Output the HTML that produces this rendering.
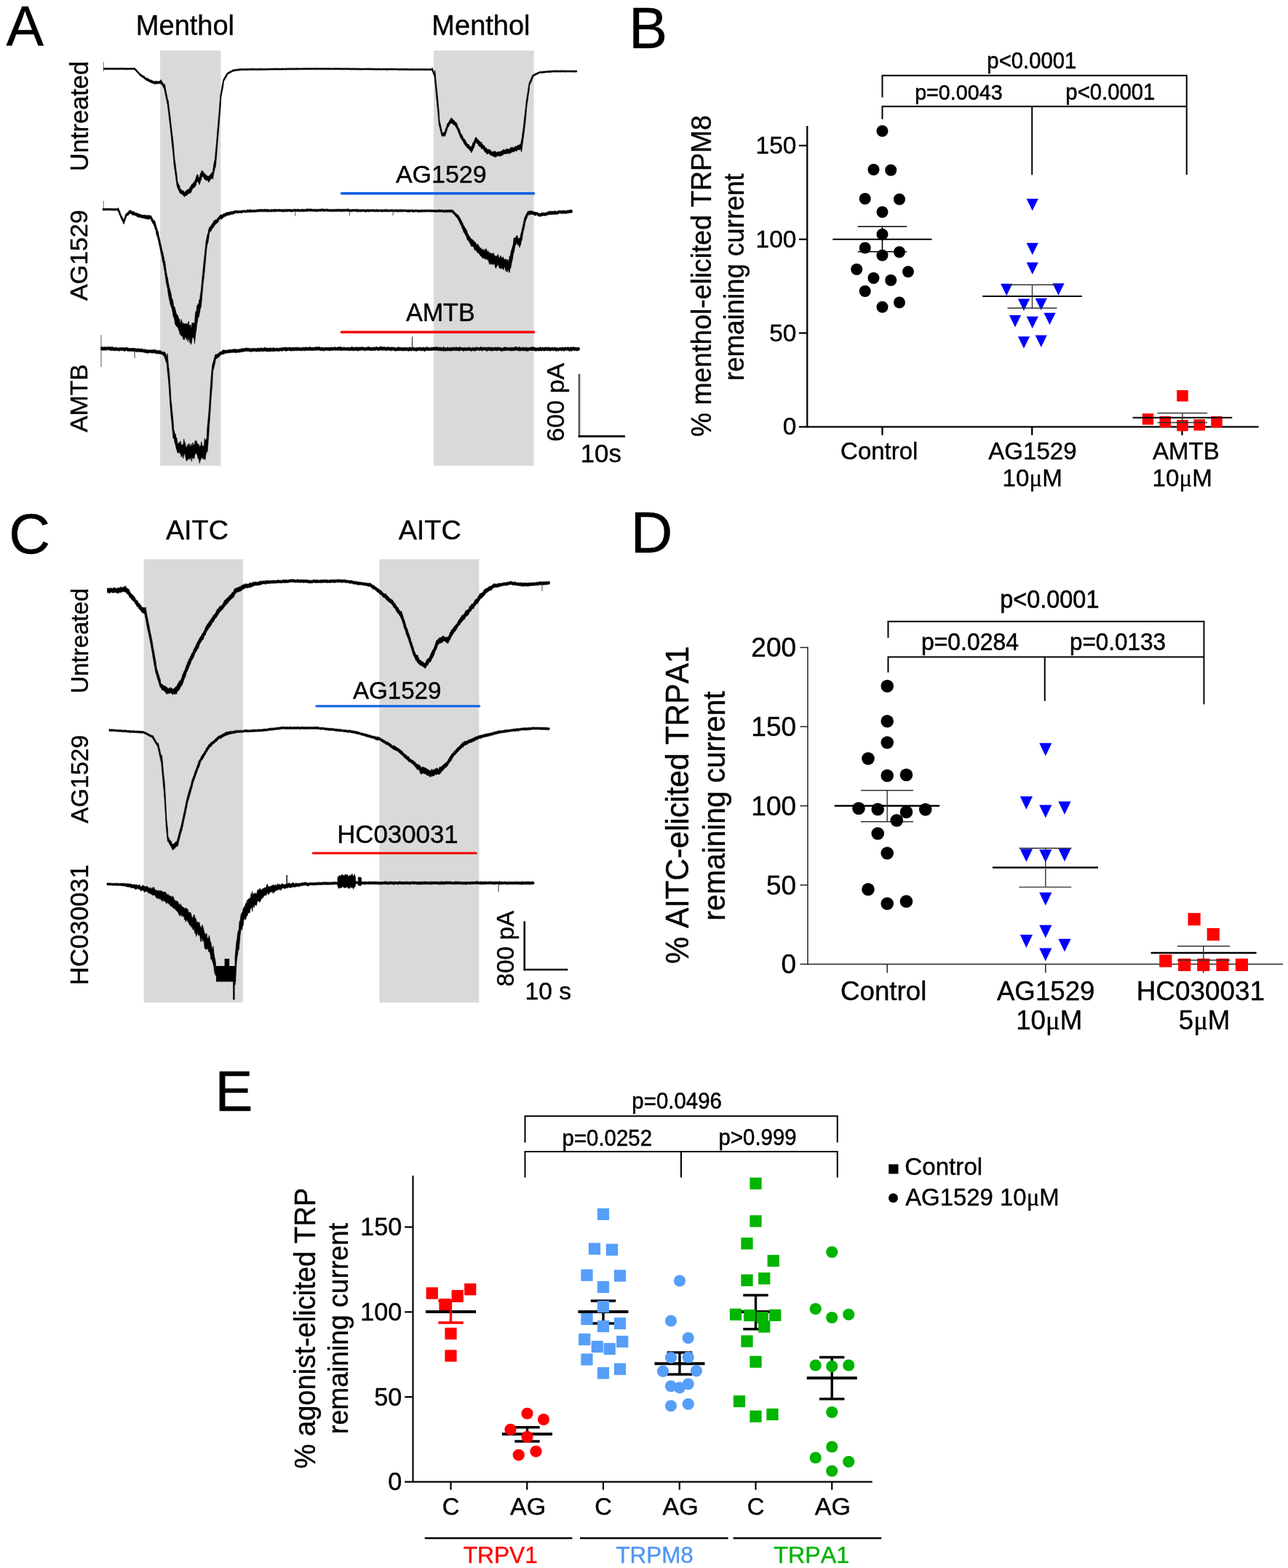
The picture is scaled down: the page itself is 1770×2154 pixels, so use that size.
<!DOCTYPE html>
<html lang="en">
<head>
<meta charset="utf-8">
<title>Figure: AG1529 effect on TRPM8 and TRPA1 currents</title>
<style>
html,body{margin:0;padding:0;background:#fff;}
body{width:1770px;height:2154px;overflow:hidden;}
svg{display:block;font-family:"Liberation Sans",sans-serif;font-kerning:none;}
</style>
</head>
<body>
<svg width="1770" height="2154" viewBox="0 0 1770 2154">
<rect x="0" y="0" width="1770" height="2154" fill="#ffffff"/>
<g id="panelA">
<rect x="220.10" y="69.40" width="83.30" height="570.40" fill="#d9d9d9"/>
<rect x="596.00" y="69.40" width="137.60" height="570.40" fill="#d9d9d9"/>
<text x="8.56" y="63.00" font-size="77.36" fill="#000" stroke="#000" stroke-width="0.40">A</text>
<text x="186.87" y="47.50" font-size="38.00" fill="#000" stroke="#000" stroke-width="0.40">Menthol</text>
<text x="593.37" y="47.50" font-size="38.00" fill="#000" stroke="#000" stroke-width="0.40">Menthol</text>
<text transform="translate(121.00 235.17) rotate(-90)" font-size="34.47" fill="#000" stroke="#000" stroke-width="0.40">Untreated</text>
<text transform="translate(119.50 413.08) rotate(-90)" font-size="33.97" fill="#000" stroke="#000" stroke-width="0.40">AG1529</text>
<text transform="translate(119.50 593.83) rotate(-90)" font-size="33.69" fill="#000" stroke="#000" stroke-width="0.40">AMTB</text>
<line x1="469.50" y1="265.70" x2="733.50" y2="265.70" stroke="#0b5ee6" stroke-width="3.60" stroke-linecap="round"/>
<text x="543.92" y="250.75" font-size="33.97" fill="#000" stroke="#000" stroke-width="0.40">AG1529</text>
<line x1="469.50" y1="456.30" x2="733.50" y2="456.30" stroke="#f60000" stroke-width="3.60" stroke-linecap="round"/>
<text x="557.91" y="441.00" font-size="34.15" fill="#000" stroke="#000" stroke-width="0.40">AMTB</text>
<line x1="796.00" y1="513.75" x2="796.00" y2="600.50" stroke="#555" stroke-width="2.60" stroke-linecap="butt"/>
<line x1="794.70" y1="599.40" x2="859.00" y2="599.40" stroke="#000" stroke-width="2.60" stroke-linecap="butt"/>
<text transform="translate(775.00 606.70) rotate(-90)" font-size="34.08" fill="#000" stroke="#000" stroke-width="0.40">600 pA</text>
<text x="797.70" y="635.00" font-size="34.90" fill="#000" stroke="#000" stroke-width="0.40">10s</text>
<line x1="142.30" y1="85.00" x2="142.30" y2="98.50" stroke="#888" stroke-width="1.20" stroke-linecap="butt"/>
<line x1="142.30" y1="276.00" x2="142.30" y2="290.00" stroke="#888" stroke-width="1.20" stroke-linecap="butt"/>
<line x1="139.00" y1="460.00" x2="139.00" y2="504.00" stroke="#888" stroke-width="1.40" stroke-linecap="butt"/>
<path d="M142.5 93.5L143.4 93.6L144.3 93.5L145.2 93.3L146 93.4L146.9 93.5L147.8 93.4L148.7 93.3L149.6 93.4L150.5 93.4L151.4 93.4L152.2 93.5L153.1 93.4L154 93.5L154.9 93.5L155.8 93.6L156.7 93.5L157.6 93.3L158.4 93.5L159.3 93.5L160.2 93.4L161.1 93.6L162 93.5L162.9 93.5L163.8 93.4L164.6 93.5L165.5 93.5L166.4 93.2L167.3 93.5L168.2 93.4L169.1 93.4L169.9 93.4L170.8 93.5L171.7 93.5L172.6 93.5L173.5 93.6L174.4 93.6L175.3 93.5L176.1 93.6L177 93.7L177.9 93.6L178.8 93.5L179.7 93.5L180.6 93.6L181.5 93.6L182.3 93.5L183.2 93.6L184.1 93.5L185 93.1L185.8 94L186.7 94.8L187.5 95.8L188.3 96.6L189.2 97.4L190 98.5L190.8 99.3L191.7 100.4L192.5 101.2L193.3 101.8L194.2 102.3L195 102.7L195.8 103.6L196.7 104L197.5 104.2L198.3 104.8L199.2 105.5L200 106.9L200.9 107L201.8 107.3L202.7 107.5L203.6 107.8L204.5 108.5L205.4 109.2L206.2 109.7L207.1 109.7L208 110L208.9 110.6L209.8 111.1L210.7 111.3L211.6 111.4L212.5 112.1L213.4 111.6L214.2 111.3L215.1 111.5L216 111.6L216.9 111.9L217.8 111.9L218.6 111.4L219.5 111.2L220.4 110.6L221.2 109.5L222.1 111.2L222.9 112.4L223.8 114.1L224.6 115.2L225.4 116.5L226.2 115.1L227.1 119.4L227.9 123.8L228.8 128.4L229.6 132.2L230.4 136.6L231.2 137.8L232.1 145.1L232.9 152.3L233.8 158.8L234.6 166.5L235.4 173.7L236.2 179.6L237 186.7L237.8 193L238.5 201.1L239.2 209L240 218.5L240.8 223.2L241.5 229.2L242.2 234.8L243 239.9L243.8 248.9L244.5 251L245.2 252.6L246 254.1L246.8 255.4L247.5 259.7L248.4 259.6L249.3 261.2L250.2 261.5L251.1 261.7L252 262L252.9 263.5L253.8 264.8L254.6 262.8L255.4 262.5L256.2 261.5L257.1 261.2L257.9 260.1L258.8 260L259.6 259.7L260.4 259.2L261.2 256.6L262.1 256.8L262.9 253.8L263.8 253.4L264.6 252.8L265.4 251.2L266.2 250.6L267.1 249.9L267.9 248L268.8 245.9L269.6 243L270.4 241.1L271.2 239.5L272.1 240.6L272.9 242.9L273.8 245L274.5 243L275.2 239.1L276 237.2L276.8 236.1L277.5 233.9L278.3 235.1L279.2 236.2L280 236.4L280.8 239.5L281.7 238.6L282.5 239.6L283.3 240.7L284.2 241.2L285 241.8L285.8 241.9L286.7 242L287.5 242.3L288.3 240.1L289.2 240.2L290 238.8L290.8 237.3L291.7 237.8L292.5 234.6L293.2 229.8L294 224.2L294.8 221.1L295.5 217.4L296.2 208.9L297 201L297.8 191.9L298.5 183.3L299.2 174.6L300 165.5L300.8 156.6L301.5 147.8L302.2 138.6L303 129.6L303.8 125.4L304.5 121.3L305.2 117.5L306 113.7L306.8 109.5L307.5 108L308.3 106.8L309.2 105.2L310 103.7L310.8 102.4L311.7 100.9L312.5 99.9L313.3 99.5L314.2 99L315 98.7L315.8 98L316.7 97.5L317.5 97.4L318.3 97L319.2 96.2L320 96L320.8 95.7L321.7 95.6L322.5 95.5L323.3 95.3L324.2 95.2L325 95.3L325.8 95L326.7 94.9L327.5 94.7L328.3 94.7L329.2 94.7L330 94.6L330.9 94.5L331.8 94.2L332.7 94.5L333.6 94.5L334.5 94.5L335.4 94.6L336.3 94.5L337.2 94.4L338.1 94.3L339 94.4L339.9 94.3L340.8 94.4L341.7 94.4L342.6 94.3L343.4 94.4L344.3 94.3L345.2 94.2L346.1 94.2L347 94.2L347.9 94.1L348.8 94.2L349.7 94.2L350.6 94.2L351.5 94.3L352.4 94.4L353.3 94.3L354.2 94.3L355.1 94.3L356 94.3L356.9 94.1L357.8 94.1L358.7 94.3L359.6 94.3L360.5 94.3L361.4 94.2L362.3 94.2L363.2 94.2L364.1 94.3L365 94.2L365.9 94.2L366.8 94.2L367.7 94.3L368.6 94.2L369.4 94.1L370.3 94.1L371.2 94L372.1 94.1L373 94.1L373.9 94L374.8 94L375.7 94L376.6 94L377.5 93.9L378.4 94L379.3 93.8L380.2 94L381.1 94L382 93.9L382.9 93.9L383.8 94L384.7 94L385.6 94L386.5 94.1L387.4 93.7L388.3 93.9L389.2 94L390.1 94L391 94L391.9 94L392.8 94.1L393.7 93.7L394.6 93.9L395.4 93.8L396.3 93.8L397.2 93.8L398.1 93.8L399 93.7L399.9 93.9L400.8 93.8L401.7 93.8L402.6 93.7L403.5 93.7L404.4 93.7L405.3 93.7L406.2 93.8L407.1 93.7L408 93.6L408.9 93.7L409.8 93.7L410.7 93.8L411.6 93.7L412.5 93.7L413.4 93.7L414.3 93.7L415.2 93.6L416.1 93.7L417 93.7L417.9 93.6L418.8 93.7L419.7 93.6L420.6 93.5L421.4 93.6L422.3 93.7L423.2 93.7L424.1 93.5L425 93.7L425.9 93.5L426.8 93.4L427.7 93.5L428.6 93.7L429.5 93.7L430.4 93.5L431.3 93.6L432.2 93.5L433.1 93.5L434 93.5L434.9 93.6L435.8 93.5L436.7 93.5L437.6 93.5L438.5 93.6L439.4 93.6L440.3 93.5L441.2 93.5L442.1 93.6L443 93.5L443.9 93.5L444.8 93.6L445.7 93.7L446.6 93.7L447.5 93.5L448.4 93.5L449.3 93.6L450.2 93.5L451.1 93.5L452 93.7L452.9 93.8L453.8 93.6L454.7 93.6L455.6 93.6L456.5 93.7L457.4 93.7L458.3 93.8L459.2 93.5L460.1 93.6L461 93.6L461.9 93.5L462.8 93.6L463.7 93.6L464.6 93.5L465.5 93.6L466.4 93.7L467.3 93.7L468.2 93.6L469.1 93.7L470 93.7L470.9 93.7L471.8 93.8L472.7 93.8L473.6 93.7L474.4 93.7L475.3 93.6L476.2 93.7L477.1 93.7L478 93.8L478.9 93.6L479.8 93.8L480.7 93.9L481.6 93.8L482.5 93.9L483.4 93.7L484.3 93.8L485.2 93.9L486.1 93.8L487 93.8L487.9 93.8L488.8 93.9L489.7 93.9L490.6 93.8L491.5 94L492.4 93.8L493.3 93.9L494.2 93.9L495.1 94.1L496 94L496.9 93.9L497.8 94L498.7 94L499.6 93.9L500.5 93.9L501.4 94L502.3 93.9L503.2 93.8L504.1 93.9L505 94L505.9 93.9L506.8 93.9L507.7 93.7L508.6 93.9L509.5 94L510.4 93.9L511.3 94.1L512.2 94L513.1 94.1L514 94.1L514.9 94L515.8 94.2L516.7 94L517.6 94.2L518.5 94.1L519.4 93.9L520.3 94L521.2 94.2L522.1 94.1L523 94.2L523.9 94.2L524.8 94.2L525.7 94.1L526.6 94.2L527.5 94L528.4 94.2L529.3 94.1L530.2 94.1L531.1 94.2L532 94.1L532.9 94.1L533.8 94.1L534.7 94.2L535.6 94.1L536.5 94.1L537.4 94L538.3 94.1L539.2 94.1L540.1 94.1L541 94.2L541.9 94.2L542.8 94.2L543.7 94.2L544.6 94.1L545.5 94.2L546.4 94.2L547.3 94.2L548.2 94.4L549.1 94.4L550 94.3L550.9 94.3L551.8 94.2L552.7 94.3L553.6 94.2L554.4 94.1L555.3 94.3L556.2 94.3L557.1 94.3L558 94.3L558.9 94.3L559.8 94.2L560.7 94.3L561.6 94.4L562.5 94.4L563.4 94.4L564.3 94.5L565.2 94.4L566.1 94.4L567 94.3L567.9 94.3L568.8 94.4L569.7 94.5L570.6 94.5L571.5 94.5L572.4 94.4L573.3 94.4L574.2 94.5L575.1 94.4L576 94.5L576.9 94.4L577.8 94.4L578.7 94.4L579.6 94.5L580.5 94.6L581.4 94.3L582.3 94.5L583.2 94.4L584.1 94.6L585 94.5L585.9 94.5L586.8 94.6L587.7 94.6L588.6 94.5L589.5 94.5L590.4 94.5L591.3 94.6L592.2 94.5L593.1 94.5L594 93.1L594.8 95L595.5 96.8L596.2 98.5L597 100.4L597.8 96.7L598.6 105.3L599.4 113.6L600.2 121.3L601 129.2L601.8 136.9L602.5 145.1L603.2 153.1L604 165.5L604.8 169L605.5 171.8L606.2 175.3L607 178.4L607.8 183.5L608.5 182.6L609.2 182.1L610 181.8L610.8 181.4L611.5 180.2L612.2 177.5L613 175.6L613.8 173.5L614.5 170L615.2 169.4L616.1 168.5L616.9 167.1L617.8 165.5L618.6 164.3L619.4 162.8L620.2 161.9L621.1 162.4L622 163.6L622.9 165L623.8 165L624.7 167.1L625.6 167.2L626.5 168.3L627.3 168.6L628.2 170.3L629 173.5L629.8 175L630.7 176.5L631.5 177.7L632.3 180.9L633.2 183.2L634 184.5L634.8 185.1L635.7 187.3L636.5 189.2L637.3 190.2L638.2 191L639 191.7L639.8 193.2L640.7 194.8L641.5 197.2L642.4 197.7L643.3 198.2L644.2 198.4L645.1 200.3L646 201.6L646.9 200.7L647.8 202.9L648.5 200.2L649.2 198.9L650 195.7L650.8 195.2L651.5 194.4L652.2 192.1L653 190.1L653.8 188.6L654.5 188.8L655.4 190.4L656.3 191L657.2 192.4L658.1 192.7L659 194.7L659.8 194.3L660.7 196L661.5 195.3L662.3 196.9L663.2 198.7L664 199.2L664.8 199.3L665.7 200.4L666.5 201.9L667.3 203.1L668.2 203L669 204.7L669.9 205.1L670.8 205.5L671.7 205.2L672.6 205.3L673.5 205.8L674.4 206.8L675.2 208.2L676.1 208.5L677 209L677.9 207.5L678.8 209.3L679.7 207.8L680.6 207.5L681.5 209L682.4 209.4L683.3 208.8L684.2 208.6L685.1 208.4L686 208.8L686.9 208.1L687.8 208.3L688.6 207.7L689.5 207.8L690.4 206.1L691.3 206.4L692.2 205.1L693.1 206L694 206.6L694.9 205.7L695.8 204.3L696.7 204.5L697.6 204.7L698.5 205.2L699.4 204.8L700.2 204.6L701.1 204.2L702 202.1L702.9 203.2L703.8 202.3L704.7 202.3L705.6 203.7L706.5 202.8L707.3 201.4L708.2 201.2L709 201.4L709.8 200.4L710.7 200.5L711.5 199.5L712.3 199.8L713.2 199L714 199.3L714.8 197.9L715.7 197.8L716.5 193L717.2 189.3L718 183.2L718.8 178.1L719.5 172.7L720.2 165.5L721 159.3L721.8 151.9L722.5 146L723.2 139.1L724 134.3L724.8 129.3L725.5 124.2L726.2 119.4L727 114.5L727.8 112.4L728.6 110.8L729.4 108.9L730.2 106.8L731.1 105L731.9 103.2L732.8 102.6L733.6 102.1L734.5 101.7L735.4 101.3L736.2 100.7L737.1 100.3L738 100L738.9 99.6L739.8 99.3L740.6 98.8L741.5 98.4L742.4 98.4L743.2 98.2L744.1 98.2L745 98.3L745.9 98.1L746.8 97.9L747.6 97.8L748.5 97.8L749.4 97.9L750.2 97.8L751.1 97.7L752 97.5L752.9 97.2L753.8 97.3L754.6 97.2L755.5 97.3L756.4 97.2L757.2 97L758.1 97L759 97.1L759.9 96.9L760.8 97L761.7 96.8L762.6 96.9L763.4 96.8L764.3 96.8L765.2 96.9L766.1 96.9L767 97L767.9 96.7L768.8 97L769.7 96.9L770.5 96.8L771.4 96.8L772.3 96.7L773.2 96.9L774.1 96.7L775 97L775.9 97L776.8 96.9L777.7 96.8L778.5 96.9L779.4 96.9L780.3 96.9L781.2 97L782.1 96.8L783 97L783.9 97L784.8 97L785.6 96.9L786.5 96.9L787.4 97.1L788.3 97.1L789.2 97.1L790.1 97L791 97L791.9 96.8L792.8 97.2L792.8 98.8L791.9 98.9L791 99.1L790.1 99L789.2 99.1L788.3 99.1L787.4 99.2L786.5 99L785.6 98.9L784.8 98.9L783.9 99L783 98.9L782.1 98.9L781.2 98.9L780.3 99.1L779.4 98.9L778.5 99L777.7 99.1L776.8 99L775.9 99L775 99.1L774.1 99L773.2 98.9L772.3 98.8L771.4 98.9L770.5 99L769.7 99.2L768.8 98.9L767.9 99L767 99L766.1 99.2L765.2 99L764.3 99L763.4 99L762.6 99L761.7 98.9L760.8 99L759.9 99.1L759 99L758.1 99.3L757.2 99.2L756.4 99.4L755.5 99.7L754.6 99.4L753.8 99.4L752.9 99.4L752 99.6L751.1 99.6L750.2 99.8L749.4 99.9L748.5 99.9L747.6 99.9L746.8 100.3L745.9 100.4L745 100.2L744.1 100.2L743.2 100.4L742.4 100.5L741.5 100.4L740.6 100.9L739.8 101.5L738.9 101.9L738 102.3L737.1 102.6L736.2 103.3L735.4 103.6L734.5 104.3L733.6 104.5L732.8 105.2L731.9 107.8L731.1 110L730.2 111.9L729.4 113.7L728.6 115.6L727.8 117.3L727 125.8L726.2 130.4L725.5 135.4L724.8 140.3L724 145.3L723.2 154.7L722.5 162.3L721.8 169.5L721 176.6L720.2 183.1L719.5 187.9L718.8 192.7L718 198.6L717.2 205.5L716.5 209L715.7 203.5L714.8 206L714 205.3L713.2 205.9L712.3 205.8L711.5 205L710.7 206.9L709.8 207.9L709 207.6L708.2 206.7L707.3 207.1L706.5 208.8L705.6 208.7L704.7 208.6L703.8 208.2L702.9 209.5L702 210.3L701.1 210.1L700.2 211.1L699.4 211.7L698.5 209.9L697.6 210.8L696.7 211.1L695.8 211.4L694.9 210.3L694 212L693.1 211.1L692.2 211L691.3 213L690.4 213.2L689.5 213.8L688.6 214L687.8 213.9L686.9 214.9L686 214.5L685.1 213.9L684.2 213.4L683.3 214.9L682.4 214.5L681.5 215.8L680.6 215.7L679.7 215.2L678.8 215.6L677.9 214.5L677 213.5L676.1 214.4L675.2 213.6L674.4 212.1L673.5 213.2L672.6 211.2L671.7 210.2L670.8 211.2L669.9 211.4L669 211.6L668.2 210.2L667.3 208.6L666.5 209.3L665.7 207.7L664.8 206.3L664 204.7L663.2 204.8L662.3 203.6L661.5 204.7L660.7 201.4L659.8 201.8L659 201.1L658.1 200.6L657.2 198.7L656.3 196.6L655.4 197.5L654.5 194.9L653.8 195.8L653 197.4L652.2 199.8L651.5 202.7L650.8 203.4L650 205.5L649.2 207.5L648.5 208L647.8 210L646.9 207.6L646 207.2L645.1 205.9L644.2 204.2L643.3 204.1L642.4 203.6L641.5 201.8L640.7 201.3L639.8 200.5L639 198.7L638.2 198.2L637.3 196.5L636.5 194.6L635.7 193.4L634.8 192.7L634 190.4L633.2 189.8L632.3 188.1L631.5 184.9L630.7 183.9L629.8 181.2L629 179.5L628.2 177.3L627.3 175.9L626.5 174.4L625.6 172.9L624.7 172.3L623.8 171.2L622.9 170.7L622 170.6L621.1 168.7L620.2 169.6L619.4 169.1L618.6 170.5L617.8 170.7L616.9 173.4L616.1 174.1L615.2 175.6L614.5 178.1L613.8 180.4L613 182.9L612.2 185L611.5 187.3L610.8 186.8L610 187.2L609.2 186.3L608.5 187.3L607.8 187.3L607 186.7L606.2 183.3L605.5 180.3L604.8 177.5L604 174.3L603.2 171.1L602.5 163.1L601.8 154.5L601 146.9L600.2 138.8L599.4 130.2L598.6 121.4L597.8 113L597 105.4L596.2 103.4L595.5 101.6L594.8 99.7L594 97.7L593.1 96.5L592.2 96.5L591.3 96.6L590.4 96.5L589.5 96.4L588.6 96.5L587.7 96.5L586.8 96.5L585.9 96.5L585 96.4L584.1 96.5L583.2 96.4L582.3 96.4L581.4 96.3L580.5 96.5L579.6 96.4L578.7 96.4L577.8 96.4L576.9 96.4L576 96.3L575.1 96.4L574.2 96.4L573.3 96.3L572.4 96.4L571.5 96.3L570.6 96.3L569.7 96.4L568.8 96.4L567.9 96.3L567 96.3L566.1 96.3L565.2 96.4L564.3 96.4L563.4 96.4L562.5 96.4L561.6 96.3L560.7 96.3L559.8 96.3L558.9 96.3L558 96.4L557.1 96.4L556.2 96.2L555.3 96.3L554.4 96.2L553.6 96.1L552.7 96.3L551.8 96.2L550.9 96.2L550 96.3L549.1 96.5L548.2 96.2L547.3 96.3L546.4 96.1L545.5 96.2L544.6 96.1L543.7 96.1L542.8 96.1L541.9 96.1L541 96.1L540.1 96.2L539.2 96L538.3 96.1L537.4 96.1L536.5 96L535.6 96L534.7 96.1L533.8 96.2L532.9 96.2L532 96.2L531.1 96.2L530.2 96.2L529.3 96.1L528.4 96.1L527.5 96L526.6 96.1L525.7 96.1L524.8 96.2L523.9 96.1L523 96L522.1 96.1L521.2 96.1L520.3 96.1L519.4 96.2L518.5 96.1L517.6 96.1L516.7 96.2L515.8 96.1L514.9 96.1L514 95.9L513.1 96L512.2 95.9L511.3 96L510.4 96L509.5 96.1L508.6 95.8L507.7 95.9L506.8 95.9L505.9 95.8L505 96L504.1 95.9L503.2 95.9L502.3 95.8L501.4 95.8L500.5 95.9L499.6 95.9L498.7 96L497.8 95.9L496.9 96L496 96L495.1 96L494.2 95.9L493.3 95.9L492.4 95.9L491.5 95.9L490.6 95.8L489.7 95.8L488.8 95.9L487.9 95.9L487 95.8L486.1 95.8L485.2 96L484.3 95.8L483.4 95.7L482.5 96L481.6 95.8L480.7 95.8L479.8 95.7L478.9 95.6L478 95.8L477.1 95.6L476.2 95.7L475.3 95.6L474.4 95.7L473.6 95.7L472.7 95.8L471.8 95.7L470.9 95.8L470 95.6L469.1 95.6L468.2 95.7L467.3 95.7L466.4 95.6L465.5 95.7L464.6 95.5L463.7 95.6L462.8 95.7L461.9 95.5L461 95.6L460.1 95.6L459.2 95.6L458.3 95.8L457.4 95.6L456.5 95.7L455.6 95.6L454.7 95.5L453.8 95.6L452.9 95.7L452 95.7L451.1 95.5L450.2 95.5L449.3 95.5L448.4 95.4L447.5 95.6L446.6 95.7L445.7 95.7L444.8 95.5L443.9 95.5L443 95.5L442.1 95.6L441.2 95.5L440.3 95.5L439.4 95.6L438.5 95.4L437.6 95.4L436.7 95.4L435.8 95.5L434.9 95.6L434 95.4L433.1 95.4L432.2 95.6L431.3 95.6L430.4 95.5L429.5 95.6L428.6 95.7L427.7 95.6L426.8 95.5L425.9 95.6L425 95.6L424.1 95.5L423.2 95.6L422.3 95.7L421.4 95.7L420.6 95.5L419.7 95.6L418.8 95.6L417.9 95.6L417 95.7L416.1 95.6L415.2 95.6L414.3 95.8L413.4 95.6L412.5 95.6L411.6 95.7L410.7 95.9L409.8 95.7L408.9 95.7L408 95.6L407.1 95.8L406.2 95.7L405.3 95.8L404.4 95.8L403.5 95.9L402.6 95.8L401.7 95.9L400.8 95.7L399.9 95.8L399 95.7L398.1 95.9L397.2 95.8L396.3 95.8L395.4 95.7L394.6 95.8L393.7 96L392.8 96L391.9 95.8L391 95.9L390.1 96L389.2 95.9L388.3 95.9L387.4 96L386.5 96L385.6 96L384.7 95.9L383.8 96L382.9 96.1L382 95.9L381.1 96L380.2 95.9L379.3 95.9L378.4 96.1L377.5 95.9L376.6 96L375.7 96.1L374.8 96L373.9 96.1L373 96.1L372.1 96L371.2 96.1L370.3 96L369.4 96L368.6 96.1L367.7 96.3L366.8 96.3L365.9 96.2L365 96.1L364.1 96.2L363.2 96.2L362.3 96.2L361.4 96.1L360.5 96.2L359.6 96.5L358.7 96.3L357.8 96.1L356.9 96.3L356 96.2L355.1 96.3L354.2 96.2L353.3 96.2L352.4 96.4L351.5 96.4L350.6 96.1L349.7 96.4L348.8 96.1L347.9 96.2L347 96.3L346.1 96.2L345.2 96.3L344.3 96.2L343.4 96.3L342.6 96.2L341.7 96.3L340.8 96.4L339.9 96.4L339 96.2L338.1 96.4L337.2 96.3L336.3 96.5L335.4 96.6L334.5 96.5L333.6 96.5L332.7 96.6L331.8 96.5L330.9 96.5L330 96.6L329.2 96.9L328.3 96.9L327.5 96.9L326.7 97L325.8 97L325 97.3L324.2 97.3L323.3 97.5L322.5 97.6L321.7 97.9L320.8 98.1L320 98L319.2 98.7L318.3 99.2L317.5 99.7L316.7 99.9L315.8 100.6L315 101L314.2 101.5L313.3 102L312.5 102.5L311.7 104.6L310.8 106.2L310 107.6L309.2 109L308.3 110.5L307.5 111.7L306.8 118.3L306 122.8L305.2 126.6L304.5 130.3L303.8 134.4L303 148.7L302.2 157.5L301.5 166.7L300.8 175.6L300 184.6L299.2 194.1L298.5 203.2L297.8 212.2L297 221.4L296.2 230L295.5 229.7L294.8 233.9L294 237.3L293.2 241.3L292.5 246.5L291.7 243.9L290.8 245L290 245.5L289.2 246.8L288.3 248.3L287.5 249L286.7 250.5L285.8 248.8L285 246.9L284.2 247.4L283.3 248.2L282.5 246.7L281.7 246.2L280.8 246.1L280 243.8L279.2 242.4L278.3 242.9L277.5 241.7L276.8 245.7L276 247.4L275.2 250.3L274.5 252.5L273.8 253.8L272.9 250.5L272.1 250.2L271.2 247.7L270.4 250L269.6 253L268.8 255.5L267.9 256.6L267.1 257.6L266.2 257.9L265.4 258.7L264.6 259.9L263.8 260.5L262.9 263.5L262.1 264.8L261.2 265.1L260.4 266.1L259.6 265.7L258.8 266.5L257.9 266.5L257.1 268.2L256.2 268.8L255.4 268.7L254.6 268.7L253.8 270.3L252.9 270L252 268.5L251.1 267.1L250.2 267.3L249.3 266.4L248.4 265.8L247.5 265.6L246.8 264.5L246 262.1L245.2 260.6L244.5 259L243.8 257.7L243 254.2L242.2 248.8L241.5 243.2L240.8 238.1L240 232.4L239.2 227.6L238.5 218.7L237.8 211.1L237 203.8L236.2 196.8L235.4 188.2L234.6 181.2L233.8 173.5L232.9 166.2L232.1 159.2L231.2 152.2L230.4 145L229.6 140.9L228.8 136.8L227.9 132.9L227.1 128.8L226.2 124.6L225.4 121L224.6 120.2L223.8 118.6L222.9 117.1L222.1 116.2L221.2 114.5L220.4 115.2L219.5 114.8L218.6 114.9L217.8 115.1L216.9 114.7L216 115.2L215.1 115.3L214.2 114.8L213.4 115.4L212.5 115.7L211.6 114.7L210.7 114.6L209.8 114.5L208.9 114L208 113.7L207.1 113.4L206.2 112.9L205.4 112.4L204.5 112.1L203.6 111.6L202.7 111.2L201.8 110.7L200.9 110.3L200 109.6L199.2 109.1L198.3 107.9L197.5 107.2L196.7 106.9L195.8 106.6L195 105.8L194.2 105.2L193.3 104.7L192.5 104L191.7 103.2L190.8 102.2L190 101.1L189.2 100.2L188.3 99.4L187.5 98.3L186.7 97.5L185.8 96.7L185 95.8L184.1 95.5L183.2 95.5L182.3 95.6L181.5 95.6L180.6 95.5L179.7 95.5L178.8 95.5L177.9 95.6L177 95.6L176.1 95.7L175.3 95.6L174.4 95.7L173.5 95.7L172.6 95.5L171.7 95.6L170.8 95.6L169.9 95.6L169.1 95.5L168.2 95.5L167.3 95.4L166.4 95.4L165.5 95.5L164.6 95.5L163.8 95.4L162.9 95.7L162 95.5L161.1 95.4L160.2 95.5L159.3 95.4L158.4 95.5L157.6 95.5L156.7 95.5L155.8 95.5L154.9 95.4L154 95.3L153.1 95.6L152.2 95.4L151.4 95.5L150.5 95.4L149.6 95.4L148.7 95.5L147.8 95.4L146.9 95.4L146 95.4L145.2 95.5L144.3 95.4L143.4 95.5L142.5 95.6Z" stroke="#000" stroke-width="0.70" fill="#000" stroke-linejoin="round"/>
<path d="M141.2 286.5L142.1 286.2L143 286.5L143.9 286.5L144.8 286.5L145.7 286.3L146.6 286.2L147.4 286.6L148.3 286.3L149.2 286.4L150.1 286.4L151 286.2L151.9 286.5L152.8 286.5L153.6 286.6L154.5 286.4L155.4 286.7L156.3 286.5L157.2 286.7L158.1 286.6L159 286.6L159.8 286.5L160.7 286.8L161.6 286.7L162.5 285.2L163.2 287.1L164 289L164.8 291L165.5 292.9L166.2 295.1L167 296.4L167.8 298L168.5 299.4L169.2 301L170 302L170.8 299.8L171.5 298.2L172.2 295.8L173 293.5L173.8 293.4L174.6 292.9L175.4 291.8L176.2 290.8L177.1 290.6L177.9 288.6L178.8 288.9L179.6 289.4L180.5 289L181.3 290.7L182.2 290.9L183.1 290L183.9 290.9L184.8 291.1L185.7 292.2L186.5 292.8L187.4 292.1L188.3 292.8L189.1 293.4L190 293.3L190.9 294.1L191.8 293.9L192.6 294.3L193.5 294.8L194.4 295.3L195.2 295.4L196.1 294.9L197 295.8L197.9 295.6L198.8 295L199.6 295.9L200.5 295.7L201.4 295.8L202.2 296.4L203.1 295.6L204 295.8L204.9 296.1L205.8 295.8L206.6 296.8L207.5 296.1L208.3 298L209.2 299.3L210 301.1L210.8 302.2L211.7 303.3L212.5 303.2L213.3 305.1L214.2 308.7L215 311.9L215.8 314.5L216.7 317.2L217.5 317.9L218.3 323.8L219.2 327.1L220 330.9L220.8 335.1L221.7 338L222.5 343L223.3 344.9L224.2 348.9L225 352.5L225.9 357.4L226.8 360.2L227.7 367.8L228.6 373.5L229.5 378.8L230.4 381.8L231.2 387.2L232.1 391.9L232.9 395.7L233.8 398.5L234.6 401.7L235.4 404.5L236.2 411L237.1 410.9L238 415.3L238.9 422.6L239.8 421L240.7 424.5L241.6 428L242.5 431.3L243.3 432.1L244.2 433.1L245 435.3L245.8 438.2L246.7 437.9L247.5 444.2L248.3 443.2L249.2 438.7L250 441.9L250.8 442.7L251.7 446.4L252.5 443.7L253.3 445.3L254.2 445L255 444.2L255.8 444.2L256.7 445.9L257.5 444.9L258.3 444.8L259.2 441.3L260 447.8L260.8 447.2L261.7 446L262.5 452.5L263.3 446.7L264.2 443.3L265 445.1L265.8 443.1L266.7 444.1L267.5 445.8L268.2 433.4L269 427.5L269.8 429.8L270.5 420.8L271.2 419.6L272.1 417.4L272.9 418.8L273.8 411.7L274.6 411.7L275.4 403.9L276.2 399.9L277 391.5L277.8 382.6L278.5 375.9L279.2 368.5L280 360.8L280.8 354.1L281.5 346.8L282.2 340.8L283 332.3L283.8 328.5L284.5 324.3L285.2 322L286 319.9L286.8 314.9L287.5 313.2L288.4 311.4L289.3 311.6L290.2 309.5L291.1 308.3L292 306.5L292.9 306.1L293.8 303.7L294.6 302.8L295.5 302.4L296.4 301.7L297.2 302.1L298.1 301.5L299 299.5L299.9 298.6L300.8 297.7L301.6 297L302.5 295.5L303.3 295.2L304.2 295.1L305 294.9L305.8 295.1L306.7 293.9L307.5 293.4L308.3 293.7L309.2 292.8L310 292.7L310.8 292.5L311.7 291.8L312.5 291.6L313.4 291.4L314.3 291.5L315.2 291.3L316.1 291.2L317 290.5L317.9 290.6L318.8 290.8L319.6 290.6L320.5 290.3L321.4 289.6L322.3 289.7L323.2 289.3L324.1 289.2L325 289.1L325.9 289.6L326.8 289.2L327.7 289.9L328.6 289.4L329.5 289.3L330.4 289.8L331.2 289.2L332.1 289.1L333 289L333.9 289L334.8 288.9L335.7 288.8L336.6 288.7L337.5 289.2L338.4 288.7L339.3 288.8L340.2 287.7L341.1 288.5L342 288.3L342.9 288.7L343.8 287.7L344.6 288L345.5 288.3L346.4 288.4L347.3 288.4L348.2 288.5L349.1 288.1L350 288.2L350.9 288.6L351.8 288.6L352.7 288L353.6 287.8L354.5 287.8L355.4 287.8L356.3 287.7L357.1 287.8L358 287.4L358.9 287.4L359.8 287.6L360.7 287.7L361.6 287.8L362.5 287.6L363.4 287.3L364.3 287.5L365.2 287.6L366.1 287.7L367 287.8L367.9 287.2L368.8 287.7L369.7 288.1L370.6 288.2L371.4 287.9L372.3 287.6L373.2 287.9L374.1 287.7L375 287.8L375.9 287.7L376.8 287.6L377.7 287.6L378.6 287.2L379.5 287.6L380.4 288L381.3 287.6L382.2 287.6L383.1 287.3L384 287.6L384.9 287.4L385.7 287.8L386.6 287.5L387.5 288.1L388.4 287.5L389.3 287.5L390.2 288L391.1 287.8L392 287.6L392.9 287.2L393.8 287.4L394.7 287.6L395.6 287.5L396.5 287.5L397.4 287.6L398.3 287.4L399.1 287.5L400 287.9L400.9 287.8L401.8 287.8L402.7 287.5L403.6 287.8L404.5 287.4L405.4 287.2L406.3 287.5L407.2 287.7L408.1 287.7L409 287.1L409.9 287.1L410.8 287.8L411.7 288L412.6 287.7L413.4 287.6L414.3 287.4L415.2 287.3L416.1 287.4L417 287.6L417.9 287.4L418.8 287.7L419.7 287.5L420.6 287.6L421.5 286.8L422.4 286.9L423.3 287L424.2 287.1L425.1 287.2L426 287.2L426.9 286.8L427.7 287.1L428.6 287.3L429.5 287.4L430.4 287.5L431.3 287.5L432.2 287.2L433.1 287.5L434 287.4L434.9 287.8L435.8 287.4L436.7 287.5L437.6 287.3L438.5 287.3L439.4 287.4L440.3 287.2L441.2 287L442.1 287L443 287.4L443.9 286.6L444.8 287.3L445.7 287.6L446.6 287.2L447.5 287.4L448.4 287.3L449.3 287L450.1 287.1L451 287.7L451.9 287.5L452.8 287.7L453.7 287.5L454.6 287.5L455.5 287.9L456.4 287.4L457.3 287.7L458.2 287.4L459.1 287.7L460 287.6L460.9 287.6L461.8 287.6L462.7 287.3L463.6 287.7L464.5 287.2L465.4 287.2L466.3 287.3L467.2 287.4L468.1 287.6L469 287.5L469.9 287.2L470.8 287.7L471.7 287.4L472.6 287.3L473.5 287.4L474.4 287.4L475.3 287.5L476.2 287.3L477.1 287.4L478 286.8L478.9 287.1L479.8 287.7L480.7 288L481.5 287.4L482.4 287.9L483.3 287.7L484.2 287.7L485.1 287.3L486 287.7L486.9 287.7L487.8 287.4L488.7 287.5L489.6 287.4L490.5 288L491.4 287.1L492.3 287.6L493.2 288L494.1 288L495 288L495.9 287.8L496.8 288L497.7 288L498.6 287.4L499.5 287.9L500.4 288L501.3 287.7L502.2 287.9L503.1 288.1L504 288.1L504.9 287.5L505.8 288L506.7 287.7L507.6 287.8L508.5 288L509.4 287.9L510.3 287.7L511.2 287.7L512.1 288L512.9 287.6L513.8 287.9L514.7 288L515.6 288.1L516.5 287.7L517.4 287.6L518.3 287.8L519.2 288L520.1 288L521 287.9L521.9 287.9L522.8 288.2L523.7 287.9L524.6 288L525.5 287.8L526.4 288.1L527.3 288.1L528.2 287.7L529.1 287.7L530 287.8L530.9 287.8L531.8 287.7L532.7 288L533.6 287.9L534.5 288.4L535.4 288.1L536.3 287.9L537.2 287.8L538.1 288.1L539 287.8L539.9 288.1L540.8 288.2L541.7 288.1L542.6 288L543.4 287.9L544.3 287.9L545.2 287.8L546.1 288.1L547 288.3L547.9 288.1L548.8 288.2L549.7 287.5L550.6 288L551.5 288L552.4 288.3L553.3 287.7L554.2 288.2L555.1 288L556 287.9L556.9 288L557.8 288.2L558.7 288.2L559.6 288.2L560.5 288.4L561.4 288L562.3 288.3L563.2 288L564.1 288.2L565 288.4L565.9 287.9L566.8 288L567.7 288.2L568.6 288.4L569.5 288.5L570.4 288.2L571.3 288.1L572.2 288L573.1 288.3L574 288.4L574.8 288.3L575.7 288.3L576.6 288.7L577.5 288.5L578.4 288.1L579.3 288.5L580.2 287.9L581.1 288.4L582 288.5L582.9 288L583.8 288.3L584.7 288.2L585.6 288.1L586.5 288.2L587.4 288.1L588.3 288.4L589.2 288L590.1 288.3L591 288.3L591.9 288.2L592.8 288.3L593.7 288.2L594.6 288.2L595.5 288.3L596.4 288.6L597.3 288.4L598.2 288.4L599.1 288.7L600 288.6L600.9 288.3L601.8 288.4L602.7 288.2L603.6 288L604.5 288.1L605.4 288.4L606.2 288.2L607.1 288.3L608 288.5L608.9 288.4L609.8 288.8L610.7 288.6L611.6 288.8L612.5 288.3L613.4 288.4L614.3 288.5L615.2 288.4L616.1 288.3L617 288.4L617.9 288.6L618.8 288.2L619.7 288.3L620.6 288.3L621.5 288.2L622.3 289.1L623.2 289.2L624 290.7L624.8 291.2L625.7 292.7L626.5 293.1L627.3 293.7L628.2 295L629 294.6L629.8 295.9L630.7 297.5L631.5 298.1L632.3 300L633.2 301.2L634 302.9L634.8 304.8L635.7 305.8L636.5 309.3L637.3 309.4L638.2 311.3L639 313.5L639.8 313.7L640.7 315.5L641.5 316.4L642.3 319.8L643.2 321.4L644 324.1L644.8 323.7L645.7 325.8L646.5 326.1L647.3 329.2L648.2 327.9L649 330.4L649.8 329.2L650.7 330L651.5 331.8L652.3 332.5L653.2 332.5L654 334L654.9 337.5L655.8 335.5L656.7 335L657.6 338.4L658.5 338L659.4 340.4L660.2 341.9L661.1 340.3L662 343.7L662.9 342.5L663.8 342.9L664.7 342.6L665.6 345.7L666.5 342.5L667.4 343L668.3 341.6L669.2 345.9L670.1 344.9L671 344.7L671.9 347.4L672.8 347.1L673.6 347L674.5 348.8L675.4 348.2L676.3 347.8L677.2 351.1L678.1 347.2L679 350.1L679.9 351.2L680.8 351.5L681.7 352.3L682.6 351.6L683.5 351.7L684.4 349.1L685.2 352.6L686.1 355.2L687 353.8L687.9 351.1L688.8 353.2L689.7 354.4L690.6 353.6L691.5 352.9L692.4 356.1L693.2 356L694.1 356.5L695 356.2L695.9 355.9L696.8 360L697.6 356.1L698.5 359L699.4 359.2L700.2 352L701 352.5L701.8 348.7L702.5 344.1L703.2 342.8L704 339.5L704.8 337.8L705.5 333.8L706.2 326.8L707 326.7L707.8 327.7L708.6 326L709.4 324.7L710.2 323.6L711 323.8L711.8 327.9L712.5 327L713.2 328.2L714 327.6L714.8 326.6L715.5 322.2L716.2 320.2L717 317.1L717.8 312.7L718.5 310.1L719.2 306.7L720 303.2L720.8 299.1L721.5 298.3L722.2 296.6L723 294.4L723.8 293.7L724.5 291.3L725.2 291.3L726 290.2L726.8 290.3L727.5 289.8L728.2 290L729 290.1L729.9 289.8L730.8 289.6L731.7 290.2L732.6 290.8L733.5 290.4L734.4 291.2L735.2 291.5L736.1 291.4L737 291.7L737.9 291.8L738.8 291.7L739.7 292.7L740.6 293L741.5 292.9L742.4 293.7L743.2 293L744.1 292L745 291.9L745.9 292.8L746.8 292.1L747.6 292.2L748.5 292.6L749.4 291.9L750.2 292.4L751.1 291.6L752 291.5L752.9 290.9L753.8 290.8L754.6 290.9L755.5 289.6L756.4 290.7L757.2 290.5L758.1 290L759 290.2L759.9 290.3L760.8 290.6L761.7 289.7L762.6 289.8L763.5 290.1L764.4 290.2L765.2 290.5L766.1 290.2L767 289.4L767.9 289.5L768.8 289.1L769.7 289.3L770.6 289.4L771.5 289.8L772.4 289.2L773.3 289.1L774.1 288.9L775 289.5L775.9 289L776.8 289.9L777.7 289.4L778.6 289.5L779.4 288.9L780.3 288.9L781.2 288.9L782.1 289.1L783 288.1L783.9 288.4L784.7 288.4L785.6 288.2L786.5 289.7L786.5 291.3L785.6 292.5L784.7 292.2L783.9 292L783 292.7L782.1 292.3L781.2 293.1L780.3 292.8L779.4 292.9L778.6 293.2L777.7 293.1L776.8 293.5L775.9 293.2L775 293.5L774.1 293L773.3 293.1L772.4 293.7L771.5 293.7L770.6 293L769.7 292.9L768.8 292.7L767.9 293.8L767 293.8L766.1 294L765.2 294.8L764.4 294.2L763.5 294.4L762.6 294.1L761.7 294.4L760.8 294.7L759.9 294.3L759 294.3L758.1 294.6L757.2 295.1L756.4 294.5L755.5 294.8L754.6 294.6L753.8 295.5L752.9 294.8L752 295.5L751.1 295.7L750.2 296.3L749.4 296.5L748.5 296.4L747.6 296L746.8 296.3L745.9 296.6L745 296.6L744.1 296.6L743.2 297.6L742.4 297.4L741.5 296.9L740.6 297.4L739.7 296.8L738.8 296.1L737.9 295.3L737 295.2L736.1 296.2L735.2 296.2L734.4 295.5L733.5 295.3L732.6 294.6L731.7 294.7L730.8 294.3L729.9 294.4L729 294.2L728.2 294.9L727.5 294.9L726.8 294.4L726 296L725.2 295.6L724.5 298.4L723.8 300L723 301.7L722.2 304.5L721.5 306.2L720.8 311.5L720 315L719.2 317.8L718.5 321L717.8 326.3L717 330.2L716.2 332.6L715.5 336.2L714.8 337.7L714 339.9L713.2 337.2L712.5 335.6L711.8 337.2L711 334.6L710.2 334L709.4 334.8L708.6 336.9L707.8 337.7L707 342.5L706.2 347L705.5 347.8L704.8 353.9L704 357.5L703.2 360.3L702.5 364.7L701.8 368.5L701 368.1L700.2 374.4L699.4 374.1L698.5 368.6L697.6 372.3L696.8 373.8L695.9 370.5L695 372.6L694.1 367L693.2 366.2L692.4 370.1L691.5 370.7L690.6 368.2L689.7 368.6L688.8 368.6L687.9 368.9L687 368.7L686.1 367.8L685.2 363.9L684.4 362.6L683.5 365.8L682.6 364.6L681.7 368.5L680.8 367.9L679.9 363.2L679 361.5L678.1 363.6L677.2 363.6L676.3 362.4L675.4 362.8L674.5 363.4L673.6 359.6L672.8 363.4L671.9 360L671 357.3L670.1 357.4L669.2 355.7L668.3 355.1L667.4 356.7L666.5 354.4L665.6 355.6L664.7 354L663.8 354.3L662.9 354.5L662 352.9L661.1 351.8L660.2 351.6L659.4 349.5L658.5 349.2L657.6 347.6L656.7 346.3L655.8 347.2L654.9 345.1L654 343.6L653.2 342.8L652.3 344L651.5 340.7L650.7 338.7L649.8 338.6L649 338.8L648.2 338.2L647.3 338.1L646.5 334.5L645.7 334.4L644.8 332.5L644 330.8L643.2 329.9L642.3 329.8L641.5 326.9L640.7 324.8L639.8 323.3L639 321.4L638.2 319.8L637.3 319.2L636.5 316.5L635.7 314.8L634.8 313.1L634 310.1L633.2 308.9L632.3 307.3L631.5 305.6L630.7 303.5L629.8 301.9L629 300.4L628.2 299.2L627.3 298.7L626.5 297.6L625.7 296.8L624.8 295.3L624 294.4L623.2 293.9L622.3 293L621.5 291.9L620.6 291.2L619.7 291.9L618.8 291.6L617.9 291.4L617 291.2L616.1 291.3L615.2 291.8L614.3 291.8L613.4 291.4L612.5 291.4L611.6 291.8L610.7 291.7L609.8 291.7L608.9 291.7L608 291L607.1 291.1L606.2 291.1L605.4 291.2L604.5 291.3L603.6 291.1L602.7 291.1L601.8 291.2L600.9 291.3L600 291.2L599.1 291.4L598.2 290.9L597.3 291.5L596.4 291.3L595.5 290.9L594.6 291.1L593.7 290.9L592.8 291.2L591.9 291L591 291L590.1 291.1L589.2 290.8L588.3 290.9L587.4 291.1L586.5 291L585.6 290.7L584.7 290.9L583.8 291.2L582.9 291.1L582 291.2L581.1 291L580.2 291L579.3 291.4L578.4 291L577.5 291.5L576.6 291.1L575.7 291.5L574.8 291.2L574 291.3L573.1 291.3L572.2 290.7L571.3 291.1L570.4 291L569.5 291.3L568.6 291.2L567.7 291.4L566.8 290.9L565.9 290.8L565 290.9L564.1 290.7L563.2 291.2L562.3 291.4L561.4 291L560.5 291.4L559.6 291.1L558.7 291.2L557.8 290.8L556.9 290.8L556 290.6L555.1 290.9L554.2 290.8L553.3 290.8L552.4 291.1L551.5 290.9L550.6 290.8L549.7 290.8L548.8 290.8L547.9 291.3L547 290.9L546.1 290.9L545.2 290.9L544.3 290.6L543.4 291L542.6 291L541.7 290.8L540.8 291L539.9 291L539 290.7L538.1 290.8L537.2 290.5L536.3 290.8L535.4 290.8L534.5 291L533.6 290.8L532.7 290.8L531.8 290.7L530.9 290.9L530 290.7L529.1 290.7L528.2 290.9L527.3 290.6L526.4 291L525.5 290.9L524.6 291.1L523.7 290.8L522.8 290.8L521.9 290.7L521 290.5L520.1 291L519.2 291L518.3 290.9L517.4 290.6L516.5 290.8L515.6 290.9L514.7 290.7L513.8 290.9L512.9 290.8L512.1 290.6L511.2 290.5L510.3 290.5L509.4 290.7L508.5 290.9L507.6 290.8L506.7 290.9L505.8 290.7L504.9 290.8L504 290.7L503.1 291.4L502.2 291L501.3 291L500.4 290.7L499.5 290.6L498.6 290.9L497.7 290.5L496.8 290.7L495.9 291L495 290.9L494.1 290.6L493.2 290.9L492.3 290.9L491.4 290.6L490.5 291.2L489.6 290.6L488.7 290.4L487.8 290.2L486.9 290.3L486 290.3L485.1 290.4L484.2 290.8L483.3 290.8L482.4 290.9L481.5 290.6L480.7 291.1L479.8 290.7L478.9 290.5L478 290.3L477.1 290.3L476.2 290L475.3 290.3L474.4 290.3L473.5 290.5L472.6 290.3L471.7 290.3L470.8 290.9L469.9 290.4L469 290.1L468.1 290.7L467.2 290.4L466.3 290.3L465.4 290.2L464.5 290.8L463.6 290.2L462.7 290.5L461.8 290.5L460.9 290.5L460 290.4L459.1 290.3L458.2 290.4L457.3 290.7L456.4 290.5L455.5 290.7L454.6 290.5L453.7 290.3L452.8 290.4L451.9 290.4L451 290.2L450.1 290.5L449.3 290.1L448.4 289.9L447.5 290.1L446.6 290.3L445.7 290.4L444.8 290.4L443.9 290.3L443 289.9L442.1 289.8L441.2 290.2L440.3 290.6L439.4 290.2L438.5 290.2L437.6 290.1L436.7 290.5L435.8 290.7L434.9 290.7L434 290.7L433.1 290.4L432.2 290.3L431.3 290.3L430.4 290.5L429.5 290.1L428.6 290.5L427.7 289.9L426.9 290.3L426 290.3L425.1 290L424.2 290.1L423.3 289.9L422.4 290.4L421.5 290.5L420.6 290.5L419.7 290.6L418.8 290.4L417.9 290.6L417 290.9L416.1 290.5L415.2 290.8L414.3 290.4L413.4 290.5L412.6 290.6L411.7 290.9L410.8 290.8L409.9 290.5L409 290.3L408.1 290.2L407.2 290.6L406.3 290.6L405.4 290.3L404.5 290.5L403.6 290.4L402.7 290.5L401.8 290.9L400.9 291L400 291.1L399.1 290.9L398.3 290.3L397.4 290.6L396.5 290.5L395.6 290.7L394.7 290.8L393.8 290.8L392.9 290.6L392 290.7L391.1 290.8L390.2 291L389.3 290.9L388.4 290.9L387.5 290.9L386.6 290.9L385.7 290.6L384.9 290.3L384 290.8L383.1 290.3L382.2 290.6L381.3 290.6L380.4 290.6L379.5 291L378.6 290.3L377.7 290.9L376.8 290.9L375.9 290.9L375 290.7L374.1 290.5L373.2 291.1L372.3 291L371.4 290.6L370.6 291L369.7 291.2L368.8 290.7L367.9 290.9L367 291.1L366.1 291.1L365.2 290.7L364.3 290.7L363.4 290.7L362.5 290.9L361.6 290.7L360.7 290.7L359.8 291L358.9 290.8L358 290.7L357.1 290.5L356.3 291L355.4 291.2L354.5 290.9L353.6 290.9L352.7 290.9L351.8 291.5L350.9 291.3L350 291.4L349.1 291.1L348.2 291.5L347.3 291.7L346.4 291.2L345.5 291.5L344.6 291.4L343.8 291.9L342.9 291.3L342 291.5L341.1 291.8L340.2 291.6L339.3 291.7L338.4 291.8L337.5 292.2L336.6 291.8L335.7 291.5L334.8 291.6L333.9 292.1L333 292.3L332.1 292.7L331.2 292.2L330.4 292.7L329.5 292.5L328.6 292.5L327.7 292.5L326.8 293.2L325.9 292.8L325 292.5L324.1 292.5L323.2 293L322.3 293.4L321.4 293.7L320.5 293.9L319.6 294.5L318.8 294.7L317.9 294.1L317 294.7L316.1 294.4L315.2 296L314.3 295.7L313.4 295.2L312.5 296.3L311.7 296.1L310.8 296.7L310 297.5L309.2 297.1L308.3 298.1L307.5 298.5L306.7 299L305.8 299.5L305 300.8L304.2 301.5L303.3 300L302.5 300.6L301.6 302L300.8 302.5L299.9 304.4L299 306L298.1 306.8L297.2 307L296.4 307.2L295.5 309.4L294.6 308.6L293.8 312L292.9 312.6L292 313.9L291.1 315.1L290.2 317.1L289.3 318.1L288.4 318.3L287.5 320.8L286.8 327.4L286 332.3L285.2 334.8L284.5 337.9L283.8 342.8L283 352.2L282.2 361L281.5 368.7L280.8 376.5L280 383.1L279.2 389.1L278.5 398L277.8 404.9L277 414.4L276.2 422.1L275.4 423.4L274.6 428.6L273.8 432.4L272.9 436.2L272.1 435.7L271.2 442.9L270.5 445L269.8 453.3L269 457.5L268.2 464.7L267.5 472L266.7 464.7L265.8 463.9L265 463.7L264.2 463.8L263.3 470.3L262.5 473.3L261.7 470.3L260.8 470.9L260 465.9L259.2 464.5L258.3 469.4L257.5 461.5L256.7 467.3L255.8 464.7L255 463.7L254.2 463.1L253.3 467L252.5 466.4L251.7 465.7L250.8 462.1L250 460.5L249.2 462L248.3 456.4L247.5 460.1L246.7 456.5L245.8 453.6L245 451.4L244.2 449.9L243.3 447.5L242.5 448.9L241.6 445.9L240.7 445.9L239.8 439L238.9 435.9L238 434.4L237.1 428.3L236.2 424.3L235.4 421.7L234.6 420L233.8 417L232.9 412.2L232.1 408.8L231.2 403.9L230.4 397.2L229.5 392.9L228.6 389.7L227.7 383.1L226.8 376.7L225.9 370.9L225 366.2L224.2 361.5L223.3 359L222.5 353.6L221.7 349.8L220.8 346.1L220 341.8L219.2 338.3L218.3 334.6L217.5 329.9L216.7 326.9L215.8 324.2L215 322L214.2 317.1L213.3 314.8L212.5 312.1L211.7 310L210.8 307.8L210 307.2L209.2 305.5L208.3 303.7L207.5 302.2L206.6 300.5L205.8 300.7L204.9 300.7L204 301L203.1 301.2L202.2 301.4L201.4 300.3L200.5 300.2L199.6 300.9L198.8 299.7L197.9 300.2L197 299.5L196.1 299.6L195.2 299.2L194.4 299L193.5 299.3L192.6 298.6L191.8 298.4L190.9 298.6L190 298.3L189.1 298.1L188.3 297.4L187.4 296.9L186.5 296.8L185.7 295.6L184.8 295.9L183.9 295.6L183.1 295.1L182.2 295.8L181.3 294.2L180.5 294.1L179.6 293.7L178.8 292.8L177.9 293.7L177.1 294.8L176.2 295.7L175.4 296.1L174.6 296.2L173.8 297.2L173 300.1L172.2 301.8L171.5 304.3L170.8 305.9L170 308L169.2 306.1L168.5 304.1L167.8 303.2L167 301.4L166.2 299.6L165.5 298.1L164.8 296L164 294.4L163.2 292.3L162.5 290.9L161.6 289L160.7 289L159.8 289.1L159 289.1L158.1 289.3L157.2 289.2L156.3 289.1L155.4 289L154.5 289L153.6 289L152.8 288.8L151.9 288.9L151 288.9L150.1 288.8L149.2 288.9L148.3 288.6L147.4 289L146.6 288.8L145.7 289L144.8 289L143.9 288.8L143 288.9L142.1 288.7L141.2 288.7Z" stroke="#000" stroke-width="0.70" fill="#000" stroke-linejoin="round"/>
<path d="M138.8 476.6L139.6 476.7L140.5 476.6L141.4 477.2L142.3 476.8L143.2 476.4L144.1 477.1L144.9 476.6L145.8 476.4L146.7 476.9L147.6 476.9L148.5 476.5L149.4 476.1L150.2 476.7L151.1 477.1L152 476.4L152.9 476.9L153.8 476.6L154.7 476.2L155.5 477.2L156.4 477.4L157.3 477.6L158.2 477L159.1 477.6L160 476.9L160.9 477.9L161.7 477.7L162.6 478.1L163.5 477.6L164.4 477.9L165.3 477.4L166.2 477.5L167 477.6L167.9 477.5L168.8 477.8L169.7 477.7L170.6 477.6L171.5 477.8L172.3 477.8L173.2 477.3L174.1 477.2L175 477.5L175.9 478L176.8 478.4L177.7 478.3L178.6 478.3L179.5 478.5L180.4 478.4L181.2 478.4L182.1 478.3L183 478L183.9 478.5L184.8 478.5L185.7 478.8L186.6 478.7L187.5 478.8L188.4 479.5L189.3 478.8L190.2 478.8L191.1 479.1L192 479.4L192.9 479.3L193.8 479.2L194.6 478.9L195.5 479.4L196.4 479.8L197.3 480.2L198.2 479.6L199.1 480.2L200 480L200.9 480.2L201.7 480.5L202.6 480.8L203.5 480.7L204.3 481.1L205.2 480.9L206.1 480.1L207 480.7L207.8 481.1L208.7 480.7L209.6 480.7L210.4 480.6L211.3 481.3L212.2 479.7L213 480.6L213.9 481.1L214.8 481.2L215.7 481.3L216.5 481.4L217.4 481.5L218.3 481.2L219.1 481.7L220 481.4L220.9 481.4L221.8 482.5L222.7 483.4L223.6 483.2L224.5 483.4L225.4 484L226.2 483L227 484.7L227.8 486.2L228.5 488.4L229.2 491.2L230 485.7L230.8 494.5L231.7 503.9L232.5 509.6L233.3 521.5L234.2 534.1L235 549.5L235.8 555.1L236.5 563.7L237.2 570.6L238 577.9L238.8 590.8L239.6 591.6L240.4 596.9L241.2 596.1L242.1 601.6L242.9 601.6L243.8 607.9L244.6 610.5L245.5 608.9L246.4 606.9L247.3 610.9L248.2 605.8L249.1 611.3L250 611.3L250.9 610.9L251.8 611L252.7 603.1L253.6 607.9L254.5 607.9L255.4 614L256.2 614.5L257.1 613.5L258 610.4L258.9 614.2L259.8 609L260.7 612.4L261.6 613.8L262.5 609.7L263.3 613.4L264.2 611.5L265 608L265.8 611.5L266.7 611.6L267.5 609.2L268.3 605.1L269.2 608.1L270 605.4L270.8 609.8L271.7 608.8L272.5 613.5L273.3 610.2L274.2 614.2L275 613.2L275.9 612.1L276.8 606.8L277.7 611.7L278.6 613.9L279.5 612.1L280.4 615.5L281.2 602.2L282 605.9L282.8 604.1L283.5 603.8L284.2 601.3L285 585.8L285.8 578.4L286.7 568.4L287.5 558.6L288.3 545.3L289.2 532.1L290 520.2L290.8 510.8L291.7 502.1L292.5 498.5L293.2 496.6L294 493.8L294.8 491.1L295.5 488.1L296.2 486.9L297.1 486.9L298 487.1L298.9 486L299.8 485.9L300.7 484.9L301.6 483.8L302.5 483.1L303.4 483.2L304.3 483.4L305.2 481.6L306.1 481.1L307 480.8L307.9 481L308.8 480.9L309.6 481.3L310.5 481.1L311.4 480.8L312.3 481.5L313.2 480.5L314.1 480.9L315 480.4L315.9 479.9L316.8 480.4L317.7 480.6L318.6 479.9L319.5 480L320.4 479.7L321.3 479.9L322.2 480L323.1 479L324 479.9L324.9 480.3L325.8 479.8L326.7 480L327.6 480.2L328.5 479.4L329.4 479.6L330.3 479.8L331.2 479.1L332.1 479.1L332.9 478.5L333.8 478.8L334.7 478.8L335.6 478.7L336.5 478.6L337.4 477.6L338.3 478.8L339.2 478.3L340.1 477.7L341 478.7L341.9 478.2L342.8 478.5L343.7 479.1L344.6 478.4L345.5 478.6L346.4 478.9L347.3 478.3L348.2 478.8L349.1 478.1L350 478.7L350.9 478.8L351.8 478.8L352.7 479.1L353.6 477.9L354.5 478.2L355.4 478.4L356.3 478.1L357.1 478.5L358 478.3L358.9 477.5L359.8 477.9L360.7 478.6L361.6 478.5L362.5 478.1L363.4 477L364.3 477.6L365.2 478.3L366.1 477.8L367 478L367.9 478.4L368.8 478.1L369.7 478.6L370.6 478.6L371.4 477.3L372.3 478L373.2 478.6L374.1 478.2L375 477.8L375.9 478L376.8 477.5L377.7 478.4L378.6 478.4L379.5 478.5L380.4 477.8L381.3 478.2L382.2 478.6L383.1 478.7L384 478.1L384.9 478L385.7 478.1L386.6 478L387.5 477.6L388.4 477.6L389.3 477.8L390.2 477L391.1 477.3L392 477.1L392.9 477.3L393.8 477.6L394.7 477.6L395.6 477.3L396.5 477.6L397.4 477.3L398.3 477.1L399.1 477.3L400 477.5L400.9 477.8L401.8 477.4L402.7 477.3L403.6 477.1L404.5 477.7L405.4 477.1L406.3 477.4L407.2 477.3L408.1 477.1L409 477L409.9 477.5L410.8 477.2L411.7 477.5L412.6 477.7L413.4 478L414.3 477.8L415.2 477.2L416.1 477.4L417 477.2L417.9 476.9L418.8 477.3L419.7 477.8L420.6 476.6L421.5 477.2L422.4 477.2L423.3 477.1L424.2 477.2L425.1 477.4L426 476L426.9 477.3L427.7 477.5L428.6 477.3L429.5 477.3L430.4 477.4L431.3 477.2L432.2 477.7L433.1 476.5L434 476.7L434.9 477.2L435.8 476.6L436.7 477L437.6 476.6L438.5 476.5L439.4 476.8L440.3 477.3L441.2 477.4L442.1 477.4L443 477.3L443.9 477.5L444.8 477.6L445.7 477.5L446.6 477.4L447.5 477.6L448.4 476.9L449.3 477.3L450.2 477.5L451.1 477.7L452 477.5L452.9 477.4L453.8 477L454.7 477.2L455.6 477.3L456.4 476.9L457.3 477.4L458.2 477.4L459.1 477.2L460 476.3L460.9 477L461.8 477.5L462.7 477.3L463.6 477.3L464.5 476.8L465.4 476.6L466.3 477L467.2 476.6L468.1 476L469 477.2L469.9 477.3L470.8 477.2L471.7 477.3L472.6 477L473.5 477.1L474.4 477.8L475.3 477.5L476.2 477.3L477.1 477.4L478 477.8L478.9 477.2L479.8 477.3L480.7 477.8L481.6 477.3L482.5 477.4L483.4 476.1L484.3 476.8L485.2 477.2L486.1 477.6L487 477.3L487.9 476.7L488.8 477.2L489.7 476.9L490.6 477L491.5 477.2L492.4 476.9L493.3 477.3L494.2 477L495.1 477L496 476.9L496.9 477.2L497.8 476.4L498.7 476.9L499.6 476.9L500.4 477.3L501.3 477.6L502.2 477.4L503.1 477.3L504 476.7L504.9 476.8L505.8 477.5L506.7 475.8L507.6 477L508.5 477.6L509.4 476.9L510.3 477.4L511.2 477.3L512.1 477.6L513 476.9L513.9 477.1L514.8 477L515.7 477.2L516.6 476.6L517.5 476.3L518.4 477L519.3 476.9L520.2 477.5L521.1 476.9L522 477.1L522.9 475.7L523.8 476.2L524.7 476.5L525.6 476.5L526.5 477L527.4 476.4L528.3 476.9L529.2 476.7L530.1 477.3L531 477.2L531.9 476.9L532.8 476.7L533.7 476.9L534.6 476.4L535.5 477.5L536.4 477.3L537.3 477L538.2 476.9L539.1 477.1L540 477L540.9 476.9L541.8 477.6L542.7 477.3L543.6 477.7L544.4 478.2L545.3 477.5L546.2 476.9L547.1 477.1L548 476.7L548.9 477.5L549.8 477L550.7 477.4L551.6 477.6L552.5 477.6L553.4 477.3L554.3 477.5L555.2 477.9L556.1 477.1L557 477.5L557.9 477L558.8 477.7L559.7 477.6L560.6 477.7L561.5 477.7L562.4 477.1L563.3 476.6L564.2 477.7L565.1 477.6L566 477.1L566.9 477.1L567.8 476.9L568.7 477.3L569.6 477.4L570.5 478.3L571.4 477.3L572.3 477.9L573.2 477.3L574.1 477.2L575 477.4L575.9 477.5L576.8 477.1L577.7 477.1L578.6 477.2L579.5 477.9L580.4 477.6L581.2 477.1L582.1 477.1L583 477.5L583.9 477.8L584.8 477.7L585.7 476.9L586.6 476.5L587.5 476.8L588.4 477.7L589.3 477.3L590.2 478.1L591.1 478L592 477.5L592.9 477.1L593.8 477.2L594.7 477.4L595.6 476.7L596.5 477.1L597.4 477.1L598.3 477L599.2 476.8L600.1 476.4L601 477.1L601.9 477.2L602.8 477.5L603.7 477.2L604.6 477L605.5 477.4L606.4 477.3L607.3 477.5L608.2 477.8L609.1 477.3L609.9 476.2L610.8 477.5L611.7 477.9L612.6 477.7L613.5 477.9L614.4 477.1L615.3 477.1L616.2 477.4L617.1 477.9L618 477.8L618.9 477.7L619.8 477.5L620.7 477.6L621.6 477L622.5 477.2L623.4 477.4L624.3 477L625.2 477.8L626.1 476.8L627 477.1L627.9 476.9L628.8 477.8L629.7 477.3L630.6 477.2L631.5 476.7L632.4 477L633.3 477.2L634.2 477.3L635.1 477.6L636 478.1L636.9 477.6L637.8 477.5L638.6 477.6L639.5 477.4L640.4 477.7L641.3 478L642.2 477.7L643.1 476.7L644 477.7L644.9 477.3L645.8 477.3L646.7 477.5L647.6 478.3L648.5 478.3L649.4 477L650.3 477.6L651.2 477.9L652.1 477.4L653 477.2L653.9 477.3L654.8 477.2L655.7 477.1L656.6 476.8L657.5 477.6L658.4 477.7L659.3 477.3L660.2 477.3L661.1 476L662 477L662.9 478.1L663.8 477.3L664.7 477.2L665.6 477L666.5 476.9L667.3 478L668.2 477.1L669.1 477.5L670 477.4L670.9 476.7L671.8 477.4L672.7 476.6L673.6 477.4L674.5 477.2L675.4 477.5L676.3 477L677.2 477.6L678.1 477.6L679 478L679.9 477.1L680.8 477L681.7 477.2L682.6 477.3L683.5 477.1L684.4 477.1L685.3 477.3L686.2 477L687.1 477.7L688 477.4L688.9 478.1L689.8 478.1L690.7 478L691.6 477.7L692.5 476.9L693.4 477.1L694.3 476.8L695.2 477.4L696 477.3L696.9 476.9L697.8 477.5L698.7 477.7L699.6 477.8L700.5 477.2L701.4 478L702.3 477L703.2 477.7L704.1 477.2L705 477.6L705.9 477.4L706.8 477.5L707.7 476.6L708.6 476.3L709.5 476.4L710.4 477L711.3 477.2L712.2 477.9L713.1 476.4L714 476.7L714.9 477.4L715.8 477.3L716.7 477.8L717.6 477.8L718.5 476.7L719.4 477.5L720.3 477.5L721.2 477.4L722.1 477.4L723 476.9L723.9 477.5L724.7 477.5L725.6 477.9L726.5 478L727.4 477.1L728.3 477.1L729.2 477.5L730.1 477.1L731 477L731.9 476.2L732.8 477.1L733.7 477.1L734.6 477.2L735.5 477.6L736.4 477.8L737.3 477.9L738.2 478.2L739.1 477.3L740 477.8L740.9 478.1L741.8 477.1L742.7 476.6L743.6 477.3L744.5 477.8L745.4 477L746.3 477.6L747.2 477.2L748.1 477.5L749 477.1L749.9 477.1L750.8 477.3L751.7 477.1L752.6 477.2L753.4 477.2L754.3 476.9L755.2 477.3L756.1 477.7L757 477.4L757.9 477.9L758.8 477.1L759.7 477.2L760.6 477.9L761.5 476.9L762.4 477.2L763.3 477.5L764.2 477.7L765.1 477.3L766 478.3L766.9 478.1L767.8 478L768.7 477.2L769.6 477.4L770.5 477.2L771.4 477.8L772.3 477L773.2 476.9L774.1 477.7L775 477.3L775.9 477.5L776.8 477.1L777.7 477L778.6 477.4L779.5 477.1L780.4 476.8L781.3 477L782.1 477.6L783 478.1L783.9 477L784.8 476.6L785.7 477.3L786.6 477.2L787.5 476.8L788.4 476.7L789.3 477L790.2 477.2L791.1 477.3L792 477.6L792.9 477.6L793.8 477.2L794.7 477.3L795.6 477.1L796.5 478.6L796.5 480.4L795.6 481.2L794.7 481.4L793.8 481.7L792.9 482.1L792 481.6L791.1 481.7L790.2 481.4L789.3 481.6L788.4 480.9L787.5 481.3L786.6 481.6L785.7 481.9L784.8 482.6L783.9 481.5L783 482.7L782.1 481.8L781.3 481.9L780.4 481.1L779.5 481L778.6 481.5L777.7 481.1L776.8 481.1L775.9 482.2L775 482.2L774.1 481.6L773.2 481.5L772.3 481.6L771.4 482.2L770.5 481.5L769.6 481.2L768.7 481.4L767.8 482L766.9 482.5L766 481.6L765.1 482.1L764.2 482.4L763.3 482L762.4 481.3L761.5 482L760.6 481.5L759.7 481.5L758.8 481.1L757.9 481.8L757 481.6L756.1 482L755.2 482.2L754.3 481.4L753.4 481.6L752.6 481.9L751.7 481.7L750.8 481.3L749.9 481.3L749 482.1L748.1 481.7L747.2 482L746.3 481.5L745.4 481.4L744.5 482.1L743.6 481.9L742.7 481.6L741.8 482L740.9 481.7L740 482.3L739.1 481.5L738.2 482.1L737.3 481.8L736.4 482.4L735.5 482.1L734.6 481.7L733.7 482L732.8 481.1L731.9 481.6L731 481.4L730.1 481.4L729.2 481.5L728.3 481.2L727.4 481.2L726.5 481.9L725.6 482.2L724.7 482.2L723.9 482.2L723 482L722.1 481.7L721.2 481.9L720.3 481.3L719.4 482.1L718.5 481.7L717.6 481.4L716.7 481.6L715.8 481.9L714.9 481.3L714 482.4L713.1 481.4L712.2 481.8L711.3 481.7L710.4 481.4L709.5 480.7L708.6 481.2L707.7 481.6L706.8 481.4L705.9 481.8L705 482L704.1 481.4L703.2 482L702.3 481.8L701.4 481.8L700.5 481.7L699.6 481.3L698.7 481.9L697.8 481L696.9 481.3L696 481.2L695.2 481.8L694.3 481.3L693.4 481.9L692.5 481.7L691.6 482.1L690.7 481.8L689.8 482.4L688.9 482.2L688 482L687.1 481.9L686.2 480.9L685.3 480.9L684.4 481.8L683.5 481.3L682.6 482.1L681.7 481.6L680.8 481.5L679.9 481.2L679 481.7L678.1 481.6L677.2 482L676.3 481.6L675.4 482L674.5 482L673.6 481.7L672.7 481.1L671.8 481.6L670.9 481.2L670 482.6L669.1 481.8L668.2 481.8L667.3 481.8L666.5 481.4L665.6 480.7L664.7 480.9L663.8 481.2L662.9 482.3L662 481.2L661.1 481.7L660.2 481.1L659.3 481.3L658.4 481.7L657.5 481.1L656.6 481.1L655.7 481.1L654.8 481.6L653.9 481.5L653 482.4L652.1 481.9L651.2 481.7L650.3 481.6L649.4 481.5L648.5 482.3L647.6 482.1L646.7 482.2L645.8 481.5L644.9 481.6L644 481.4L643.1 481.1L642.2 481.7L641.3 481.6L640.4 481.7L639.5 482L638.6 481.5L637.8 481.5L636.9 482.4L636 482.3L635.1 481.4L634.2 481.1L633.3 481.3L632.4 481.4L631.5 482L630.6 482.2L629.7 481.1L628.8 482L627.9 481.4L627 481.4L626.1 481.1L625.2 482.1L624.3 481.5L623.4 481.3L622.5 481.5L621.6 481.6L620.7 482.3L619.8 481.5L618.9 482L618 481.8L617.1 482.2L616.2 481.3L615.3 481.8L614.4 482L613.5 481.5L612.6 482.3L611.7 482.3L610.8 481.5L609.9 482.3L609.1 482.2L608.2 481.6L607.3 481.8L606.4 482L605.5 481.7L604.6 481.4L603.7 481.9L602.8 481.6L601.9 481.5L601 481L600.1 481.4L599.2 480.9L598.3 481.6L597.4 481.1L596.5 480.9L595.6 481.5L594.7 481.1L593.8 481.6L592.9 481.4L592 481.2L591.1 481.6L590.2 481.6L589.3 481.6L588.4 481.7L587.5 481.6L586.6 481L585.7 481.2L584.8 481.8L583.9 482.9L583 481.7L582.1 482L581.2 481.6L580.4 481.9L579.5 481.4L578.6 482L577.7 481.6L576.8 480.9L575.9 481.8L575 481.2L574.1 481.5L573.2 482L572.3 482.5L571.4 482.2L570.5 481.7L569.6 482.1L568.7 481.9L567.8 481.1L566.9 481.6L566 481.7L565.1 482L564.2 481.9L563.3 481.7L562.4 482.1L561.5 482.3L560.6 482.1L559.7 481.8L558.8 481.5L557.9 481.4L557 482L556.1 481.9L555.2 481.6L554.3 482.2L553.4 481.2L552.5 482.1L551.6 481.8L550.7 481.5L549.8 481.7L548.9 481.2L548 482.2L547.1 481.5L546.2 481.8L545.3 481.7L544.4 481.9L543.6 482.2L542.7 482L541.8 481.7L540.9 480.9L540 481.5L539.1 481L538.2 481.6L537.3 482.1L536.4 481.5L535.5 481.4L534.6 481.4L533.7 480.7L532.8 480.7L531.9 482L531 481.4L530.1 481.8L529.2 481.2L528.3 480.9L527.4 481.1L526.5 481.3L525.6 481.3L524.7 480.8L523.8 481.4L522.9 480.8L522 480.8L521.1 481.4L520.2 481.7L519.3 481.6L518.4 481.2L517.5 480.5L516.6 481.3L515.7 481.5L514.8 481.5L513.9 481.5L513 481.1L512.1 481.6L511.2 481.7L510.3 481.4L509.4 481.7L508.5 481.6L507.6 481.2L506.7 480.9L505.8 481.5L504.9 481L504 481L503.1 481.5L502.2 481.6L501.3 481.7L500.4 481.8L499.6 481.5L498.7 481.1L497.8 480.7L496.9 481L496 481.2L495.1 481.3L494.2 481.3L493.3 481.7L492.4 481.8L491.5 481.9L490.6 481.9L489.7 481.1L488.8 481.3L487.9 481.5L487 481.3L486.1 482L485.2 482.1L484.3 481.2L483.4 481.2L482.5 481.6L481.6 481.4L480.7 482L479.8 481.3L478.9 481.8L478 481.2L477.1 481.2L476.2 481.6L475.3 481.1L474.4 481.5L473.5 481.3L472.6 480.9L471.7 481.7L470.8 481.3L469.9 481.5L469 481.5L468.1 481.3L467.2 481.2L466.3 481.2L465.4 481.2L464.5 480.9L463.6 481.7L462.7 480.9L461.8 481.3L460.9 481.5L460 481.1L459.1 480.8L458.2 481.3L457.3 481.2L456.4 481.4L455.6 481.4L454.7 481L453.8 481.9L452.9 481.9L452 481.5L451.1 481.5L450.2 481.3L449.3 481.2L448.4 481.2L447.5 481.2L446.6 481.5L445.7 481.8L444.8 482.4L443.9 481.3L443 481.5L442.1 481.7L441.2 482L440.3 481.2L439.4 481.4L438.5 481.1L437.6 481L436.7 481L435.8 481.6L434.9 480.8L434 481.5L433.1 480.8L432.2 481.5L431.3 481.1L430.4 481.9L429.5 481.5L428.6 481.3L427.7 481.5L426.9 481.8L426 481L425.1 481.4L424.2 481.9L423.3 480.7L422.4 481.4L421.5 481.3L420.6 481.5L419.7 481.7L418.8 482.1L417.9 481.3L417 481.3L416.1 481.6L415.2 482.1L414.3 481.6L413.4 481.6L412.6 481.9L411.7 481.5L410.8 482L409.9 481.3L409 481.6L408.1 481.6L407.2 482L406.3 481.5L405.4 481.5L404.5 481.9L403.6 481.9L402.7 481.8L401.8 481.8L400.9 482L400 481.8L399.1 482.4L398.3 481.4L397.4 481.3L396.5 481.6L395.6 481.6L394.7 481.8L393.8 482.2L392.9 482.7L392 481.3L391.1 481.8L390.2 481.5L389.3 481.4L388.4 482.1L387.5 482.3L386.6 482.3L385.7 481.8L384.9 482.1L384 482.5L383.1 482.4L382.2 482.6L381.3 482.3L380.4 482.3L379.5 482.3L378.6 482.3L377.7 482.2L376.8 482.6L375.9 483.2L375 482.4L374.1 482.3L373.2 482.2L372.3 482.9L371.4 482.4L370.6 483.2L369.7 482.7L368.8 482.5L367.9 483.1L367 482.9L366.1 482.8L365.2 482.4L364.3 481.9L363.4 482.5L362.5 482.8L361.6 482.2L360.7 482.9L359.8 482.6L358.9 482.2L358 482.3L357.1 483.3L356.3 482.7L355.4 483.1L354.5 482.2L353.6 483.3L352.7 483L351.8 483.1L350.9 482.4L350 482.8L349.1 482.1L348.2 483.1L347.3 482.5L346.4 482.9L345.5 483L344.6 483.6L343.7 483.1L342.8 482.6L341.9 482.8L341 482.5L340.1 482.2L339.2 482.5L338.3 482.5L337.4 482.3L336.5 482.9L335.6 482.7L334.7 483L333.8 483.6L332.9 482.9L332.1 483.4L331.2 483.6L330.3 483.7L329.4 484.3L328.5 483.9L327.6 484L326.7 484.3L325.8 483.9L324.9 484.4L324 484.7L323.1 484.3L322.2 484.3L321.3 484L320.4 484.2L319.5 484.3L318.6 484.3L317.7 484.3L316.8 484.6L315.9 484.7L315 485.1L314.1 484.6L313.2 484.7L312.3 485L311.4 485L310.5 485.3L309.6 485.3L308.8 485.7L307.9 486.2L307 486.4L306.1 486.4L305.2 486.8L304.3 487.3L303.4 487.5L302.5 487.6L301.6 490.1L300.7 490.3L299.8 491.1L298.9 492.1L298 492.3L297.1 492.4L296.2 494.3L295.5 498.7L294.8 501.8L294 505L293.2 508L292.5 510L291.7 528.8L290.8 538.2L290 548.1L289.2 562.2L288.3 574.8L287.5 587.2L286.7 599.6L285.8 610.4L285 621.3L284.2 618.8L283.5 621.9L282.8 625.3L282 631.6L281.2 631.1L280.4 629.1L279.5 630.8L278.6 630.3L277.7 627.8L276.8 628.8L275.9 631.4L275 633L274.2 636.4L273.3 628.5L272.5 630.7L271.7 627.8L270.8 623.9L270 622L269.2 623.5L268.3 623.5L267.5 625.5L266.7 630.3L265.8 628.4L265 630L264.2 627.1L263.3 634L262.5 626.3L261.6 630.5L260.7 631.3L259.8 629L258.9 630.7L258 630.7L257.1 632.7L256.2 633.2L255.4 630.2L254.5 625L253.6 622.5L252.7 624.9L251.8 629.7L250.9 622.2L250 627.1L249.1 627.8L248.2 622.6L247.3 623.5L246.4 620.6L245.5 621.4L244.6 622.8L243.8 621L242.9 618.1L242.1 615.9L241.2 610.9L240.4 609.4L239.6 604.7L238.8 601.4L238 602.3L237.2 594.2L236.5 586.3L235.8 578.6L235 571.4L234.2 561.5L233.3 548.8L232.5 536.2L231.7 524.9L230.8 516.5L230 509L229.2 499.6L228.5 497.7L227.8 496L227 493.1L226.2 491L225.4 488.9L224.5 488.4L223.6 487.5L222.7 486.9L221.8 486.5L220.9 486.3L220 486.3L219.1 485.8L218.3 486L217.4 486.1L216.5 485.3L215.7 486.2L214.8 486L213.9 484.9L213 485.2L212.2 484.9L211.3 484.9L210.4 484.7L209.6 485.3L208.7 485.1L207.8 484.6L207 485L206.1 484.2L205.2 484.4L204.3 484.9L203.5 485.1L202.6 485.2L201.7 485.1L200.9 484.6L200 484.8L199.1 484.6L198.2 484L197.3 484.1L196.4 483.7L195.5 483.7L194.6 483.2L193.8 483.4L192.9 483.5L192 483.2L191.1 483.6L190.2 482.8L189.3 483.3L188.4 483.7L187.5 483L186.6 483.2L185.7 482.4L184.8 483.1L183.9 482.7L183 482.3L182.1 482.8L181.2 482.4L180.4 482.6L179.5 482.7L178.6 482.2L177.7 482.2L176.8 482.4L175.9 482.8L175 482.1L174.1 481.6L173.2 481.4L172.3 482L171.5 482.4L170.6 482.5L169.7 481.6L168.8 481.9L167.9 481.3L167 481.7L166.2 481.4L165.3 481.3L164.4 481.9L163.5 482.5L162.6 481.7L161.7 481.5L160.9 482L160 481.6L159.1 481.6L158.2 481.6L157.3 482L156.4 481.7L155.5 481.2L154.7 481L153.8 482.1L152.9 481.2L152 481.5L151.1 481L150.2 481L149.4 480.8L148.5 480.8L147.6 480.5L146.7 481.3L145.8 480.9L144.9 480.7L144.1 481.3L143.2 480.8L142.3 481.1L141.4 481.3L140.5 481.1L139.6 480.9L138.8 481.1Z" stroke="#000" stroke-width="0.70" fill="#000" stroke-linejoin="round"/>
<line x1="566.50" y1="462.50" x2="566.50" y2="479.00" stroke="#333" stroke-width="1.20" stroke-linecap="butt"/>
<line x1="185.00" y1="480.00" x2="185.00" y2="492.00" stroke="#333" stroke-width="1.00" stroke-linecap="butt"/>
<line x1="405.80" y1="290.00" x2="405.80" y2="297.00" stroke="#555" stroke-width="1.00" stroke-linecap="butt"/>
<line x1="480.30" y1="290.00" x2="480.30" y2="296.00" stroke="#555" stroke-width="1.00" stroke-linecap="butt"/>
<line x1="540.00" y1="289.00" x2="540.00" y2="296.00" stroke="#555" stroke-width="1.00" stroke-linecap="butt"/>
</g>
<g id="panelB">
<text x="863.92" y="66.25" font-size="79.81" fill="#000" stroke="#000" stroke-width="0.40">B</text>
<line x1="1109.30" y1="173.00" x2="1109.30" y2="587.40" stroke="#000" stroke-width="2.30" stroke-linecap="butt"/>
<line x1="1098.00" y1="586.30" x2="1729.50" y2="586.30" stroke="#000" stroke-width="2.30" stroke-linecap="butt"/>
<line x1="1098.00" y1="457.52" x2="1109.30" y2="457.52" stroke="#000" stroke-width="2.30" stroke-linecap="butt"/>
<line x1="1098.00" y1="328.75" x2="1109.30" y2="328.75" stroke="#000" stroke-width="2.30" stroke-linecap="butt"/>
<line x1="1098.00" y1="199.97" x2="1109.30" y2="199.97" stroke="#000" stroke-width="2.30" stroke-linecap="butt"/>
<line x1="1212.50" y1="586.30" x2="1212.50" y2="597.80" stroke="#000" stroke-width="2.30" stroke-linecap="butt"/>
<line x1="1418.25" y1="586.30" x2="1418.25" y2="597.80" stroke="#000" stroke-width="2.30" stroke-linecap="butt"/>
<line x1="1624.50" y1="586.30" x2="1624.50" y2="597.80" stroke="#000" stroke-width="2.30" stroke-linecap="butt"/>
<text x="1075.85" y="597.30" font-size="33.53" stroke="#000" stroke-width="0.4">0</text>
<text x="1057.20" y="468.52" font-size="33.53" stroke="#000" stroke-width="0.4">50</text>
<text x="1038.54" y="339.75" font-size="33.53" stroke="#000" stroke-width="0.4">100</text>
<text x="1038.54" y="210.97" font-size="33.53" stroke="#000" stroke-width="0.4">150</text>
<text transform="translate(977.00 600.06) rotate(-90) scale(0.9569 1)" font-size="39.02" fill="#000" stroke="#000" stroke-width="0.40">% menthol-elicited TRPM8</text>
<text transform="translate(1022.40 522.88) rotate(-90) scale(0.9569 1)" font-size="38.23" fill="#000" stroke="#000" stroke-width="0.40">remaining current</text>
<path d="M1212.5 133.75 V103.75 H1630.75 V240" stroke="#000" stroke-width="2.00" fill="none" stroke-linejoin="miter"/>
<path d="M1212.5 163.75 V146.25 H1630.75" stroke="#000" stroke-width="2.00" fill="none" stroke-linejoin="miter"/>
<line x1="1418.25" y1="146.25" x2="1418.25" y2="240.00" stroke="#000" stroke-width="2.00" stroke-linecap="butt"/>
<text transform="translate(1356.34 93.75) scale(0.9479 1)" font-size="30.93" fill="#000" stroke="#000" stroke-width="0.55">p&lt;0.0001</text>
<text transform="translate(1257.13 137.00) scale(0.9479 1)" font-size="30.31" fill="#000" stroke="#000" stroke-width="0.55">p=0.0043</text>
<text transform="translate(1464.34 137.00) scale(0.9479 1)" font-size="30.93" fill="#000" stroke="#000" stroke-width="0.55">p&lt;0.0001</text>
<line x1="1144.25" y1="328.75" x2="1280.50" y2="328.75" stroke="#000" stroke-width="2.20" stroke-linecap="butt"/>
<line x1="1178.75" y1="311.25" x2="1246.25" y2="311.25" stroke="#000" stroke-width="1.60" stroke-linecap="butt"/>
<line x1="1178.75" y1="345.75" x2="1246.25" y2="345.75" stroke="#000" stroke-width="1.60" stroke-linecap="butt"/>
<line x1="1212.50" y1="311.25" x2="1212.50" y2="345.75" stroke="#000" stroke-width="1.60" stroke-linecap="butt"/>
<circle cx="1212.50" cy="180.00" r="8.00" fill="#000"/>
<circle cx="1200.50" cy="233.00" r="8.00" fill="#000"/>
<circle cx="1224.25" cy="233.75" r="8.00" fill="#000"/>
<circle cx="1188.75" cy="273.00" r="8.00" fill="#000"/>
<circle cx="1236.00" cy="273.75" r="8.00" fill="#000"/>
<circle cx="1212.50" cy="291.25" r="8.00" fill="#000"/>
<circle cx="1212.50" cy="322.00" r="8.00" fill="#000"/>
<circle cx="1188.75" cy="340.50" r="8.00" fill="#000"/>
<circle cx="1236.00" cy="346.25" r="8.00" fill="#000"/>
<circle cx="1212.50" cy="350.75" r="8.00" fill="#000"/>
<circle cx="1177.25" cy="370.00" r="8.00" fill="#000"/>
<circle cx="1248.00" cy="373.25" r="8.00" fill="#000"/>
<circle cx="1200.50" cy="382.00" r="8.00" fill="#000"/>
<circle cx="1224.25" cy="385.00" r="8.00" fill="#000"/>
<circle cx="1188.75" cy="400.00" r="8.00" fill="#000"/>
<circle cx="1236.00" cy="415.50" r="8.00" fill="#000"/>
<circle cx="1212.50" cy="421.75" r="8.00" fill="#000"/>
<path d="M1410.65 272.95 L1426.85 272.95 L1418.75 289.55 Z" fill="#0000ff"/>
<path d="M1410.65 333.70 L1426.85 333.70 L1418.75 350.30 Z" fill="#0000ff"/>
<path d="M1410.65 360.45 L1426.85 360.45 L1418.75 377.05 Z" fill="#0000ff"/>
<path d="M1375.15 389.70 L1391.35 389.70 L1383.25 406.30 Z" fill="#0000ff"/>
<path d="M1446.40 389.20 L1462.60 389.20 L1454.50 405.80 Z" fill="#0000ff"/>
<path d="M1398.90 410.45 L1415.10 410.45 L1407.00 427.05 Z" fill="#0000ff"/>
<path d="M1422.65 409.70 L1438.85 409.70 L1430.75 426.30 Z" fill="#0000ff"/>
<path d="M1386.90 432.95 L1403.10 432.95 L1395.00 449.55 Z" fill="#0000ff"/>
<path d="M1410.65 434.70 L1426.85 434.70 L1418.75 451.30 Z" fill="#0000ff"/>
<path d="M1434.40 429.70 L1450.60 429.70 L1442.50 446.30 Z" fill="#0000ff"/>
<path d="M1398.90 462.20 L1415.10 462.20 L1407.00 478.80 Z" fill="#0000ff"/>
<path d="M1422.65 460.45 L1438.85 460.45 L1430.75 477.05 Z" fill="#0000ff"/>
<line x1="1350.25" y1="407.00" x2="1487.00" y2="407.00" stroke="#000" stroke-width="2.20" stroke-linecap="butt"/>
<line x1="1384.50" y1="391.25" x2="1452.50" y2="391.25" stroke="#333" stroke-width="1.40" stroke-linecap="butt"/>
<line x1="1384.50" y1="423.25" x2="1452.50" y2="423.25" stroke="#333" stroke-width="1.40" stroke-linecap="butt"/>
<line x1="1418.50" y1="391.25" x2="1418.50" y2="423.25" stroke="#333" stroke-width="1.40" stroke-linecap="butt"/>
<rect x="1617.25" y="536.00" width="15.50" height="15.50" fill="#ff0000"/>
<rect x="1569.75" y="568.00" width="15.50" height="15.50" fill="#ff0000"/>
<rect x="1593.50" y="571.75" width="15.50" height="15.50" fill="#ff0000"/>
<rect x="1617.25" y="576.75" width="15.50" height="15.50" fill="#ff0000"/>
<rect x="1640.50" y="576.00" width="15.50" height="15.50" fill="#ff0000"/>
<rect x="1664.25" y="571.75" width="15.50" height="15.50" fill="#ff0000"/>
<line x1="1556.50" y1="573.75" x2="1693.25" y2="573.75" stroke="#000" stroke-width="2.20" stroke-linecap="butt"/>
<line x1="1590.75" y1="567.50" x2="1659.00" y2="567.50" stroke="#333" stroke-width="1.40" stroke-linecap="butt"/>
<line x1="1590.75" y1="580.50" x2="1659.00" y2="580.50" stroke="#333" stroke-width="1.40" stroke-linecap="butt"/>
<line x1="1625.00" y1="567.50" x2="1625.00" y2="580.50" stroke="#333" stroke-width="1.40" stroke-linecap="butt"/>
<text x="1155.10" y="631.25" font-size="32.99" fill="#000" stroke="#000" stroke-width="0.40">Control</text>
<text x="1358.17" y="631.25" font-size="33.14" fill="#000" stroke="#000" stroke-width="0.40">AG1529</text>
<text x="1377.57" y="668.00" font-size="33.14" fill="#000" stroke="#000" stroke-width="0.40">10<tspan font-family="'Liberation Serif',serif">μ</tspan>M</text>
<text x="1583.92" y="631.25" font-size="33.05" fill="#000" stroke="#000" stroke-width="0.40">AMTB</text>
<text x="1583.57" y="668.00" font-size="33.14" fill="#000" stroke="#000" stroke-width="0.40">10<tspan font-family="'Liberation Serif',serif">μ</tspan>M</text>
</g>
<g id="panelC">
<rect x="197.60" y="768.20" width="136.30" height="609.10" fill="#d9d9d9"/>
<rect x="521.40" y="768.20" width="137.00" height="609.10" fill="#d9d9d9"/>
<text x="12.31" y="760.30" font-size="78.74" fill="#000" stroke="#000" stroke-width="0.40">C</text>
<text x="227.91" y="740.50" font-size="37.75" fill="#000" stroke="#000" stroke-width="0.40">AITC</text>
<text x="547.66" y="740.50" font-size="37.75" fill="#000" stroke="#000" stroke-width="0.40">AITC</text>
<text transform="translate(120.50 952.55) rotate(-90)" font-size="32.94" fill="#000" stroke="#000" stroke-width="0.40">Untreated</text>
<text transform="translate(120.50 1131.08) rotate(-90)" font-size="33.14" fill="#000" stroke="#000" stroke-width="0.40">AG1529</text>
<text transform="translate(120.50 1353.37) rotate(-90)" font-size="34.73" fill="#000" stroke="#000" stroke-width="0.40">HC030031</text>
<line x1="435.00" y1="970.00" x2="658.70" y2="970.00" stroke="#0b5ee6" stroke-width="3.20" stroke-linecap="round"/>
<text x="484.92" y="960.00" font-size="33.14" fill="#000" stroke="#000" stroke-width="0.40">AG1529</text>
<line x1="430.30" y1="1172.00" x2="654.20" y2="1172.00" stroke="#f60000" stroke-width="3.20" stroke-linecap="round"/>
<text x="463.13" y="1157.50" font-size="34.84" fill="#000" stroke="#000" stroke-width="0.40">HC030031</text>
<line x1="720.75" y1="1265.50" x2="720.75" y2="1333.30" stroke="#000" stroke-width="2.60" stroke-linecap="butt"/>
<line x1="719.50" y1="1332.00" x2="780.25" y2="1332.00" stroke="#000" stroke-width="2.60" stroke-linecap="butt"/>
<text transform="translate(706.00 1355.15) rotate(-90)" font-size="32.88" fill="#000" stroke="#000" stroke-width="0.40">800 pA</text>
<text x="721.58" y="1372.50" font-size="33.64" fill="#000" stroke="#000" stroke-width="0.40">10 s</text>
<path d="M147.5 808.1L148.4 808.1L149.3 808.1L150.2 808.6L151.1 807.5L152 808.9L152.9 807.5L153.8 808.3L154.6 808.5L155.5 808.5L156.4 806.4L157.3 808.1L158.2 807.6L159.1 808.2L160 808.7L160.9 808.3L161.8 807.3L162.7 808.2L163.6 807.2L164.5 807.6L165.4 807.1L166.2 805.8L167.1 807.6L168 807.4L168.9 806.3L169.8 807.2L170.7 805.9L171.6 805.9L172.5 804.6L173.4 807.5L174.3 807.9L175.1 808L176 809.6L176.9 809.1L177.8 811.5L178.7 813.2L179.6 814.6L180.4 815.5L181.3 816.4L182.2 817.2L183.1 817.6L184 820.3L184.9 819.7L185.7 821.8L186.6 823.4L187.5 824.3L188.4 824.7L189.3 826.2L190.2 828.2L191.1 828.8L192 829.3L192.9 830.9L193.8 831.9L194.6 833.2L195.5 834.6L196.4 834.9L197.3 834.3L198.2 834.6L199.1 836.7L200 833.9L200.8 838.7L201.7 843.6L202.5 848.1L203.3 851.6L204.2 856.4L205 860.2L205.8 864.9L206.7 869.3L207.5 872.7L208.3 876.9L209.2 881.2L210 886.6L210.8 891.1L211.7 895.5L212.5 900.5L213.3 904.8L214.2 909.6L215 916.9L215.9 920.1L216.7 922.1L217.6 925.5L218.4 927.5L219.3 931.1L220.1 932.8L221 938.8L221.9 939.7L222.8 939.9L223.7 940.9L224.6 941.3L225.5 942.6L226.4 942L227.3 942.6L228.2 943.5L229.1 944.3L230 944.5L230.8 946.6L231.7 945.9L232.5 945.5L233.4 944.2L234.2 946.6L235.1 944.7L235.9 945.3L236.8 946L237.6 946.8L238.5 946.3L239.3 945.9L240.2 945.2L241 943.7L241.9 943.3L242.8 942.8L243.7 941L244.6 938.4L245.5 938.5L246.4 935.2L247.3 935.5L248.2 934.7L249.1 932.6L250 930.5L250.9 926.4L251.8 925.5L252.7 922.4L253.6 921.9L254.5 918.9L255.4 916.3L256.2 913.5L257.1 912.7L258 908.8L258.9 908.7L259.8 904.8L260.7 905L261.6 901.9L262.5 900.2L263.4 897.9L264.3 896.5L265.2 895.5L266.1 892.7L267 890.9L267.9 889.6L268.8 887.4L269.6 885.3L270.5 884.1L271.4 881.6L272.3 881.3L273.2 878.5L274.1 877.1L275 875.2L275.9 873.9L276.8 873.1L277.7 870.9L278.6 869.8L279.5 868.6L280.4 866.8L281.2 865.2L282.1 862.8L283 860.6L283.9 859.6L284.8 857.7L285.7 856.5L286.6 856.1L287.5 853.4L288.4 854L289.3 850.9L290.2 850.6L291.1 848.8L292 848L292.9 845.9L293.8 844.5L294.6 844.3L295.5 842.9L296.4 841.7L297.3 839.7L298.2 837.8L299.1 836.1L300 836.9L300.9 834.3L301.8 833.7L302.7 832.1L303.6 832.6L304.5 831.9L305.4 830.5L306.2 829.5L307.1 828L308 825.9L308.9 824.1L309.8 824.8L310.7 822.7L311.6 822L312.5 821.4L313.4 820.8L314.3 819.7L315.2 818L316.1 817.8L317 816.9L317.9 815.7L318.8 814.3L319.6 813.5L320.5 813.2L321.4 811.5L322.3 808.6L323.2 809.3L324.1 808.2L325 807.3L325.9 807.5L326.8 807.1L327.7 807.1L328.6 806.1L329.5 805.6L330.4 805.7L331.2 805.1L332.1 804.1L333 804.4L333.9 802.7L334.8 803.6L335.7 802.9L336.6 802L337.5 802.4L338.4 801.9L339.3 802L340.2 802.4L341.1 802.4L342 802L342.9 801.6L343.8 800.2L344.6 801.1L345.5 801.3L346.4 800.8L347.3 799.5L348.2 800L349.1 799.9L350 799.3L350.9 799.3L351.8 799.6L352.7 799.7L353.6 800.1L354.5 799.1L355.4 799.6L356.2 798.5L357.1 798.5L358 798.6L358.9 798.1L359.8 798.5L360.7 798.2L361.6 798.3L362.5 797.7L363.4 798.2L364.3 798.1L365.2 797.8L366.1 797.8L367 797.2L367.9 797.8L368.8 797.5L369.6 797.7L370.5 797.7L371.4 797.7L372.3 797.5L373.2 797.5L374.1 797.6L375 797.3L375.9 797.1L376.8 797.4L377.7 797.5L378.6 797.5L379.5 797.2L380.4 797.3L381.2 797L382.1 797L383 796.6L383.9 797.3L384.8 797.2L385.7 797L386.6 797.3L387.5 797.4L388.4 796.6L389.3 796.5L390.2 796.7L391.1 796.7L392 796.3L392.9 796.7L393.8 796.6L394.6 796.9L395.5 796.7L396.4 796.7L397.3 796.3L398.2 795.9L399.1 796.1L400 796L400.9 796L401.8 795.9L402.7 795.9L403.6 795.8L404.5 796.4L405.4 796.4L406.3 796.6L407.2 796.6L408.1 796L408.9 796.1L409.8 796L410.7 796.5L411.6 796.4L412.5 796.4L413.4 796.4L414.3 796.2L415.2 796.5L416.1 796.7L417 796L417.9 796.6L418.8 796.6L419.7 796.7L420.6 796L421.5 796.5L422.4 796.7L423.3 796.9L424.2 797.1L425.1 797.3L425.9 797.1L426.8 797.2L427.7 797.2L428.6 797.2L429.5 796.9L430.4 796.7L431.3 796.3L432.2 796.6L433.1 796.8L434 796.9L434.9 796.6L435.8 796.6L436.7 796.6L437.6 797.1L438.5 797.1L439.4 796.9L440.2 796.8L441.1 796.7L442 796.7L442.9 796.7L443.8 796.4L444.7 796.4L445.6 796.2L446.5 796.7L447.4 796.3L448.3 796.5L449.2 796.8L450.1 796.6L451 796.9L451.9 796.9L452.8 797L453.6 796.6L454.5 796.2L455.4 796.6L456.3 796.4L457.2 796.2L458.1 796.1L459 796.7L459.9 796.5L460.8 796.6L461.7 796.3L462.6 796.3L463.5 796.3L464.4 796.3L465.2 796.1L466.1 796.1L467 796.3L467.9 796.1L468.8 796.2L469.7 796.4L470.6 796.4L471.5 796.5L472.4 796.3L473.3 796.2L474.2 796.6L475.1 796.9L476 796.8L476.9 797.1L477.8 797L478.6 797.2L479.5 797.6L480.4 797.6L481.3 797.2L482.2 797.5L483.1 797.3L484 797.6L484.9 798.3L485.8 798.6L486.7 798.4L487.6 798.6L488.5 798.7L489.4 798.9L490.2 798.6L491.1 799.2L492 799.5L492.9 799.6L493.8 799.5L494.7 799.6L495.6 799.9L496.5 799.6L497.4 800.1L498.3 800.1L499.2 800.5L500.1 800.5L501 800.4L501.9 800.3L502.8 800.8L503.6 800.7L504.5 801.3L505.4 800.7L506.3 801.2L507.2 801.3L508.1 801L509 801.1L509.9 802.3L510.8 802.4L511.7 803.4L512.6 803.7L513.5 804L514.4 804.7L515.2 805.3L516.1 806.4L517 806.6L517.9 807.5L518.8 808.2L519.7 808.5L520.6 809.3L521.5 810L522.4 810.7L523.2 811L524.1 811.6L525 812.8L525.9 813.7L526.8 814.6L527.6 815.8L528.5 815.7L529.4 815.9L530.2 815.6L531.1 817.8L532 817.9L532.9 818.9L533.8 820.4L534.6 820.6L535.5 822.3L536.4 822.5L537.2 823.3L538.1 823.4L539 823.9L539.9 824.9L540.8 826.7L541.7 828.1L542.6 829.3L543.5 829.6L544.4 832L545.2 832.8L546.1 834.5L547 834.3L547.9 836.9L548.8 838L549.7 839.3L550.6 840.1L551.5 839.6L552.3 842L553.2 844.5L554 847.2L554.8 849.9L555.7 851.8L556.5 854.8L557.3 857.6L558.2 860.5L559 862.8L559.8 864.3L560.7 867.6L561.5 870L562.3 871.8L563.2 874.4L564 877.1L564.8 880.5L565.7 882.4L566.5 885L567.3 887.7L568.2 889.8L569 893.6L569.8 895.1L570.7 897.4L571.5 898.5L572.3 899.6L573.2 901L574 899.7L574.8 902.5L575.7 904.8L576.5 906.5L577.3 906.8L578.2 907.3L579 907.9L579.8 908.6L580.7 909L581.5 909.4L582.3 910.3L583.2 911.3L584 911.1L584.8 910L585.7 907.5L586.5 907.5L587.3 905L588.2 905.5L589 904.1L589.8 903.3L590.7 901.9L591.5 899.4L592.3 897.5L593.2 896.2L594 894.1L594.8 892.8L595.7 891.4L596.5 890.2L597.3 887.5L598.2 885.2L599 882.3L599.8 880.2L600.7 879.1L601.5 878.8L602.3 878.1L603.2 876.8L604 875.7L604.8 876.5L605.7 876.1L606.5 874.9L607.3 875.3L608.2 874.3L609 873L609.9 875.1L610.7 874.5L611.6 875.5L612.4 875.9L613.3 874.9L614.1 875.6L615 875.2L615.9 874.4L616.8 873.7L617.7 871.5L618.6 868.4L619.5 868L620.4 865.1L621.3 864.9L622.2 864.1L623.1 862L624 861.3L624.9 859.5L625.8 859.2L626.6 857.9L627.5 856.9L628.4 856.1L629.3 854L630.2 852.3L631.1 851L631.9 849.9L632.8 848.2L633.7 847.7L634.6 845.5L635.5 845.2L636.4 844.4L637.2 844L638.1 842.4L639 841.7L639.9 838.6L640.8 839.6L641.6 838.1L642.5 837.6L643.4 837.2L644.3 836.3L645.2 832.7L646.1 833.3L646.9 832.3L647.8 830L648.7 829.7L649.6 829.7L650.5 829L651.4 826.9L652.2 825.3L653.1 824L654 822.9L654.9 822.9L655.8 822.1L656.7 820.6L657.6 818.7L658.5 817.5L659.4 815.4L660.2 815.4L661.1 814.8L662 814.9L662.9 813.6L663.8 813.3L664.7 811.4L665.6 809.7L666.5 809.8L667.4 808.6L668.3 809L669.2 808.1L670.1 807.5L671 806.6L671.9 806.5L672.8 805.1L673.6 805.2L674.5 805.4L675.4 804.4L676.3 803.9L677.2 802.9L678.1 802.6L679 801.5L679.9 801.9L680.8 802.3L681.7 802.4L682.6 802.7L683.5 801.5L684.4 801.7L685.3 801.6L686.2 801.6L687.1 801.6L688 801.1L688.9 801.3L689.8 801.3L690.7 800.8L691.6 800.3L692.5 800.5L693.4 799.9L694.3 800.4L695.2 800.4L696.1 800.1L697 799.7L697.9 799.5L698.8 799.8L699.7 799.2L700.6 798.8L701.5 798.8L702.4 798.5L703.2 799L704.1 799.5L705 799.6L705.8 800.1L706.7 799.8L707.6 798.9L708.5 799.4L709.3 800.2L710.2 800.3L711.1 800.6L711.9 800.5L712.8 800.7L713.7 800.5L714.5 800.7L715.4 800.6L716.3 800.3L717.2 800.7L718 800.7L718.9 801.2L719.8 800.7L720.6 800.6L721.5 801.2L722.4 800.3L723.3 800.8L724.2 801L725.1 801.1L726 800.6L726.9 800.8L727.8 800.4L728.7 801.1L729.6 800.2L730.4 800.3L731.3 800.8L732.2 800.7L733.1 800.1L734 800.6L734.9 800.1L735.8 800.4L736.7 799.9L737.6 799.9L738.5 799.8L739.4 799.9L740.3 799.3L741.2 799.5L742.1 799.6L743 798.7L743.9 799.1L744.8 799.5L745.7 799.6L746.6 799.2L747.4 798.8L748.3 799.2L749.2 799.3L750.1 799L751 798.9L751.9 799.3L752.8 798.6L753.7 799.1L754.6 798.7L755.5 799.6L755.5 801.9L754.6 802.5L753.7 802.9L752.8 802.7L751.9 803.1L751 802.9L750.1 803L749.2 803.4L748.3 802.9L747.4 803.5L746.6 803.4L745.7 803.4L744.8 803.4L743.9 803.8L743 803.2L742.1 803L741.2 803.6L740.3 803.6L739.4 803.9L738.5 804.4L737.6 804L736.7 804L735.8 804.1L734.9 804.3L734 804.2L733.1 804.5L732.2 804.6L731.3 804.5L730.4 804.8L729.6 804.4L728.7 805L727.8 804.8L726.9 804.9L726 805.4L725.1 805L724.2 805.3L723.3 804.8L722.4 805.2L721.5 805L720.6 805L719.8 804.9L718.9 805.3L718 805.2L717.2 805.6L716.3 804.7L715.4 804.7L714.5 804.9L713.7 804.5L712.8 804.8L711.9 804.6L711.1 804L710.2 804L709.3 804.2L708.5 803.8L707.6 803.9L706.7 803.6L705.8 804.1L705 803.4L704.1 803.7L703.2 803L702.4 802.9L701.5 803L700.6 803L699.7 803.2L698.8 803.4L697.9 803.6L697 804L696.1 804.2L695.2 804.4L694.3 804.2L693.4 804.1L692.5 804.4L691.6 804.6L690.7 804.7L689.8 804.9L688.9 805.1L688 805.5L687.1 805.8L686.2 805.9L685.3 806L684.4 806.8L683.5 806.4L682.6 806.6L681.7 807.4L680.8 806.7L679.9 806.7L679 807.4L678.1 807.3L677.2 807.9L676.3 809.3L675.4 810.8L674.5 810.7L673.6 811L672.8 811.6L671.9 811.8L671 812.8L670.1 812.9L669.2 814.2L668.3 814.2L667.4 815.1L666.5 817L665.6 818.1L664.7 818.4L663.8 819.7L662.9 821.1L662 821.3L661.1 822.2L660.2 822.3L659.4 824.2L658.5 825.6L657.6 826.7L656.7 828.4L655.8 829.7L654.9 829.7L654 830.3L653.1 831.9L652.2 832.6L651.4 834.7L650.5 836.3L649.6 836.1L648.7 836.4L647.8 838.6L646.9 839.7L646.1 840.6L645.2 840.6L644.3 843.2L643.4 844.5L642.5 845.7L641.6 846.4L640.8 846.6L639.9 847.3L639 849.6L638.1 850.8L637.2 851.6L636.4 852.1L635.5 852.9L634.6 854.4L633.7 855.4L632.8 855.9L631.9 858.4L631.1 858.6L630.2 859.7L629.3 860.7L628.4 862.4L627.5 864.6L626.6 865L625.8 867.3L624.9 866.9L624 868.7L623.1 870.2L622.2 871.7L621.3 872.9L620.4 874.9L619.5 875.5L618.6 878.6L617.7 879.7L616.8 881L615.9 883.5L615 883.5L614.1 883.2L613.3 882.2L612.4 881.6L611.6 881.3L610.7 880.4L609.9 880.4L609 880.7L608.2 882.5L607.3 881.9L606.5 883.5L605.7 882.6L604.8 884L604 883.6L603.2 884.3L602.3 885.4L601.5 885.9L600.7 888.8L599.8 891.7L599 892.4L598.2 894.4L597.3 896.8L596.5 899.6L595.7 901.2L594.8 903.3L594 904L593.2 905.7L592.3 907.7L591.5 909.6L590.7 909L589.8 909.7L589 911.6L588.2 913.5L587.3 912.9L586.5 915.4L585.7 914.5L584.8 918L584 918.2L583.2 916.4L582.3 916.8L581.5 915.3L580.7 915.8L579.8 914.8L579 914.2L578.2 913.7L577.3 914.4L576.5 912.2L575.7 912L574.8 911.4L574 910.6L573.2 909.1L572.3 907.3L571.5 907.6L570.7 905L569.8 903.3L569 901.3L568.2 900.6L567.3 897.6L566.5 895.1L565.7 892.4L564.8 889.7L564 887.3L563.2 884.4L562.3 881.9L561.5 879.1L560.7 877.2L559.8 874.7L559 873L558.2 871L557.3 867.2L556.5 864.7L555.7 863.5L554.8 860.4L554 857L553.2 854.7L552.3 851.7L551.5 850.1L550.6 848.2L549.7 846.4L548.8 845L547.9 843.7L547 841.8L546.1 842.1L545.2 840.2L544.4 838.9L543.5 837.1L542.6 835.6L541.7 834.9L540.8 834.2L539.9 832L539 831L538.1 829.8L537.2 828.8L536.4 828.5L535.5 827.5L534.6 827.2L533.8 826.7L532.9 825.4L532 824L531.1 824.6L530.2 822.9L529.4 821.3L528.5 821.3L527.6 820.9L526.8 820.4L525.9 819.9L525 818L524.1 817.4L523.2 816.8L522.4 816.8L521.5 815.5L520.6 814.6L519.7 814L518.8 813.4L517.9 812.5L517 811.7L516.1 810.8L515.2 810.6L514.4 809.3L513.5 809.1L512.6 809.7L511.7 808.1L510.8 807.4L509.9 806.9L509 805.7L508.1 805.7L507.2 805.7L506.3 805.6L505.4 805.3L504.5 805L503.6 804.4L502.8 804.4L501.9 804.4L501 804.3L500.1 804L499.2 803.9L498.3 803.8L497.4 803.5L496.5 803.4L495.6 803.3L494.7 803.6L493.8 803.4L492.9 803.4L492 803.3L491.1 803.1L490.2 803.2L489.4 802.7L488.5 802.3L487.6 802.5L486.7 802.3L485.8 802.4L484.9 802L484 801.3L483.1 801.2L482.2 801.4L481.3 801.1L480.4 801.5L479.5 801.1L478.6 800.6L477.8 800.6L476.9 800.8L476 800.3L475.1 800.8L474.2 800.3L473.3 800.1L472.4 799.8L471.5 800.3L470.6 800.1L469.7 800.3L468.8 800.4L467.9 799.9L467 799.7L466.1 799.9L465.2 800L464.4 800L463.5 800.3L462.6 799.6L461.7 800.1L460.8 800.3L459.9 800.5L459 800.4L458.1 800.2L457.2 800.1L456.3 800.2L455.4 800.4L454.5 800.4L453.6 800.4L452.8 800.5L451.9 800.5L451 800.3L450.1 800.8L449.2 800.7L448.3 800.1L447.4 800.4L446.5 800.5L445.6 800L444.7 800.2L443.8 800.6L442.9 800.4L442 800.4L441.1 801.1L440.2 800.2L439.4 800.5L438.5 800.4L437.6 800.7L436.7 800.4L435.8 800.8L434.9 800.7L434 800.4L433.1 800.8L432.2 800.4L431.3 800.5L430.4 800.1L429.5 800.8L428.6 801.2L427.7 800.7L426.8 800.8L425.9 801.4L425.1 800.7L424.2 800.9L423.3 800.7L422.4 800.6L421.5 800.6L420.6 800.2L419.7 800.1L418.8 800.3L417.9 800.7L417 800.3L416.1 800.4L415.2 799.9L414.3 800.1L413.4 800.3L412.5 800.4L411.6 800L410.7 800.3L409.8 800L408.9 800L408.1 799.9L407.2 800L406.3 800.2L405.4 799.9L404.5 800.2L403.6 799.7L402.7 799.9L401.8 799.4L400.9 799.5L400 800.2L399.1 799.5L398.2 799.8L397.3 800L396.4 800.4L395.5 800.6L394.6 800.6L393.8 800.4L392.9 800.7L392 800.7L391.1 800.5L390.2 800.5L389.3 800.4L388.4 800.6L387.5 801.1L386.6 800.8L385.7 801.1L384.8 800.7L383.9 800.8L383 800.7L382.1 800.9L381.2 800.8L380.4 801L379.5 800.8L378.6 801.2L377.7 801.2L376.8 801.2L375.9 800.9L375 801.1L374.1 801.8L373.2 801.1L372.3 801.3L371.4 801.7L370.5 801.2L369.6 801.9L368.8 801.6L367.9 801.5L367 802L366.1 801.8L365.2 802.7L364.3 802.4L363.4 801.8L362.5 801.9L361.6 802L360.7 802.2L359.8 802.7L358.9 802.7L358 804L357.1 803.2L356.2 803L355.4 804.4L354.5 804.1L353.6 804L352.7 804.2L351.8 804L350.9 804.4L350 804L349.1 805.1L348.2 804.8L347.3 805.9L346.4 805.7L345.5 806.4L344.6 807L343.8 806.7L342.9 807.4L342 806.7L341.1 807.4L340.2 807.2L339.3 808L338.4 807.5L337.5 807.8L336.6 807.5L335.7 808.9L334.8 809.6L333.9 808.6L333 810.6L332.1 810.8L331.2 811.7L330.4 812L329.5 812.5L328.6 812.5L327.7 812.9L326.8 813.5L325.9 813L325 814L324.1 815.2L323.2 815.9L322.3 817.8L321.4 819.1L320.5 821.4L319.6 820.8L318.8 822.1L317.9 823L317 823.6L316.1 825L315.2 825.6L314.3 826.2L313.4 828.2L312.5 828.4L311.6 830.6L310.7 829.9L309.8 831.7L308.9 833.2L308 834.1L307.1 835.3L306.2 836.8L305.4 837.8L304.5 838.3L303.6 839.2L302.7 840.3L301.8 841.4L300.9 841.9L300 844.5L299.1 845.1L298.2 846.7L297.3 848.6L296.4 848.8L295.5 850L294.6 851.6L293.8 853.4L292.9 854.8L292 854.9L291.1 856.6L290.2 859L289.3 859.7L288.4 861.7L287.5 861.8L286.6 863.5L285.7 865.4L284.8 866.2L283.9 867.8L283 869.7L282.1 872.7L281.2 872.5L280.4 874.3L279.5 877.9L278.6 879L277.7 879.5L276.8 880.7L275.9 882.9L275 883.4L274.1 885.6L273.2 888.6L272.3 891.2L271.4 890.8L270.5 894L269.6 894.3L268.8 896.6L267.9 897.5L267 900.2L266.1 902.5L265.2 904.6L264.3 905.9L263.4 907.1L262.5 909.1L261.6 912.3L260.7 914.1L259.8 915.9L258.9 918.4L258 920.4L257.1 922.7L256.2 923.6L255.4 927.5L254.5 929.9L253.6 931.7L252.7 934.2L251.8 936.7L250.9 939.2L250 941.8L249.1 942L248.2 943.8L247.3 945.6L246.4 947.5L245.5 948.5L244.6 949.6L243.7 949L242.8 953.5L241.9 952L241 953.6L240.2 953.7L239.3 953L238.5 952.8L237.6 954.2L236.8 954L235.9 952.5L235.1 951.4L234.2 952.1L233.4 952.4L232.5 952.5L231.7 951.8L230.8 953.3L230 952L229.1 953.7L228.2 951.9L227.3 951.1L226.4 949.5L225.5 949.5L224.6 947.9L223.7 947.8L222.8 948.4L221.9 946.3L221 944.1L220.1 944.2L219.3 941.2L218.4 938.5L217.6 935.4L216.7 933.4L215.9 930.2L215 926.9L214.2 925.3L213.3 920.6L212.5 916L211.7 912L210.8 906.2L210 902.3L209.2 896.4L208.3 892L207.5 887.2L206.7 882.8L205.8 878.2L205 874L204.2 870.3L203.3 866.4L202.5 862.7L201.7 858.4L200.8 853.6L200 849.3L199.1 844.1L198.2 843L197.3 842.8L196.4 841.6L195.5 841.5L194.6 840.9L193.8 839.2L192.9 837.9L192 837.3L191.1 836.8L190.2 834.2L189.3 833.8L188.4 833.4L187.5 831.7L186.6 830.1L185.7 829.2L184.9 827.1L184 826.6L183.1 825.5L182.2 824.6L181.3 824.5L180.4 822.2L179.6 821.4L178.7 821.5L177.8 819.9L176.9 817.7L176 816.8L175.1 816L174.3 815L173.4 814.3L172.5 813.3L171.6 812.9L170.7 813.1L169.8 812.8L168.9 812.6L168 812.9L167.1 813.4L166.2 813.5L165.4 814.4L164.5 813.2L163.6 813.9L162.7 815.6L161.8 813.7L160.9 815.1L160 813.7L159.1 814.2L158.2 813.7L157.3 813.8L156.4 814.2L155.5 814L154.6 814.7L153.8 813.5L152.9 813.4L152 814.1L151.1 814.1L150.2 815.4L149.3 814.2L148.4 812.9L147.5 814.6Z" stroke="#000" stroke-width="0.70" fill="#000" stroke-linejoin="round"/>
<line x1="745.00" y1="801.00" x2="745.00" y2="812.00" stroke="#444" stroke-width="1.00" stroke-linecap="butt"/>
<path d="M150 1001.5L150.9 1001.8L151.8 1001.9L152.7 1001.9L153.6 1001.8L154.5 1001.9L155.4 1001.9L156.3 1002.1L157.2 1002L158.1 1002.2L159 1002.3L159.9 1002.4L160.8 1002.4L161.7 1002.5L162.5 1002.5L163.4 1002.6L164.3 1002.6L165.2 1002.5L166.1 1002.6L167 1002.8L167.9 1003L168.8 1002.9L169.7 1003.2L170.6 1003.1L171.5 1002.8L172.4 1003.1L173.3 1003.1L174.2 1003.1L175.1 1003.5L176 1003.5L176.9 1003.3L177.8 1003.6L178.7 1003.7L179.6 1003.4L180.5 1003.9L181.4 1003.7L182.3 1003.9L183.2 1003.8L184.1 1003.8L185 1003.9L185.8 1004L186.7 1004.1L187.6 1004.1L188.5 1004.1L189.4 1004.2L190.3 1004.1L191.2 1004.2L192.1 1004.3L193 1004.4L193.9 1004.3L194.8 1004.6L195.7 1004.5L196.6 1004.6L197.5 1004.7L198.4 1005.2L199.3 1005.5L200.2 1006.1L201.1 1006.3L202 1006.7L202.9 1007.4L203.8 1007.8L204.6 1008.4L205.5 1008.7L206.4 1009.2L207.3 1009.5L208.2 1010.2L209.1 1010.5L210 1010.3L210.8 1011.6L211.7 1013.2L212.5 1014.6L213.3 1016.1L214.2 1017.5L215 1018.9L215.8 1020.2L216.7 1021.7L217.5 1020.7L218.3 1024.4L219.2 1028.2L220 1031.8L220.8 1035.5L221.7 1039.3L222.5 1037.4L223.4 1046.8L224.2 1056.4L225.1 1065.7L226 1072.9L226.8 1085.3L227.5 1097.6L228.2 1110.2L229 1126.3L229.7 1132.2L230.3 1137.6L231 1150L231.8 1150.6L232.6 1152.6L233.4 1153.8L234.2 1155.2L235.1 1155.1L235.9 1158L236.7 1159.5L237.5 1159.5L238.3 1159.9L239.1 1158.9L239.9 1158.8L240.8 1156.8L241.6 1156.5L242.4 1155.9L243.2 1155.9L244 1152.3L244.9 1149L245.7 1145.6L246.6 1142.6L247.4 1139.7L248.3 1136.7L249.1 1133.4L250 1129.5L250.8 1125.7L251.7 1121.6L252.5 1117.6L253.3 1114.4L254.2 1109.8L255 1106.1L255.8 1101.9L256.7 1097.7L257.5 1095L258.3 1092L259.2 1088.2L260 1085.7L260.8 1083.1L261.7 1080.3L262.5 1077.7L263.3 1074.1L264.2 1070.5L265 1068.8L265.8 1066.4L266.7 1064.4L267.5 1061.2L268.3 1059.4L269.2 1057.1L270 1055.2L270.8 1052.4L271.7 1050.5L272.5 1047.9L273.3 1045.2L274.2 1044.1L275 1042.8L275.9 1041L276.8 1038.7L277.7 1037.9L278.6 1036L279.5 1035.4L280.4 1033.5L281.2 1032.1L282.1 1031.5L283 1029.2L283.9 1027L284.8 1026.8L285.7 1025.1L286.6 1023.2L287.5 1022.4L288.4 1021.9L289.3 1020.6L290.2 1019.5L291.1 1019.4L292 1018.7L292.9 1017.7L293.8 1017.4L294.6 1016.3L295.5 1015.4L296.4 1014.6L297.3 1013.8L298.2 1013.5L299.1 1012L300 1011.4L300.9 1010.8L301.8 1010.9L302.7 1010.4L303.6 1009.6L304.5 1009.2L305.4 1008.9L306.2 1008.3L307.1 1007.7L308 1007.1L308.9 1007L309.8 1006.2L310.7 1005.4L311.6 1005.6L312.5 1005.9L313.4 1005.1L314.3 1005L315.2 1005.1L316.1 1004.8L317 1004.8L317.9 1004.5L318.8 1004.8L319.6 1004.6L320.5 1004.2L321.4 1004.1L322.3 1004.2L323.2 1003.7L324.1 1003.4L325 1003.3L325.9 1003.3L326.8 1003.6L327.7 1003.5L328.6 1003.6L329.5 1003.3L330.4 1003.2L331.2 1003.3L332.1 1003.6L333 1003.4L333.9 1003.4L334.8 1003L335.7 1002.8L336.6 1002.6L337.5 1002.6L338.4 1002.6L339.3 1002.8L340.2 1002.8L341.1 1002.7L342 1003L342.9 1003L343.8 1002.9L344.6 1002.8L345.5 1002.4L346.4 1002.5L347.3 1002.2L348.2 1002.2L349.1 1002.3L350 1002.2L350.9 1002.3L351.8 1002.1L352.7 1002.4L353.6 1002.2L354.5 1002L355.4 1001.8L356.2 1002L357.1 1002.1L358 1002.2L358.9 1001.8L359.8 1001.9L360.7 1001.8L361.6 1001.5L362.5 1001.7L363.4 1001.1L364.3 1001.4L365.2 1001.3L366.1 1001.3L367 1001.3L367.9 1001.2L368.8 1000.6L369.6 1000.5L370.5 1000.2L371.4 1000.3L372.3 1000.4L373.2 999.9L374.1 1000.2L375 1000.1L375.9 1000.2L376.8 1000L377.7 999.7L378.6 999.4L379.5 999.6L380.4 999.4L381.2 999.4L382.1 998.9L383 999.2L383.9 999.1L384.8 999L385.7 998.8L386.6 998.6L387.5 998.5L388.4 998.5L389.3 998.3L390.2 998.4L391.1 998.7L392 998.7L392.9 998.6L393.8 998.6L394.7 998.6L395.5 998.7L396.4 998.7L397.3 998.7L398.2 998.5L399.1 998.6L400 998.5L400.9 998.7L401.8 998.8L402.7 998.9L403.6 998.6L404.5 998.4L405.4 998.6L406.3 998.9L407.2 998.6L408.1 998.4L409 998.6L409.9 998.4L410.8 998.8L411.6 998.8L412.5 998.9L413.4 998.4L414.3 998.3L415.2 998.5L416.1 998.7L417 998.6L417.9 998.5L418.8 998.9L419.7 998.5L420.6 998.5L421.5 998.6L422.4 998.7L423.3 999L424.2 998.6L425.1 998.7L426 998.7L426.8 998.9L427.7 998.6L428.6 998.6L429.5 998.8L430.4 998.7L431.3 998.8L432.2 998.5L433.1 998.3L434 998.6L434.9 998.5L435.8 998.4L436.7 998.5L437.6 998.7L438.5 999.1L439.4 999.4L440.2 999.3L441.1 999.3L442 999.3L442.9 999.5L443.8 999.3L444.7 999.3L445.6 999.8L446.5 1000L447.4 1000.1L448.3 999.8L449.2 1000.1L450.1 1000.1L451 1000.5L451.9 1000.1L452.8 1000.6L453.6 1000.6L454.5 1000.4L455.4 1000.5L456.3 1000.6L457.2 1000.7L458.1 1000.8L459 1001L459.9 1001.2L460.8 1001.2L461.7 1001.2L462.6 1001.4L463.5 1001.4L464.4 1001.4L465.2 1001.7L466.1 1001.7L467 1001.9L467.9 1001.8L468.8 1001.7L469.7 1002.3L470.6 1002.4L471.5 1002.4L472.4 1002.7L473.3 1002.6L474.2 1002.6L475.1 1002.7L476 1003L476.9 1002.9L477.8 1003.3L478.6 1003.3L479.5 1002.8L480.4 1003.2L481.3 1003.2L482.2 1003.1L483.1 1003.9L484 1003.8L484.9 1003.7L485.8 1003.9L486.7 1004.2L487.6 1004.4L488.5 1004.4L489.4 1004.6L490.2 1004.9L491.1 1005.1L492 1004.9L492.9 1005.6L493.8 1005.9L494.7 1006.2L495.6 1006.8L496.5 1006.6L497.4 1007.1L498.3 1007L499.2 1007.5L500.1 1007.3L501 1008L501.9 1008.2L502.8 1008.2L503.6 1008.3L504.5 1008.6L505.4 1009.2L506.3 1009.3L507.2 1009.3L508.1 1009.7L509 1010L509.9 1010.6L510.8 1010.8L511.7 1010.9L512.6 1011.1L513.5 1011.3L514.4 1011.4L515.2 1011.3L516.1 1012.3L517 1012.4L517.9 1012.1L518.8 1012.4L519.7 1011.9L520.6 1013.4L521.5 1012.8L522.4 1013.5L523.3 1013.9L524.2 1015.1L525.1 1015.2L526 1015.8L526.9 1016.1L527.8 1017L528.6 1017L529.5 1017.6L530.4 1018.6L531.3 1019L532.2 1019L533.1 1019.6L534 1020L534.9 1020.9L535.8 1021.1L536.7 1021.9L537.6 1022.4L538.5 1023.5L539.4 1024.2L540.2 1024.9L541.1 1023.9L542 1024.5L542.9 1025.3L543.8 1025.6L544.7 1026.8L545.6 1027L546.5 1027.7L547.4 1027.9L548.2 1028.4L549.1 1029.7L550 1030.1L550.9 1030.4L551.8 1031.3L552.6 1031.9L553.5 1033.2L554.4 1033.9L555.2 1035.3L556.1 1036.1L557 1036.5L557.9 1036.8L558.8 1037.6L559.6 1039.2L560.5 1039.2L561.4 1039.1L562.2 1041.2L563.1 1041.5L564 1042.5L564.9 1043.5L565.8 1043.8L566.6 1044.4L567.5 1044.6L568.4 1045L569.3 1046.3L570.2 1047.2L571.1 1046.9L571.9 1049.6L572.8 1049.2L573.7 1050.1L574.6 1050.3L575.5 1050.4L576.4 1052.1L577.2 1051.3L578.1 1053.7L579 1054.4L579.9 1054.6L580.8 1053.1L581.7 1053.7L582.6 1054.5L583.5 1054.4L584.4 1054.5L585.2 1055.5L586.1 1055.9L587 1056L587.9 1057.9L588.8 1057L589.7 1058.2L590.6 1059.5L591.5 1057.8L592.4 1059.5L593.3 1056.4L594.2 1057.5L595.1 1059.3L596 1057.2L596.9 1056.5L597.8 1057.4L598.6 1055.9L599.5 1055.4L600.4 1055.2L601.3 1055.5L602.2 1057.4L603.1 1056.4L604 1053.9L604.8 1053.2L605.7 1054.1L606.5 1053.5L607.3 1052.1L608.2 1052.2L609 1050.5L609.8 1050L610.7 1050.1L611.5 1048L612.3 1049L613.2 1047.3L614 1046.4L614.8 1045.6L615.7 1044.3L616.5 1042.6L617.3 1041.5L618.2 1039.7L619 1038.6L619.8 1037.4L620.7 1035.8L621.5 1035L622.3 1035L623.2 1033.9L624 1032L624.9 1031.5L625.8 1031.2L626.6 1029.4L627.5 1029L628.4 1027.2L629.3 1026.9L630.2 1026.7L631.1 1024.6L631.9 1025.2L632.8 1023.6L633.7 1022.2L634.6 1022L635.5 1020L636.4 1020.7L637.2 1019.1L638.1 1018.2L639 1018.5L639.9 1018.2L640.7 1018.2L641.6 1017.9L642.5 1018L643.3 1016.2L644.2 1016.3L645.1 1016.3L646 1016L646.8 1015.3L647.7 1015L648.6 1015.1L649.4 1014L650.3 1013.8L651.2 1014.2L652 1012.9L652.9 1013.1L653.8 1011.7L654.7 1012.5L655.5 1011.5L656.4 1011.5L657.3 1010.7L658.1 1010.4L659 1010.4L659.9 1010.5L660.8 1009.9L661.7 1009.5L662.6 1009.8L663.5 1009.5L664.4 1009.2L665.2 1008.6L666.1 1009L667 1008.3L667.9 1008L668.8 1008.4L669.7 1007.4L670.6 1007.9L671.5 1007.4L672.4 1007.3L673.3 1006.9L674.2 1007.2L675.1 1006.7L676 1006.3L676.9 1006.2L677.8 1005.9L678.6 1005.7L679.5 1005.4L680.4 1005.2L681.3 1004.8L682.2 1005.1L683.1 1004.5L684 1004.3L684.9 1004L685.8 1003.8L686.7 1003.6L687.6 1004.1L688.5 1003.9L689.4 1003.4L690.2 1003.7L691.1 1003.3L692 1003.5L692.9 1003L693.8 1002.8L694.7 1002.8L695.6 1002.6L696.5 1002.4L697.4 1002.3L698.3 1002.7L699.2 1002.4L700.1 1002.4L701 1001.9L701.9 1002L702.8 1002L703.6 1001.7L704.5 1001.7L705.4 1001.5L706.3 1001.1L707.2 1001.4L708.1 1001.2L709 1001.1L709.9 1000.8L710.8 1000.6L711.7 1001L712.6 1000.7L713.5 1000.7L714.4 1000.5L715.2 1000.3L716.1 1000.2L717 1000.1L717.9 1000.2L718.8 999.9L719.7 999.9L720.6 999.7L721.5 999.8L722.4 999.8L723.3 999.8L724.2 999.9L725.1 999.9L726 999.6L726.9 999.7L727.8 999.4L728.6 999.6L729.5 999.4L730.4 999.4L731.3 999.1L732.2 998.9L733.1 998.9L734 999L734.9 999.1L735.8 999.3L736.7 999.3L737.5 999.2L738.4 998.8L739.3 999.2L740.2 999.1L741.1 999.5L742 999.2L742.9 998.9L743.7 999.4L744.6 999.3L745.5 999.1L746.4 999.3L747.3 999.4L748.2 999.4L749.1 999.2L749.9 999.3L750.8 999.5L751.7 999.4L752.6 999.7L753.5 1000L754.4 999.5L755.2 1000.1L755.2 1001.9L754.4 1002.7L753.5 1002.6L752.6 1002.8L751.7 1002.5L750.8 1002.7L749.9 1002.3L749.1 1002.3L748.2 1002.3L747.3 1002.4L746.4 1002.2L745.5 1002.4L744.6 1002.3L743.7 1002.4L742.9 1001.9L742 1002.2L741.1 1002.1L740.2 1002.1L739.3 1001.9L738.4 1001.8L737.5 1001.9L736.7 1002.5L735.8 1002.1L734.9 1002L734 1002.1L733.1 1001.9L732.2 1002.1L731.3 1002.1L730.4 1002.3L729.5 1002.4L728.6 1002.7L727.8 1002.4L726.9 1002.8L726 1002.8L725.1 1002.7L724.2 1003.1L723.3 1003L722.4 1002.8L721.5 1003.5L720.6 1002.8L719.7 1002.9L718.8 1002.8L717.9 1003L717 1003.3L716.1 1003.3L715.2 1003.1L714.4 1003.3L713.5 1003.8L712.6 1004.3L711.7 1004.3L710.8 1003.9L709.9 1004.1L709 1004.5L708.1 1004.1L707.2 1004.4L706.3 1004.4L705.4 1004.7L704.5 1004.4L703.6 1004.7L702.8 1005L701.9 1004.8L701 1005.1L700.1 1005.2L699.2 1005.4L698.3 1005.4L697.4 1005.7L696.5 1005.8L695.6 1005.8L694.7 1006L693.8 1006.3L692.9 1006.5L692 1006.3L691.1 1006.6L690.2 1006.8L689.4 1006.9L688.5 1006.8L687.6 1007.5L686.7 1006.9L685.8 1007.7L684.9 1007.5L684 1007.7L683.1 1008.4L682.2 1008.1L681.3 1008.6L680.4 1009.1L679.5 1008.6L678.6 1009.3L677.8 1009.8L676.9 1010L676 1009.7L675.1 1010.1L674.2 1011.3L673.3 1010.3L672.4 1010.7L671.5 1011.5L670.6 1011.5L669.7 1011.3L668.8 1012.6L667.9 1011.6L667 1012.4L666.1 1012.3L665.2 1012.3L664.4 1013.2L663.5 1013.3L662.6 1013.1L661.7 1013.9L660.8 1014.7L659.9 1014.3L659 1014.2L658.1 1014.7L657.3 1015.1L656.4 1015.9L655.5 1016.1L654.7 1016.4L653.8 1016.8L652.9 1017.4L652 1017.5L651.2 1018.5L650.3 1018.8L649.4 1018.7L648.6 1019.7L647.7 1019.9L646.8 1019.8L646 1019.8L645.1 1020.7L644.2 1021L643.3 1021.1L642.5 1022.5L641.6 1022.4L640.7 1023.6L639.9 1023.6L639 1023.4L638.1 1024.6L637.2 1024.7L636.4 1026.7L635.5 1026.5L634.6 1027.1L633.7 1028.6L632.8 1028.9L631.9 1030.1L631.1 1030L630.2 1032.1L629.3 1032.3L628.4 1033.4L627.5 1034.7L626.6 1035.6L625.8 1036.8L624.9 1037L624 1037.5L623.2 1039.4L622.3 1040.6L621.5 1042L620.7 1043.2L619.8 1045.4L619 1045.3L618.2 1046.7L617.3 1048.4L616.5 1048.8L615.7 1050.8L614.8 1052.5L614 1053.1L613.2 1054L612.3 1054.4L611.5 1054.4L610.7 1056.4L609.8 1056.3L609 1058.1L608.2 1058.9L607.3 1059.6L606.5 1059.5L605.7 1062.2L604.8 1061.4L604 1063.9L603.1 1063.6L602.2 1063.6L601.3 1062.9L600.4 1064.2L599.5 1064.3L598.6 1063.1L597.8 1064.2L596.9 1065.6L596 1065.5L595.1 1065.6L594.2 1066.5L593.3 1065.9L592.4 1067.1L591.5 1065.9L590.6 1067.7L589.7 1065.4L588.8 1064.6L587.9 1065.8L587 1065L586.1 1064.8L585.2 1062.8L584.4 1063L583.5 1062.8L582.6 1063.3L581.7 1060.9L580.8 1062.2L579.9 1063.4L579 1063.1L578.1 1062.8L577.2 1061.4L576.4 1057.8L575.5 1057.3L574.6 1057.1L573.7 1057.7L572.8 1055.8L571.9 1055.2L571.1 1053.7L570.2 1052.9L569.3 1052L568.4 1050.6L567.5 1050.2L566.6 1049.2L565.8 1048.8L564.9 1048L564 1046.8L563.1 1046.8L562.2 1046.9L561.4 1045.7L560.5 1044.6L559.6 1044.3L558.8 1043.3L557.9 1042.4L557 1041.6L556.1 1041.3L555.2 1040.4L554.4 1038.8L553.5 1038L552.6 1037.7L551.8 1036.7L550.9 1036.1L550 1035.4L549.1 1033.9L548.2 1033.9L547.4 1032.8L546.5 1031.8L545.6 1031.5L544.7 1031.7L543.8 1030.2L542.9 1029.9L542 1030.3L541.1 1029.7L540.2 1028.9L539.4 1028.7L538.5 1027.5L537.6 1027.2L536.7 1026.4L535.8 1025.7L534.9 1025.2L534 1024.3L533.1 1023.5L532.2 1023L531.3 1023.1L530.4 1022.8L529.5 1021.6L528.6 1021.3L527.8 1020.6L526.9 1020.3L526 1020L525.1 1019.1L524.2 1018.6L523.3 1018L522.4 1017.2L521.5 1017L520.6 1016.5L519.7 1016.4L518.8 1017L517.9 1016.6L517 1015.9L516.1 1016.2L515.2 1015.1L514.4 1015L513.5 1014.6L512.6 1014.4L511.7 1013.9L510.8 1014L509.9 1013.8L509 1013.4L508.1 1012.9L507.2 1013L506.3 1012.7L505.4 1012.5L504.5 1012.3L503.6 1011.9L502.8 1011.6L501.9 1011.3L501 1011.2L500.1 1010.5L499.2 1010.6L498.3 1010.4L497.4 1010L496.5 1009.9L495.6 1009.6L494.7 1009.1L493.8 1009L492.9 1008.7L492 1008.4L491.1 1008.2L490.2 1008.2L489.4 1007.9L488.5 1007.7L487.6 1007.3L486.7 1007.4L485.8 1006.9L484.9 1007L484 1007L483.1 1006.6L482.2 1006.5L481.3 1006.2L480.4 1005.9L479.5 1006.1L478.6 1006.2L477.8 1006.1L476.9 1006.3L476 1005.6L475.1 1005.3L474.2 1005.4L473.3 1005.4L472.4 1005.5L471.5 1005L470.6 1005L469.7 1004.9L468.8 1004.7L467.9 1005L467 1005L466.1 1004.8L465.2 1004.7L464.4 1004.3L463.5 1004.4L462.6 1004.6L461.7 1004.3L460.8 1004L459.9 1003.9L459 1004L458.1 1003.8L457.2 1003.3L456.3 1003.6L455.4 1003.2L454.5 1003.5L453.6 1003.6L452.8 1003.3L451.9 1003.3L451 1003.2L450.1 1003.1L449.2 1002.9L448.3 1002.9L447.4 1003L446.5 1002.7L445.6 1002.5L444.7 1002.1L443.8 1002.1L442.9 1002.3L442 1002.3L441.1 1002.1L440.2 1002.3L439.4 1002.1L438.5 1002L437.6 1001.5L436.7 1001.8L435.8 1001.5L434.9 1001.5L434 1001.5L433.1 1001.3L432.2 1001.6L431.3 1001.7L430.4 1001.5L429.5 1001.7L428.6 1001.2L427.7 1001.4L426.8 1001.6L426 1001.6L425.1 1001.2L424.2 1001.7L423.3 1001.8L422.4 1001.5L421.5 1001.4L420.6 1001.5L419.7 1001.6L418.8 1001.7L417.9 1001.5L417 1001.6L416.1 1001.3L415.2 1001.4L414.3 1001.3L413.4 1001.3L412.5 1001.9L411.6 1001.7L410.8 1001.4L409.9 1001.5L409 1001.3L408.1 1001.4L407.2 1001.4L406.3 1001.6L405.4 1001.5L404.5 1001.6L403.6 1001.5L402.7 1001.8L401.8 1001.7L400.9 1001.4L400 1001.6L399.1 1001.3L398.2 1001.4L397.3 1001.4L396.4 1001.5L395.5 1001.7L394.7 1001.5L393.8 1001.7L392.9 1001.2L392 1001.4L391.1 1001.6L390.2 1001.3L389.3 1001.1L388.4 1001.3L387.5 1001.5L386.6 1001.4L385.7 1001.8L384.8 1001.8L383.9 1002.3L383 1002L382.1 1002.2L381.2 1002.2L380.4 1002.2L379.5 1002.5L378.6 1002.6L377.7 1002.6L376.8 1002.6L375.9 1002.9L375 1003L374.1 1003.2L373.2 1003.1L372.3 1003.2L371.4 1003.1L370.5 1003.4L369.6 1003.5L368.8 1003.7L367.9 1004L367 1003.8L366.1 1004L365.2 1004.2L364.3 1004.1L363.4 1004.2L362.5 1004.5L361.6 1004.5L360.7 1004.4L359.8 1004.7L358.9 1004.6L358 1004.9L357.1 1005L356.2 1004.9L355.4 1005L354.5 1004.8L353.6 1005L352.7 1005L351.8 1005L350.9 1005.1L350 1005.2L349.1 1005.2L348.2 1005.2L347.3 1005.3L346.4 1005.2L345.5 1005.3L344.6 1005.4L343.8 1005.4L342.9 1005.6L342 1005.5L341.1 1005.8L340.2 1005.8L339.3 1005.5L338.4 1005.4L337.5 1005.5L336.6 1005.3L335.7 1005.4L334.8 1005.8L333.9 1006.1L333 1006.2L332.1 1006.4L331.2 1006.1L330.4 1006.1L329.5 1006.2L328.6 1006.5L327.7 1006.1L326.8 1006.4L325.9 1006.5L325 1006.4L324.1 1006.8L323.2 1007.1L322.3 1007.5L321.4 1007.6L320.5 1007.3L319.6 1007.8L318.8 1007.9L317.9 1008.1L317 1008.3L316.1 1008.2L315.2 1009.1L314.3 1009L313.4 1009.1L312.5 1009.7L311.6 1010.1L310.7 1010.6L309.8 1010.5L308.9 1011L308 1011.6L307.1 1011.7L306.2 1012.7L305.4 1012.6L304.5 1013.6L303.6 1014.9L302.7 1014.1L301.8 1014.6L300.9 1014.9L300 1015.8L299.1 1017L298.2 1017.8L297.3 1019L296.4 1019.1L295.5 1019.9L294.6 1021L293.8 1021.6L292.9 1021.9L292 1022.8L291.1 1023.8L290.2 1025.5L289.3 1026L288.4 1026.5L287.5 1027.6L286.6 1029.3L285.7 1030.3L284.8 1032.1L283.9 1033.2L283 1034.5L282.1 1036.9L281.2 1037.6L280.4 1039.1L279.5 1041.3L278.6 1042.3L277.7 1044.1L276.8 1044.6L275.9 1046.3L275 1049L274.2 1051.7L273.3 1054.1L272.5 1055.6L271.7 1057.4L270.8 1060.3L270 1062.5L269.2 1064.7L268.3 1067.6L267.5 1069.1L266.7 1071.7L265.8 1074.1L265 1076.6L264.2 1080.8L263.3 1083.5L262.5 1086.5L261.7 1089.6L260.8 1092.1L260 1095.4L259.2 1098.1L258.3 1100.8L257.5 1104.3L256.7 1109.2L255.8 1112.5L255 1117.2L254.2 1120.8L253.3 1124.7L252.5 1128.3L251.7 1132.7L250.8 1136.6L250 1140.3L249.1 1143.1L248.3 1145.6L247.4 1149.4L246.6 1152.8L245.7 1155.6L244.9 1160.1L244 1163L243.2 1161.5L242.4 1162.8L241.6 1164.1L240.8 1163.7L239.9 1165.9L239.1 1166.2L238.3 1166.6L237.5 1168L236.7 1166.2L235.9 1164.8L235.1 1162.8L234.2 1161.7L233.4 1160.4L232.6 1159L231.8 1157.1L231 1156.2L230.3 1155.9L229.7 1149.9L229 1143.2L228.2 1134.8L227.5 1122.1L226.8 1109.6L226 1097.2L225.1 1085.6L224.2 1076.3L223.4 1066.9L222.5 1057.6L221.7 1048.1L220.8 1044.5L220 1040.8L219.2 1036.9L218.3 1033.2L217.5 1029.5L216.7 1025.8L215.8 1024.3L215 1023L214.2 1021.8L213.3 1020.3L212.5 1018.9L211.7 1017.3L210.8 1016.2L210 1014.6L209.1 1013.4L208.2 1012.8L207.3 1012.4L206.4 1011.9L205.5 1011.5L204.6 1011.3L203.8 1010.6L202.9 1010.1L202 1009.5L201.1 1009.1L200.2 1008.7L199.3 1008.3L198.4 1007.9L197.5 1007.3L196.6 1007.3L195.7 1007.1L194.8 1007.2L193.9 1006.8L193 1007.2L192.1 1006.8L191.2 1006.9L190.3 1006.8L189.4 1006.7L188.5 1006.8L187.6 1006.7L186.7 1006.6L185.8 1006.6L185 1006.5L184.1 1006.5L183.2 1006.3L182.3 1006.3L181.4 1006.3L180.5 1006.3L179.6 1006.4L178.7 1006.4L177.8 1006.1L176.9 1006.2L176 1005.9L175.1 1005.9L174.2 1005.8L173.3 1005.8L172.4 1005.8L171.5 1005.5L170.6 1005.6L169.7 1005.6L168.8 1005.4L167.9 1005.3L167 1005.3L166.1 1005.3L165.2 1005.1L164.3 1005.3L163.4 1005L162.5 1005.1L161.7 1004.9L160.8 1004.9L159.9 1004.8L159 1004.8L158.1 1004.9L157.2 1004.6L156.3 1004.5L155.4 1004.6L154.5 1004.5L153.6 1004.6L152.7 1004.6L151.8 1004.4L150.9 1004.3L150 1004.1Z" stroke="#000" stroke-width="0.70" fill="#000" stroke-linejoin="round"/>
<path d="M147 1213L147.9 1213.1L148.8 1213.1L149.6 1213L150.5 1213.1L151.4 1213.1L152.2 1213.3L153.1 1213.3L154 1213.4L154.9 1213.5L155.8 1213.4L156.6 1213.4L157.5 1213.5L158.4 1213.3L159.2 1213.4L160.1 1213.6L161 1213.3L161.9 1213.3L162.8 1213.4L163.6 1213.8L164.5 1213.7L165.4 1213.6L166.2 1213.7L167.1 1213.6L168 1213.1L168.9 1213.7L169.8 1213.7L170.6 1213.2L171.5 1213.9L172.4 1214L173.2 1213.8L174.1 1214.1L175 1213.5L175.9 1214.1L176.8 1214.2L177.7 1213.9L178.6 1214.4L179.5 1214L180.4 1214.4L181.2 1215L182.1 1215.7L183 1215.3L183.9 1214.4L184.8 1215.7L185.7 1215.4L186.6 1215.4L187.5 1215.3L188.4 1215.4L189.3 1216.6L190.2 1216L191.1 1216.1L192 1215.2L192.9 1217.9L193.8 1218.3L194.6 1218.1L195.5 1216.7L196.4 1215.8L197.3 1217.3L198.2 1217.3L199.1 1217.8L200 1218.2L200.9 1217.2L201.8 1218.3L202.7 1217.8L203.6 1218.6L204.5 1219.4L205.4 1220.7L206.2 1220.1L207.1 1219.1L208 1220.5L208.9 1221.6L209.8 1218.8L210.7 1221L211.6 1218.5L212.5 1221.7L213.4 1222.9L214.3 1222L215.2 1224L216.1 1223.7L217 1223.4L217.9 1223L218.8 1225.9L219.6 1222.9L220.5 1224.9L221.4 1223L222.3 1225.1L223.2 1224.4L224.1 1225.8L225 1225.8L225.9 1225.2L226.8 1225.6L227.7 1225.4L228.6 1228.2L229.5 1228.6L230.4 1229.1L231.2 1228.3L232.1 1231L233 1230.4L233.9 1230.6L234.8 1231.2L235.7 1231.9L236.6 1232.2L237.5 1230.9L238.4 1233.1L239.3 1234.8L240.2 1237.4L241.1 1237.2L242 1237.5L242.9 1238L243.8 1238L244.6 1239L245.5 1242L246.4 1241.6L247.3 1245.4L248.2 1241.6L249.1 1244.1L250 1245.3L250.9 1246.1L251.8 1246.6L252.7 1246.7L253.6 1248.7L254.5 1247.5L255.4 1247.6L256.2 1247.6L257.1 1250.2L258 1248.6L258.9 1252.4L259.8 1253.2L260.7 1254.6L261.6 1252.9L262.5 1255.3L263.4 1258.8L264.3 1260.9L265.2 1260.6L266.1 1257.7L267 1256.3L267.9 1261.8L268.8 1260.9L269.6 1263.6L270.5 1267.7L271.4 1266.3L272.3 1267L273.2 1267L274.1 1267.5L275 1272.8L275.9 1273.4L276.8 1274.6L277.7 1270.4L278.6 1271.9L279.5 1275.6L280.4 1279L281.2 1282.2L282.1 1282.8L283 1285.3L283.9 1282L284.8 1289.3L285.7 1288.6L286.6 1288.2L287.5 1284.8L288.3 1289.8L289.1 1294.2L289.9 1294.5L290.6 1299.5L291.4 1302.7L292.2 1303.5L293 1299.7L293.8 1307.9L294.6 1313.7L295.4 1316.9L296.2 1321.1L297 1334L297 1336L296.2 1340.2L295.4 1337.6L294.6 1334.3L293.8 1327.4L293 1324.1L292.2 1321.5L291.4 1319.6L290.6 1317L289.9 1317.8L289.1 1311L288.3 1308.8L287.5 1307.2L286.6 1307.3L285.7 1302.6L284.8 1302.9L283.9 1304.4L283 1304L282.1 1303.5L281.2 1302.5L280.4 1293.9L279.5 1290.7L278.6 1293.6L277.7 1287.3L276.8 1290.9L275.9 1293.8L275 1286.9L274.1 1284.3L273.2 1284.4L272.3 1284.9L271.4 1280.1L270.5 1283.6L269.6 1286.5L268.8 1281.7L267.9 1282.2L267 1277.9L266.1 1274.2L265.2 1277.5L264.3 1273.9L263.4 1273.6L262.5 1273.3L261.6 1270.5L260.7 1270.9L259.8 1269.4L258.9 1266.3L258 1266.4L257.1 1263.6L256.2 1263.7L255.4 1266.5L254.5 1262.2L253.6 1263.6L252.7 1258.3L251.8 1259.2L250.9 1258.2L250 1258.8L249.1 1257.5L248.2 1254.5L247.3 1258.5L246.4 1257.1L245.5 1255.3L244.6 1253.5L243.8 1251.8L242.9 1251.4L242 1250.8L241.1 1249.3L240.2 1248.7L239.3 1246.4L238.4 1248.3L237.5 1245.9L236.6 1245.8L235.7 1244.2L234.8 1245.4L233.9 1243.6L233 1240.5L232.1 1242.6L231.2 1239.9L230.4 1240.7L229.5 1239.3L228.6 1241.5L227.7 1238.4L226.8 1238.3L225.9 1238.3L225 1237.2L224.1 1235.4L223.2 1238.7L222.3 1235.3L221.4 1237L220.5 1234.1L219.6 1234.8L218.8 1235.1L217.9 1233.3L217 1234.4L216.1 1234.3L215.2 1233.2L214.3 1232.8L213.4 1230.5L212.5 1230L211.6 1228.9L210.7 1230.2L209.8 1229.7L208.9 1228.3L208 1229.1L207.1 1227.6L206.2 1227.2L205.4 1227L204.5 1227.1L203.6 1226.6L202.7 1224.6L201.8 1224.7L200.9 1224.1L200 1224.8L199.1 1225.2L198.2 1225.5L197.3 1223.2L196.4 1222.9L195.5 1223.1L194.6 1223.2L193.8 1224.2L192.9 1222.5L192 1222L191.1 1221.6L190.2 1220.9L189.3 1221.2L188.4 1220.1L187.5 1221.4L186.6 1222.2L185.7 1220.8L184.8 1220.9L183.9 1220L183 1219.5L182.1 1219.7L181.2 1219.5L180.4 1220.2L179.5 1218.7L178.6 1218.8L177.7 1218L176.8 1218.7L175.9 1218.3L175 1218.1L174.1 1218.1L173.2 1217.9L172.4 1217.5L171.5 1216.9L170.6 1217L169.8 1217.1L168.9 1216.9L168 1216.9L167.1 1216.8L166.2 1216.8L165.4 1216.4L164.5 1216.5L163.6 1216.5L162.8 1216.4L161.9 1216.2L161 1216.5L160.1 1216.7L159.2 1216.1L158.4 1216.3L157.5 1216.2L156.6 1216.5L155.8 1216.4L154.9 1216.3L154 1216.1L153.1 1216.2L152.2 1216L151.4 1216.1L150.5 1216.1L149.6 1215.9L148.8 1216.1L147.9 1216.1L147 1215.7Z" stroke="#000" stroke-width="0.70" fill="#000" stroke-linejoin="round"/>
<rect x="297.00" y="1327.00" width="26.80" height="21.60" fill="#000"/>
<rect x="308.60" y="1317.00" width="6.60" height="12.00" fill="#000"/>
<line x1="321.40" y1="1340.00" x2="321.40" y2="1372.20" stroke="#000" stroke-width="2.40" stroke-linecap="round"/>
<path d="M323 1314.5L323.7 1307.2L324.3 1300.7L325 1293.4L325.8 1290.1L326.7 1280.7L327.5 1279.5L328.3 1275.8L329.2 1265.2L330 1265.5L330.8 1258.6L331.7 1255.3L332.5 1253.7L333.3 1252.7L334.2 1248.4L335 1246.7L335.8 1245.5L336.7 1244.7L337.5 1240.8L338.3 1243L339.2 1236.7L340 1242.2L340.8 1235.1L341.7 1234.7L342.5 1236.2L343.3 1233.1L344.2 1235L345 1227.2L345.8 1231.5L346.7 1224.4L347.5 1230.9L348.3 1227.5L349.2 1228.4L350 1226.7L350.8 1226.9L351.7 1227.6L352.5 1228.8L353.3 1225.2L354.2 1222.2L355 1222.1L355.9 1223.8L356.8 1220L357.6 1222.5L358.5 1221.8L359.4 1222L360.3 1221.9L361.2 1220.2L362.1 1221.7L362.9 1219.6L363.8 1219.5L364.7 1219.5L365.6 1219.8L366.5 1215.9L367.4 1214.4L368.2 1217.8L369.1 1218.1L370 1218.1L370.9 1217.7L371.8 1217.3L372.6 1218L373.5 1216.4L374.4 1215.6L375.2 1216.6L376.1 1215.6L377 1216.1L377.9 1217L378.8 1215.1L379.6 1216.7L380.5 1217.1L381.4 1213.7L382.2 1215.4L383.1 1215L384 1215L384.9 1214.9L385.8 1215.9L386.6 1215.4L387.5 1213.6L388.4 1214.1L389.3 1215L390.2 1215.2L391.1 1215.1L392 1214.9L392.9 1214.5L393.8 1214.3L394.6 1214.2L395.5 1214.1L396.4 1213.3L397.3 1212.8L398.2 1213.5L399.1 1213.9L400 1214.8L400.9 1213L401.8 1213.7L402.7 1211.9L403.6 1214.1L404.5 1214L405.4 1214.1L406.2 1212.9L407.1 1213.6L408 1213.1L408.9 1214L409.8 1213.8L410.7 1213.5L411.6 1213.3L412.5 1213.4L413.4 1213.1L414.3 1213.4L415.2 1212.4L416.1 1212.4L417 1212.7L417.9 1212.5L418.8 1211.9L419.7 1211.8L420.6 1212.8L421.5 1212.6L422.4 1212.8L423.2 1213.3L424.1 1213.1L425 1212.9L425.9 1212.2L426.8 1212.7L427.7 1212.4L428.6 1212.8L429.5 1212.6L430.4 1212.6L431.3 1212.9L432.2 1212.3L433.1 1212.5L434 1212.4L434.9 1212.3L435.8 1212.5L436.6 1212.3L437.5 1212L438.4 1211.9L439.3 1212.2L440.2 1212L441.1 1212.5L441.9 1211.9L442.8 1212.1L443.7 1212.3L444.6 1211.6L445.5 1212.1L446.4 1211.7L447.2 1211.8L448.1 1212.1L449 1212.1L449.9 1211.8L450.8 1212L451.6 1211.7L452.5 1212.1L453.4 1212.1L454.3 1212.2L455.2 1211.8L456.1 1211.6L456.9 1212.1L457.8 1212.1L458.7 1211.6L459.6 1211.5L460.5 1211.4L461.4 1211.9L462.2 1211.5L463.1 1211.9L464 1212.5L464 1214.5L463.1 1214.9L462.2 1215L461.4 1214.9L460.5 1214.6L459.6 1214.9L458.7 1214.9L457.8 1215.2L456.9 1215L456.1 1215.2L455.2 1215L454.3 1215.1L453.4 1215.4L452.5 1215.2L451.6 1215.4L450.8 1215L449.9 1215.3L449 1215.5L448.1 1215.1L447.2 1215.3L446.4 1215.2L445.5 1215L444.6 1215.3L443.7 1215.2L442.8 1215.6L441.9 1215.4L441.1 1215.6L440.2 1215.5L439.3 1215.2L438.4 1215.4L437.5 1215.7L436.6 1215.6L435.8 1215.7L434.9 1215.5L434 1215.7L433.1 1215.8L432.2 1216L431.3 1216.1L430.4 1215.7L429.5 1216L428.6 1216.1L427.7 1215.9L426.8 1215.8L425.9 1215.7L425 1215.9L424.1 1217.1L423.2 1217.5L422.4 1216.8L421.5 1216.4L420.6 1216.2L419.7 1215.7L418.8 1216.4L417.9 1216L417 1216.2L416.1 1216.7L415.2 1216.4L414.3 1217.1L413.4 1216.6L412.5 1217.4L411.6 1217.8L410.7 1217.3L409.8 1218.3L408.9 1217.5L408 1217.6L407.1 1218.3L406.2 1218L405.4 1218.7L404.5 1218.7L403.6 1218.3L402.7 1217.9L401.8 1219L400.9 1218.7L400 1219.6L399.1 1219.6L398.2 1218.9L397.3 1219.2L396.4 1218.6L395.5 1220.1L394.6 1219.6L393.8 1219.7L392.9 1219.9L392 1220.9L391.1 1220.1L390.2 1220.6L389.3 1220L388.4 1219.8L387.5 1220.2L386.6 1222.1L385.8 1223.2L384.9 1221L384 1222L383.1 1222.6L382.2 1221.3L381.4 1223.1L380.5 1223.1L379.6 1223.1L378.8 1223.7L377.9 1224.2L377 1226.1L376.1 1225.2L375.2 1227.4L374.4 1224.4L373.5 1225.3L372.6 1225.8L371.8 1225L370.9 1225.9L370 1227.8L369.1 1229L368.2 1228.1L367.4 1225.4L366.5 1228.4L365.6 1230.3L364.7 1228.6L363.8 1230.7L362.9 1229.5L362.1 1232.7L361.2 1232L360.3 1234.8L359.4 1233.6L358.5 1236L357.6 1238.4L356.8 1239.6L355.9 1237.5L355 1238.3L354.2 1236L353.3 1239.7L352.5 1244L351.7 1242.3L350.8 1244.1L350 1240.9L349.2 1247.1L348.3 1243.8L347.5 1244.7L346.7 1252.2L345.8 1245.7L345 1247.5L344.2 1248.2L343.3 1252.9L342.5 1254.7L341.7 1253.9L340.8 1253.4L340 1258.1L339.2 1257.8L338.3 1260.4L337.5 1263.8L336.7 1260.2L335.8 1263.2L335 1263L334.2 1271.4L333.3 1272L332.5 1277.4L331.7 1274L330.8 1279.4L330 1284.5L329.2 1294.2L328.3 1304.8L327.5 1303.2L326.7 1310.1L325.8 1315.6L325 1322.7L324.3 1336L323.7 1348L323 1353.1Z" stroke="#000" stroke-width="0.70" fill="#000" stroke-linejoin="round"/>
<path d="M464 1204.9L464.8 1204.4L465.5 1204.4L466.3 1202.2L467.1 1203.7L467.9 1203L468.7 1202.9L469.5 1201.4L470.3 1201.9L471.1 1201.7L471.9 1202.5L472.7 1202.9L473.5 1203.1L474.3 1201L475.1 1201.2L475.9 1202.1L476.6 1201.9L477.4 1201.4L478.2 1203.7L479 1204L479.8 1203.5L480.6 1202.5L481.4 1202.5L482.2 1202.6L483 1202.8L483.8 1200L484.6 1202.7L485.4 1203.6L486.2 1203.2L487 1201.1L487.8 1202.9L488.5 1205.8L488.5 1216.6L487.8 1218.2L487 1219.2L486.2 1219.2L485.4 1221.4L484.6 1218.6L483.8 1219.5L483 1219.4L482.2 1218.6L481.4 1218L480.6 1220.5L479.8 1219.9L479 1220.6L478.2 1219.8L477.4 1218L476.6 1218.6L475.9 1219.2L475.1 1218.7L474.3 1220L473.5 1219.3L472.7 1219.6L471.9 1218.7L471.1 1217.6L470.3 1218.1L469.5 1218.9L468.7 1219.9L467.9 1220.1L467.1 1218.9L466.3 1219.3L465.5 1220.8L464.8 1218.4L464 1217.9Z" stroke="#000" stroke-width="0.70" fill="#000" stroke-linejoin="round"/>
<path d="M488 1211L488.9 1210.7L489.7 1210.7L490.6 1210.6L491.4 1211.2L492.3 1211.3L492.3 1213.7L491.4 1214.4L490.6 1214.1L489.7 1214L488.9 1214.2L488 1214.4Z" stroke="#000" stroke-width="0.70" fill="#000" stroke-linejoin="round"/>
<path d="M492.3 1205L493 1205.4L493.7 1204.9L494.5 1205L495.2 1205.2L495.9 1205.3L496.6 1206.3L496.6 1215.7L495.9 1216.7L495.2 1216.7L494.5 1216.4L493.7 1216.5L493 1216.8L492.3 1216.2Z" stroke="#000" stroke-width="0.70" fill="#000" stroke-linejoin="round"/>
<path d="M496 1211.6L496.9 1211.4L497.8 1211.3L498.7 1211.4L499.6 1211.2L500.5 1211.6L501.4 1211.1L502.3 1211.4L503.2 1211.3L504.1 1211.4L505 1211.6L505.9 1211.4L506.8 1211.2L507.7 1210.7L508.6 1211.5L509.5 1211.3L510.4 1211.2L511.3 1211L512.2 1211.3L513.1 1211.2L514 1211.3L514.9 1211.4L515.8 1211.1L516.7 1211L517.6 1211.3L518.5 1211.2L519.4 1211.4L520.2 1211.2L521.1 1211.5L522 1211.6L522.9 1211.5L523.8 1211.6L524.7 1211.5L525.6 1211.4L526.5 1211.4L527.4 1211.3L528.3 1211L529.2 1211.1L530.1 1210.8L531 1211.4L531.9 1211.1L532.8 1211.5L533.7 1211.7L534.6 1211.2L535.5 1211.8L536.4 1210.8L537.3 1210.9L538.2 1211.3L539.1 1211.5L540 1210.9L540.9 1211.5L541.8 1211.5L542.7 1211.2L543.6 1211L544.5 1211.4L545.4 1211.5L546.3 1211.5L547.2 1211.2L548.1 1211.2L549 1210.9L549.9 1210.9L550.8 1211.4L551.7 1211.3L552.6 1211.3L553.5 1211.4L554.4 1211.3L555.3 1211.6L556.2 1211.3L557.1 1211L558 1211.4L558.9 1211.4L559.8 1211.2L560.7 1211.2L561.6 1211.4L562.5 1211.4L563.4 1211.4L564.3 1211.3L565.2 1211.2L566.1 1211.2L567 1210.9L567.8 1211.2L568.7 1211L569.6 1211L570.5 1211.2L571.4 1211.4L572.3 1211.3L573.2 1211.5L574.1 1211.3L575 1211.3L575.9 1211.4L576.8 1211.4L577.7 1211.3L578.6 1210.9L579.5 1211.6L580.4 1211.4L581.3 1211.2L582.2 1211.2L583.1 1211L584 1211.1L584.9 1211.1L585.8 1211.4L586.7 1211.2L587.6 1211.1L588.5 1211.5L589.4 1211.6L590.3 1211.2L591.2 1211.1L592.1 1211.3L593 1211.2L593.9 1211.3L594.8 1211.4L595.7 1211.1L596.6 1211L597.5 1211.3L598.4 1211.3L599.3 1211.1L600.2 1211.4L601.1 1211.1L602 1211.5L602.9 1211.2L603.8 1211.4L604.7 1211.6L605.6 1211.2L606.5 1210.9L607.4 1211L608.3 1211.1L609.2 1211.5L610.1 1211.2L611 1211.1L611.9 1211L612.8 1211.1L613.7 1211.1L614.6 1210.8L615.4 1211.3L616.3 1210.9L617.2 1211L618.1 1211.2L619 1210.7L619.9 1211.3L620.8 1211.7L621.7 1211.8L622.6 1211.2L623.5 1211.4L624.4 1211.4L625.3 1211.3L626.2 1210.6L627.1 1211.3L628 1211.2L628.9 1211L629.8 1210.9L630.7 1211.2L631.6 1211.3L632.5 1211.3L633.4 1211.5L634.3 1211.5L635.2 1211.5L636.1 1211.4L637 1211.5L637.9 1211.6L638.8 1211.2L639.7 1211.5L640.6 1211.6L641.5 1211.3L642.4 1211.4L643.3 1211.4L644.2 1211.6L645.1 1211.4L646 1211.4L646.9 1211.5L647.8 1211.3L648.7 1211.1L649.6 1211.4L650.5 1211.3L651.4 1211.3L652.3 1211.2L653.2 1211.2L654.1 1210.9L655 1210.8L655.9 1210.8L656.8 1210.8L657.7 1211.4L658.6 1211.3L659.5 1211.4L660.4 1211L661.3 1211.1L662.2 1211.3L663 1211.2L663.9 1211.2L664.8 1211.4L665.7 1211.4L666.6 1210.8L667.5 1211.3L668.4 1211.3L669.3 1211.5L670.2 1211.1L671.1 1211.2L672 1211.1L672.9 1211.2L673.8 1211.1L674.7 1210.7L675.6 1211.3L676.5 1211.3L677.4 1211.4L678.3 1211.5L679.2 1211L680.1 1211L681 1211.5L681.9 1211.1L682.8 1211.1L683.7 1211.6L684.6 1211.3L685.5 1211.1L686.4 1210.7L687.3 1211.2L688.2 1211.3L689.1 1211.2L690 1211.5L690.9 1211.8L691.8 1211.6L692.7 1211L693.6 1211.1L694.5 1211.3L695.4 1211.5L696.3 1211.3L697.2 1211.4L698.1 1211.4L699 1211.6L699.9 1211.6L700.8 1211.2L701.7 1211.5L702.6 1211.6L703.5 1211.6L704.4 1211.5L705.3 1211.4L706.2 1211.3L707.1 1211.4L708 1211.5L708.9 1211L709.8 1211.6L710.6 1211.2L711.5 1211.4L712.4 1211.6L713.3 1211.2L714.2 1211.5L715.1 1211L716 1211.7L716.9 1211.5L717.8 1210.6L718.7 1211.2L719.6 1211.5L720.5 1211.6L721.4 1211.2L722.3 1211.3L723.2 1211.1L724.1 1211.2L725 1211.2L725.9 1211.1L726.8 1211L727.7 1211.3L728.6 1211.5L729.5 1211.5L730.4 1211.3L731.3 1211.2L732.2 1211L733.1 1211.5L734 1212L734 1214L733.1 1214.6L732.2 1214.8L731.3 1214.9L730.4 1214.8L729.5 1214.7L728.6 1214.9L727.7 1215.1L726.8 1215.1L725.9 1214.4L725 1215L724.1 1214.6L723.2 1214.7L722.3 1215.3L721.4 1214.5L720.5 1214.8L719.6 1214.9L718.7 1214.4L717.8 1215.2L716.9 1215.3L716 1214.9L715.1 1214.9L714.2 1214.7L713.3 1215L712.4 1214.8L711.5 1215L710.6 1214.7L709.8 1214.5L708.9 1214.7L708 1214.8L707.1 1214.6L706.2 1214.7L705.3 1214.6L704.4 1215L703.5 1214.9L702.6 1214.8L701.7 1214.7L700.8 1214.6L699.9 1214.7L699 1214.9L698.1 1214.9L697.2 1214.9L696.3 1215.1L695.4 1214.5L694.5 1214.7L693.6 1214.4L692.7 1214.5L691.8 1214.7L690.9 1215L690 1214.8L689.1 1214.8L688.2 1214.7L687.3 1214.9L686.4 1215.1L685.5 1214.4L684.6 1214.8L683.7 1214.6L682.8 1214.5L681.9 1214.5L681 1214.9L680.1 1215L679.2 1214.7L678.3 1214.9L677.4 1214.8L676.5 1214.5L675.6 1214.7L674.7 1214.6L673.8 1214.3L672.9 1214.3L672 1214.5L671.1 1214.6L670.2 1214.4L669.3 1214.5L668.4 1214.3L667.5 1214.9L666.6 1214.7L665.7 1214.8L664.8 1214.9L663.9 1214.8L663 1215.1L662.2 1214.7L661.3 1214.9L660.4 1214.6L659.5 1215L658.6 1214.3L657.7 1214.6L656.8 1214.2L655.9 1214.5L655 1214.5L654.1 1214.2L653.2 1214.5L652.3 1214.3L651.4 1214.4L650.5 1214.5L649.6 1214.7L648.7 1214.3L647.8 1214.5L646.9 1214.9L646 1214.9L645.1 1214.3L644.2 1214.9L643.3 1214.5L642.4 1214.6L641.5 1214.9L640.6 1215.3L639.7 1214.9L638.8 1214.8L637.9 1215.1L637 1214.9L636.1 1214.8L635.2 1214.8L634.3 1214.9L633.4 1214.9L632.5 1214.3L631.6 1214.5L630.7 1214.7L629.8 1214.6L628.9 1214.9L628 1214.7L627.1 1214.5L626.2 1214.5L625.3 1214.9L624.4 1214.8L623.5 1214.8L622.6 1214.7L621.7 1214.8L620.8 1214.7L619.9 1214.5L619 1214.4L618.1 1214.6L617.2 1214.6L616.3 1214.3L615.4 1214.7L614.6 1214.3L613.7 1214.4L612.8 1214.2L611.9 1214.9L611 1214.6L610.1 1214.9L609.2 1214.8L608.3 1214.8L607.4 1214.9L606.5 1214.6L605.6 1215L604.7 1215.1L603.8 1215L602.9 1214.9L602 1214.7L601.1 1214.8L600.2 1214.8L599.3 1214.6L598.4 1214.5L597.5 1214.3L596.6 1214.4L595.7 1214.6L594.8 1214.7L593.9 1214.6L593 1214.9L592.1 1215.1L591.2 1214.8L590.3 1214.6L589.4 1215.1L588.5 1214.7L587.6 1214.6L586.7 1214.8L585.8 1214.6L584.9 1214.6L584 1214.8L583.1 1214.6L582.2 1215L581.3 1214.5L580.4 1214.7L579.5 1214.8L578.6 1215.4L577.7 1214.6L576.8 1215.1L575.9 1214.8L575 1215.2L574.1 1215L573.2 1214.6L572.3 1215L571.4 1214.6L570.5 1214.4L569.6 1215L568.7 1214.6L567.8 1214.6L567 1214.6L566.1 1214.2L565.2 1214.3L564.3 1215L563.4 1215.1L562.5 1214.7L561.6 1214.8L560.7 1214.7L559.8 1214.6L558.9 1214.4L558 1214.6L557.1 1214.8L556.2 1214.5L555.3 1214.8L554.4 1214.7L553.5 1215L552.6 1214.8L551.7 1214.6L550.8 1214.7L549.9 1214.4L549 1214.3L548.1 1214.7L547.2 1215.2L546.3 1214.8L545.4 1214.6L544.5 1214.6L543.6 1214.6L542.7 1214.5L541.8 1215.2L540.9 1215.3L540 1214.8L539.1 1214.7L538.2 1214.3L537.3 1214.5L536.4 1214.6L535.5 1215.1L534.6 1214.5L533.7 1214.8L532.8 1215.4L531.9 1214.7L531 1214.4L530.1 1214.7L529.2 1214.8L528.3 1214.5L527.4 1214.8L526.5 1214.5L525.6 1214.8L524.7 1215.2L523.8 1214.7L522.9 1214.9L522 1214.9L521.1 1215L520.2 1214.7L519.4 1214.7L518.5 1214.9L517.6 1214.7L516.7 1214.6L515.8 1214.5L514.9 1214.9L514 1215L513.1 1214.6L512.2 1214.5L511.3 1214.6L510.4 1214.6L509.5 1215.1L508.6 1214.8L507.7 1214.6L506.8 1214.8L505.9 1214.8L505 1214.8L504.1 1214.4L503.2 1214.9L502.3 1214.5L501.4 1215.1L500.5 1215L499.6 1214.7L498.7 1214.7L497.8 1214.8L496.9 1215.1L496 1214.6Z" stroke="#000" stroke-width="0.70" fill="#000" stroke-linejoin="round"/>
<line x1="394.20" y1="1202.00" x2="394.20" y2="1215.00" stroke="#111" stroke-width="1.50" stroke-linecap="butt"/>
<line x1="685.00" y1="1213.00" x2="685.00" y2="1225.00" stroke="#333" stroke-width="1.00" stroke-linecap="butt"/>
</g>
<g id="panelD">
<text x="866.39" y="758.75" font-size="80.17" fill="#000" stroke="#000" stroke-width="0.40">D</text>
<line x1="1110.00" y1="888.70" x2="1110.00" y2="1325.30" stroke="#222" stroke-width="1.50" stroke-linecap="butt"/>
<line x1="1099.50" y1="1324.60" x2="1763.00" y2="1324.60" stroke="#222" stroke-width="1.50" stroke-linecap="butt"/>
<line x1="1099.50" y1="1215.82" x2="1110.00" y2="1215.82" stroke="#222" stroke-width="1.50" stroke-linecap="butt"/>
<line x1="1099.50" y1="1107.05" x2="1110.00" y2="1107.05" stroke="#222" stroke-width="1.50" stroke-linecap="butt"/>
<line x1="1099.50" y1="998.27" x2="1110.00" y2="998.27" stroke="#222" stroke-width="1.50" stroke-linecap="butt"/>
<line x1="1099.50" y1="889.50" x2="1110.00" y2="889.50" stroke="#222" stroke-width="1.50" stroke-linecap="butt"/>
<line x1="1219.25" y1="1324.60" x2="1219.25" y2="1336.40" stroke="#222" stroke-width="1.50" stroke-linecap="butt"/>
<line x1="1436.80" y1="1324.60" x2="1436.80" y2="1336.40" stroke="#222" stroke-width="1.50" stroke-linecap="butt"/>
<line x1="1653.80" y1="1324.60" x2="1653.80" y2="1336.40" stroke="#222" stroke-width="1.50" stroke-linecap="butt"/>
<text x="1073.60" y="1337.30" font-size="37.09" stroke="#000" stroke-width="0.4">0</text>
<text x="1052.98" y="1228.52" font-size="37.09" stroke="#000" stroke-width="0.4">50</text>
<text x="1032.35" y="1119.75" font-size="37.09" stroke="#000" stroke-width="0.4">100</text>
<text x="1032.35" y="1010.97" font-size="37.09" stroke="#000" stroke-width="0.4">150</text>
<text x="1032.35" y="902.20" font-size="37.09" stroke="#000" stroke-width="0.4">200</text>
<text transform="translate(946.00 1323.97) rotate(-90) scale(0.9569 1)" font-size="43.89" fill="#000" stroke="#000" stroke-width="0.40">% AITC-elicited TRPA1</text>
<text transform="translate(995.50 1264.63) rotate(-90) scale(0.9569 1)" font-size="42.35" fill="#000" stroke="#000" stroke-width="0.40">remaining current</text>
<path d="M1220.5 876.25 V853.75 H1654.5 V967.5" stroke="#000" stroke-width="2.00" fill="none" stroke-linejoin="miter"/>
<path d="M1220.5 923.75 V902.5 H1654.5" stroke="#000" stroke-width="2.00" fill="none" stroke-linejoin="miter"/>
<line x1="1435.75" y1="902.50" x2="1435.75" y2="963.00" stroke="#000" stroke-width="2.00" stroke-linecap="butt"/>
<text transform="translate(1374.14 835.00) scale(0.9479 1)" font-size="34.27" fill="#000" stroke="#000" stroke-width="0.55">p&lt;0.0001</text>
<text transform="translate(1265.93 892.50) scale(0.9479 1)" font-size="33.67" fill="#000" stroke="#000" stroke-width="0.55">p=0.0284</text>
<text transform="translate(1469.95 892.50) scale(0.9479 1)" font-size="33.21" fill="#000" stroke="#000" stroke-width="0.55">p=0.0133</text>
<line x1="1146.75" y1="1107.00" x2="1291.25" y2="1107.00" stroke="#000" stroke-width="2.60" stroke-linecap="butt"/>
<line x1="1183.00" y1="1085.75" x2="1255.00" y2="1085.75" stroke="#333" stroke-width="1.40" stroke-linecap="butt"/>
<line x1="1183.00" y1="1128.75" x2="1255.00" y2="1128.75" stroke="#333" stroke-width="1.40" stroke-linecap="butt"/>
<line x1="1219.25" y1="1085.75" x2="1219.25" y2="1128.75" stroke="#333" stroke-width="1.40" stroke-linecap="butt"/>
<circle cx="1219.25" cy="942.50" r="8.80" fill="#000"/>
<circle cx="1219.25" cy="990.75" r="8.80" fill="#000"/>
<circle cx="1219.25" cy="1020.00" r="8.80" fill="#000"/>
<circle cx="1193.00" cy="1042.00" r="8.80" fill="#000"/>
<circle cx="1219.25" cy="1065.50" r="8.80" fill="#000"/>
<circle cx="1245.50" cy="1064.50" r="8.80" fill="#000"/>
<circle cx="1180.00" cy="1110.50" r="8.80" fill="#000"/>
<circle cx="1206.25" cy="1111.75" r="8.80" fill="#000"/>
<circle cx="1245.50" cy="1115.50" r="8.80" fill="#000"/>
<circle cx="1271.75" cy="1112.00" r="8.80" fill="#000"/>
<circle cx="1232.25" cy="1127.00" r="8.80" fill="#000"/>
<circle cx="1206.25" cy="1145.00" r="8.80" fill="#000"/>
<circle cx="1219.25" cy="1172.00" r="8.80" fill="#000"/>
<circle cx="1193.00" cy="1221.75" r="8.80" fill="#000"/>
<circle cx="1219.25" cy="1241.25" r="8.80" fill="#000"/>
<circle cx="1245.50" cy="1238.25" r="8.80" fill="#000"/>
<path d="M1428.20 1020.80 L1445.40 1020.80 L1436.80 1038.60 Z" fill="#0000ff"/>
<path d="M1401.80 1094.10 L1419.00 1094.10 L1410.40 1111.90 Z" fill="#0000ff"/>
<path d="M1428.20 1105.70 L1445.40 1105.70 L1436.80 1123.50 Z" fill="#0000ff"/>
<path d="M1454.40 1101.10 L1471.60 1101.10 L1463.00 1118.90 Z" fill="#0000ff"/>
<path d="M1401.80 1166.30 L1419.00 1166.30 L1410.40 1184.10 Z" fill="#0000ff"/>
<path d="M1428.20 1166.90 L1445.40 1166.90 L1436.80 1184.70 Z" fill="#0000ff"/>
<path d="M1454.40 1165.80 L1471.60 1165.80 L1463.00 1183.60 Z" fill="#0000ff"/>
<path d="M1428.20 1226.10 L1445.40 1226.10 L1436.80 1243.90 Z" fill="#0000ff"/>
<path d="M1428.20 1270.70 L1445.40 1270.70 L1436.80 1288.50 Z" fill="#0000ff"/>
<path d="M1401.80 1284.10 L1419.00 1284.10 L1410.40 1301.90 Z" fill="#0000ff"/>
<path d="M1454.40 1289.80 L1471.60 1289.80 L1463.00 1307.60 Z" fill="#0000ff"/>
<path d="M1428.20 1302.50 L1445.40 1302.50 L1436.80 1320.30 Z" fill="#0000ff"/>
<line x1="1364.00" y1="1191.70" x2="1509.00" y2="1191.70" stroke="#000" stroke-width="2.60" stroke-linecap="butt"/>
<line x1="1400.40" y1="1165.30" x2="1472.40" y2="1165.30" stroke="#333" stroke-width="1.40" stroke-linecap="butt"/>
<line x1="1400.40" y1="1218.60" x2="1472.40" y2="1218.60" stroke="#333" stroke-width="1.40" stroke-linecap="butt"/>
<line x1="1436.80" y1="1165.30" x2="1436.80" y2="1218.60" stroke="#333" stroke-width="1.40" stroke-linecap="butt"/>
<rect x="1632.50" y="1254.20" width="17.20" height="17.20" fill="#ff0000"/>
<rect x="1658.70" y="1275.00" width="17.20" height="17.20" fill="#ff0000"/>
<rect x="1593.20" y="1311.40" width="17.20" height="17.20" fill="#ff0000"/>
<rect x="1619.10" y="1316.80" width="17.20" height="17.20" fill="#ff0000"/>
<rect x="1645.20" y="1316.80" width="17.20" height="17.20" fill="#ff0000"/>
<rect x="1671.40" y="1316.80" width="17.20" height="17.20" fill="#ff0000"/>
<rect x="1697.80" y="1316.80" width="17.20" height="17.20" fill="#ff0000"/>
<line x1="1581.60" y1="1309.00" x2="1726.60" y2="1309.00" stroke="#000" stroke-width="2.60" stroke-linecap="butt"/>
<line x1="1618.00" y1="1299.80" x2="1690.20" y2="1299.80" stroke="#333" stroke-width="1.40" stroke-linecap="butt"/>
<line x1="1618.00" y1="1319.00" x2="1690.20" y2="1319.00" stroke="#333" stroke-width="1.40" stroke-linecap="butt"/>
<line x1="1653.80" y1="1299.80" x2="1653.80" y2="1319.00" stroke="#333" stroke-width="1.40" stroke-linecap="butt"/>
<text x="1154.91" y="1373.75" font-size="36.78" fill="#000" stroke="#000" stroke-width="0.40">Control</text>
<text x="1369.91" y="1374.20" font-size="36.68" fill="#000" stroke="#000" stroke-width="0.40">AG1529</text>
<text x="1396.17" y="1413.80" font-size="36.68" fill="#000" stroke="#000" stroke-width="0.40">10<tspan font-family="'Liberation Serif',serif">μ</tspan>M</text>
<text x="1561.76" y="1374.20" font-size="36.87" fill="#000" stroke="#000" stroke-width="0.40">HC030031</text>
<text x="1619.78" y="1413.80" font-size="36.68" fill="#000" stroke="#000" stroke-width="0.40">5<tspan font-family="'Liberation Serif',serif">μ</tspan>M</text>
</g>
<g id="panelE">
<text x="295.57" y="1525.75" font-size="77.88" fill="#000" stroke="#000" stroke-width="0.40">E</text>
<line x1="567.50" y1="1615.00" x2="567.50" y2="2036.80" stroke="#000" stroke-width="2.20" stroke-linecap="butt"/>
<line x1="556.20" y1="2035.70" x2="1198.75" y2="2035.70" stroke="#000" stroke-width="2.20" stroke-linecap="butt"/>
<line x1="556.20" y1="1919.02" x2="567.50" y2="1919.02" stroke="#000" stroke-width="2.20" stroke-linecap="butt"/>
<line x1="556.20" y1="1802.33" x2="567.50" y2="1802.33" stroke="#000" stroke-width="2.20" stroke-linecap="butt"/>
<line x1="556.20" y1="1685.64" x2="567.50" y2="1685.64" stroke="#000" stroke-width="2.20" stroke-linecap="butt"/>
<line x1="619.50" y1="2035.70" x2="619.50" y2="2046.60" stroke="#000" stroke-width="2.20" stroke-linecap="butt"/>
<line x1="724.30" y1="2035.70" x2="724.30" y2="2046.60" stroke="#000" stroke-width="2.20" stroke-linecap="butt"/>
<line x1="829.00" y1="2035.70" x2="829.00" y2="2046.60" stroke="#000" stroke-width="2.20" stroke-linecap="butt"/>
<line x1="933.80" y1="2035.70" x2="933.80" y2="2046.60" stroke="#000" stroke-width="2.20" stroke-linecap="butt"/>
<line x1="1038.50" y1="2035.70" x2="1038.50" y2="2046.60" stroke="#000" stroke-width="2.20" stroke-linecap="butt"/>
<line x1="1143.25" y1="2035.70" x2="1143.25" y2="2046.60" stroke="#000" stroke-width="2.20" stroke-linecap="butt"/>
<text x="533.37" y="2047.20" font-size="34.26" stroke="#000" stroke-width="0.4">0</text>
<text x="514.32" y="1930.52" font-size="34.26" stroke="#000" stroke-width="0.4">50</text>
<text x="495.27" y="1813.83" font-size="34.26" stroke="#000" stroke-width="0.4">100</text>
<text x="495.27" y="1697.14" font-size="34.26" stroke="#000" stroke-width="0.4">150</text>
<text transform="translate(432.50 2017.58) rotate(-90) scale(0.9569 1)" font-size="39.86" fill="#000" stroke="#000" stroke-width="0.40">% agonist-elicited TRP</text>
<text transform="translate(477.50 1969.92) rotate(-90) scale(0.9569 1)" font-size="38.97" fill="#000" stroke="#000" stroke-width="0.40">remaining current</text>
<path d="M721.5 1569.5 V1533.25 H1150.75 V1569.5" stroke="#000" stroke-width="2.00" fill="none" stroke-linejoin="miter"/>
<path d="M721.5 1617.5 V1582 H1150.75 V1617.5" stroke="#000" stroke-width="2.00" fill="none" stroke-linejoin="miter"/>
<line x1="936.00" y1="1582.00" x2="936.00" y2="1617.50" stroke="#000" stroke-width="2.00" stroke-linecap="butt"/>
<text transform="translate(868.34 1523.00) scale(0.9479 1)" font-size="31.08" fill="#000" stroke="#000" stroke-width="0.55">p=0.0496</text>
<text transform="translate(772.59 1573.75) scale(0.9479 1)" font-size="31.01" fill="#000" stroke="#000" stroke-width="0.55">p=0.0252</text>
<text transform="translate(987.59 1572.50) scale(0.9479 1)" font-size="30.99" fill="#000" stroke="#000" stroke-width="0.55">p&gt;0.999</text>
<line x1="585.00" y1="1802.00" x2="654.00" y2="1802.00" stroke="#000" stroke-width="4.00" stroke-linecap="butt"/>
<line x1="602.30" y1="1787.00" x2="636.70" y2="1787.00" stroke="#ff0000" stroke-width="3.40" stroke-linecap="butt"/>
<line x1="602.30" y1="1817.00" x2="636.70" y2="1817.00" stroke="#ff0000" stroke-width="3.40" stroke-linecap="butt"/>
<line x1="619.50" y1="1787.00" x2="619.50" y2="1817.00" stroke="#ff0000" stroke-width="3.40" stroke-linecap="butt"/>
<rect x="585.62" y="1768.38" width="16.25" height="16.25" fill="#ff0000"/>
<rect x="638.12" y="1763.12" width="16.25" height="16.25" fill="#ff0000"/>
<rect x="620.62" y="1772.12" width="16.25" height="16.25" fill="#ff0000"/>
<rect x="603.38" y="1783.88" width="16.25" height="16.25" fill="#ff0000"/>
<rect x="611.38" y="1823.88" width="16.25" height="16.25" fill="#ff0000"/>
<rect x="611.38" y="1854.38" width="16.25" height="16.25" fill="#ff0000"/>
<line x1="690.00" y1="1970.00" x2="759.00" y2="1970.00" stroke="#000" stroke-width="4.00" stroke-linecap="butt"/>
<line x1="707.30" y1="1960.75" x2="741.70" y2="1960.75" stroke="#000" stroke-width="3.40" stroke-linecap="butt"/>
<line x1="707.30" y1="1980.00" x2="741.70" y2="1980.00" stroke="#000" stroke-width="3.40" stroke-linecap="butt"/>
<line x1="724.50" y1="1960.75" x2="724.50" y2="1980.00" stroke="#000" stroke-width="3.40" stroke-linecap="butt"/>
<circle cx="724.50" cy="1941.75" r="8.10" fill="#ff0000"/>
<circle cx="747.00" cy="1950.00" r="8.10" fill="#ff0000"/>
<circle cx="701.50" cy="1963.75" r="8.10" fill="#ff0000"/>
<circle cx="724.50" cy="1973.75" r="8.10" fill="#ff0000"/>
<circle cx="736.50" cy="1993.75" r="8.10" fill="#ff0000"/>
<circle cx="712.75" cy="1998.75" r="8.10" fill="#ff0000"/>
<line x1="794.50" y1="1802.00" x2="863.50" y2="1802.00" stroke="#000" stroke-width="4.00" stroke-linecap="butt"/>
<line x1="811.80" y1="1787.00" x2="846.20" y2="1787.00" stroke="#000" stroke-width="3.40" stroke-linecap="butt"/>
<line x1="811.80" y1="1818.00" x2="846.20" y2="1818.00" stroke="#000" stroke-width="3.40" stroke-linecap="butt"/>
<line x1="829.00" y1="1787.00" x2="829.00" y2="1818.00" stroke="#000" stroke-width="3.40" stroke-linecap="butt"/>
<rect x="820.88" y="1659.88" width="16.25" height="16.25" fill="#569ef8"/>
<rect x="808.88" y="1707.38" width="16.25" height="16.25" fill="#569ef8"/>
<rect x="832.88" y="1708.62" width="16.25" height="16.25" fill="#569ef8"/>
<rect x="798.38" y="1743.62" width="16.25" height="16.25" fill="#569ef8"/>
<rect x="843.88" y="1744.38" width="16.25" height="16.25" fill="#569ef8"/>
<rect x="820.88" y="1759.88" width="16.25" height="16.25" fill="#569ef8"/>
<rect x="820.88" y="1786.88" width="16.25" height="16.25" fill="#569ef8"/>
<rect x="798.38" y="1803.88" width="16.25" height="16.25" fill="#569ef8"/>
<rect x="843.88" y="1809.88" width="16.25" height="16.25" fill="#569ef8"/>
<rect x="820.88" y="1813.88" width="16.25" height="16.25" fill="#569ef8"/>
<rect x="795.12" y="1831.88" width="16.25" height="16.25" fill="#569ef8"/>
<rect x="847.12" y="1834.88" width="16.25" height="16.25" fill="#569ef8"/>
<rect x="812.62" y="1841.88" width="16.25" height="16.25" fill="#569ef8"/>
<rect x="829.62" y="1844.88" width="16.25" height="16.25" fill="#569ef8"/>
<rect x="798.38" y="1859.38" width="16.25" height="16.25" fill="#569ef8"/>
<rect x="843.88" y="1872.62" width="16.25" height="16.25" fill="#569ef8"/>
<rect x="820.88" y="1878.12" width="16.25" height="16.25" fill="#569ef8"/>
<line x1="899.50" y1="1873.25" x2="968.50" y2="1873.25" stroke="#000" stroke-width="4.00" stroke-linecap="butt"/>
<line x1="916.80" y1="1858.00" x2="951.20" y2="1858.00" stroke="#000" stroke-width="3.40" stroke-linecap="butt"/>
<line x1="916.80" y1="1888.00" x2="951.20" y2="1888.00" stroke="#000" stroke-width="3.40" stroke-linecap="butt"/>
<line x1="934.00" y1="1858.00" x2="934.00" y2="1888.00" stroke="#000" stroke-width="3.40" stroke-linecap="butt"/>
<circle cx="934.00" cy="1759.50" r="8.10" fill="#569ef8"/>
<circle cx="922.00" cy="1814.50" r="8.10" fill="#569ef8"/>
<circle cx="945.75" cy="1838.00" r="8.10" fill="#569ef8"/>
<circle cx="922.00" cy="1865.00" r="8.10" fill="#569ef8"/>
<circle cx="945.75" cy="1864.50" r="8.10" fill="#569ef8"/>
<circle cx="911.00" cy="1883.75" r="8.10" fill="#569ef8"/>
<circle cx="957.00" cy="1883.25" r="8.10" fill="#569ef8"/>
<circle cx="922.00" cy="1904.25" r="8.10" fill="#569ef8"/>
<circle cx="945.75" cy="1901.25" r="8.10" fill="#569ef8"/>
<circle cx="934.00" cy="1906.25" r="8.10" fill="#569ef8"/>
<circle cx="922.00" cy="1931.25" r="8.10" fill="#569ef8"/>
<circle cx="945.75" cy="1928.75" r="8.10" fill="#569ef8"/>
<line x1="1004.00" y1="1802.00" x2="1073.00" y2="1802.00" stroke="#000" stroke-width="4.00" stroke-linecap="butt"/>
<line x1="1021.30" y1="1779.25" x2="1055.70" y2="1779.25" stroke="#000" stroke-width="3.40" stroke-linecap="butt"/>
<line x1="1021.30" y1="1825.75" x2="1055.70" y2="1825.75" stroke="#000" stroke-width="3.40" stroke-linecap="butt"/>
<line x1="1038.50" y1="1779.25" x2="1038.50" y2="1825.75" stroke="#000" stroke-width="3.40" stroke-linecap="butt"/>
<rect x="1030.38" y="1617.62" width="16.25" height="16.25" fill="#00b400"/>
<rect x="1030.38" y="1669.38" width="16.25" height="16.25" fill="#00b400"/>
<rect x="1018.38" y="1700.12" width="16.25" height="16.25" fill="#00b400"/>
<rect x="1054.62" y="1723.88" width="16.25" height="16.25" fill="#00b400"/>
<rect x="1018.38" y="1750.62" width="16.25" height="16.25" fill="#00b400"/>
<rect x="1042.12" y="1748.12" width="16.25" height="16.25" fill="#00b400"/>
<rect x="1002.88" y="1797.62" width="16.25" height="16.25" fill="#00b400"/>
<rect x="1022.12" y="1798.88" width="16.25" height="16.25" fill="#00b400"/>
<rect x="1039.62" y="1801.88" width="16.25" height="16.25" fill="#00b400"/>
<rect x="1057.12" y="1798.62" width="16.25" height="16.25" fill="#00b400"/>
<rect x="1042.12" y="1814.38" width="16.25" height="16.25" fill="#00b400"/>
<rect x="1018.38" y="1834.38" width="16.25" height="16.25" fill="#00b400"/>
<rect x="1030.38" y="1862.62" width="16.25" height="16.25" fill="#00b400"/>
<rect x="1007.88" y="1916.88" width="16.25" height="16.25" fill="#00b400"/>
<rect x="1030.38" y="1937.62" width="16.25" height="16.25" fill="#00b400"/>
<rect x="1053.38" y="1934.88" width="16.25" height="16.25" fill="#00b400"/>
<line x1="1108.75" y1="1893.00" x2="1177.75" y2="1893.00" stroke="#000" stroke-width="4.00" stroke-linecap="butt"/>
<line x1="1126.05" y1="1864.50" x2="1160.45" y2="1864.50" stroke="#000" stroke-width="3.40" stroke-linecap="butt"/>
<line x1="1126.05" y1="1921.75" x2="1160.45" y2="1921.75" stroke="#000" stroke-width="3.40" stroke-linecap="butt"/>
<line x1="1143.25" y1="1864.50" x2="1143.25" y2="1921.75" stroke="#000" stroke-width="3.40" stroke-linecap="butt"/>
<circle cx="1143.25" cy="1720.00" r="8.10" fill="#00b400"/>
<circle cx="1120.75" cy="1798.00" r="8.10" fill="#00b400"/>
<circle cx="1143.25" cy="1810.00" r="8.10" fill="#00b400"/>
<circle cx="1166.25" cy="1805.75" r="8.10" fill="#00b400"/>
<circle cx="1120.75" cy="1875.50" r="8.10" fill="#00b400"/>
<circle cx="1143.25" cy="1877.00" r="8.10" fill="#00b400"/>
<circle cx="1166.25" cy="1875.50" r="8.10" fill="#00b400"/>
<circle cx="1143.25" cy="1940.00" r="8.10" fill="#00b400"/>
<circle cx="1143.25" cy="1987.50" r="8.10" fill="#00b400"/>
<circle cx="1120.75" cy="2002.50" r="8.10" fill="#00b400"/>
<circle cx="1166.25" cy="2008.00" r="8.10" fill="#00b400"/>
<circle cx="1143.25" cy="2020.75" r="8.10" fill="#00b400"/>
<text x="607.76" y="2081.25" font-size="32.76" fill="#000" stroke="#000" stroke-width="0.40">C</text>
<text x="700.91" y="2081.25" font-size="34.09" fill="#000" stroke="#000" stroke-width="0.40">AG</text>
<text x="817.26" y="2081.25" font-size="32.76" fill="#000" stroke="#000" stroke-width="0.40">C</text>
<text x="910.41" y="2081.25" font-size="34.09" fill="#000" stroke="#000" stroke-width="0.40">AG</text>
<text x="1026.76" y="2081.25" font-size="32.76" fill="#000" stroke="#000" stroke-width="0.40">C</text>
<text x="1119.86" y="2081.25" font-size="34.09" fill="#000" stroke="#000" stroke-width="0.40">AG</text>
<line x1="583.75" y1="2113.00" x2="786.40" y2="2113.00" stroke="#000" stroke-width="2.30" stroke-linecap="butt"/>
<line x1="797.00" y1="2113.00" x2="1000.60" y2="2113.00" stroke="#000" stroke-width="2.30" stroke-linecap="butt"/>
<line x1="1007.60" y1="2113.00" x2="1211.25" y2="2113.00" stroke="#000" stroke-width="2.30" stroke-linecap="butt"/>
<text x="636.79" y="2146.80" font-size="31.67" fill="#ff0000" stroke="#ff0000" stroke-width="0.40">TRPV1</text>
<text x="846.29" y="2146.80" font-size="31.45" fill="#4f96f6" stroke="#4f96f6" stroke-width="0.40">TRPM8</text>
<text x="1063.27" y="2146.80" font-size="32.25" fill="#00b400" stroke="#00b400" stroke-width="0.40">TRPA1</text>
<rect x="1221.25" y="1599.40" width="13.25" height="13.10" fill="#000"/>
<text x="1243.34" y="1613.75" font-size="33.16" fill="#000" stroke="#000" stroke-width="0.40">Control</text>
<circle cx="1227.50" cy="1645.75" r="6.50" fill="#000"/>
<text x="1244.17" y="1655.75" font-size="32.91" fill="#000" stroke="#000" stroke-width="0.40">AG1529 10<tspan font-family="'Liberation Serif',serif">μ</tspan>M</text>
</g>
</svg>
</body>
</html>
